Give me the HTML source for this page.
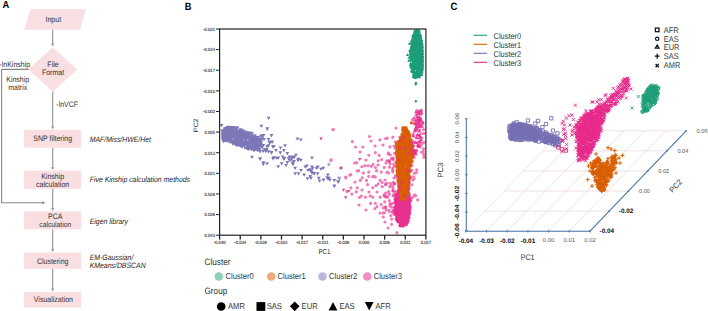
<!DOCTYPE html>
<html><head><meta charset="utf-8"><style>
html,body{margin:0;padding:0;background:#fff;width:708px;height:311px;overflow:hidden}
svg{display:block;font-family:"Liberation Sans", sans-serif;text-rendering:geometricPrecision}
</style></head><body>
<svg width="708" height="311" viewBox="0 0 708 311">
<text x="0" y="0" font-size="9.6" text-anchor="start" fill="#000" font-weight="bold" transform="translate(2.60 4.40) translate(0 3.50) scale(0.97 1.060)">A</text><polygon points="30.5,9.2 86,9.2 80,29.7 24.1,29.7" fill="#f9dfe1"/><text x="0" y="0" font-size="7" text-anchor="middle" fill="#333" transform="translate(53.30 19.30) translate(0 2.72) scale(1.0 1.130)">Input</text><line x1="52.7" y1="29.7" x2="52.7" y2="44.199999999999996" stroke="#999" stroke-width="1.2"/><polygon points="51.1,43.599999999999994 54.300000000000004,43.599999999999994 52.7,46.5" fill="#999"/><polygon points="52.7,47.2 77.4,69.4 52.7,91.5 28.3,69.4" fill="#f9dfe1"/><text x="0" y="0" font-size="7" text-anchor="middle" fill="#333" transform="translate(53.00 64.10) translate(0 2.72) scale(1.0 1.130)">File</text><text x="0" y="0" font-size="7" text-anchor="middle" fill="#333" transform="translate(53.00 72.20) translate(0 2.72) scale(1.0 1.130)">Format</text><text x="0" y="0" font-size="7" text-anchor="start" fill="#333" transform="translate(-0.60 64.00) translate(0 2.72) scale(1.0 1.130)">-lnKinship</text><polyline points="28.6,69.4 1.6,69.4 1.6,202.8 43,202.8" fill="none" stroke="#888" stroke-width="1.1"/><polygon points="42.3,201.2 42.3,204.4 45.3,202.8" fill="#888"/><text x="0" y="0" font-size="7" text-anchor="middle" fill="#333" transform="translate(17.70 79.40) translate(0 2.72) scale(1.0 1.130)">Kinship</text><text x="0" y="0" font-size="7" text-anchor="middle" fill="#333" transform="translate(17.70 87.40) translate(0 2.72) scale(1.0 1.130)">matrix</text><line x1="52.7" y1="91.5" x2="52.7" y2="127.0" stroke="#999" stroke-width="1.2"/><polygon points="51.1,126.39999999999999 54.300000000000004,126.39999999999999 52.7,129.29999999999998" fill="#999"/><text x="0" y="0" font-size="7" text-anchor="start" fill="#333" transform="translate(56.30 104.30) translate(0 2.72) scale(1.0 1.130)">-lnVCF</text><rect x="24.1" y="129.8" width="57.1" height="17.9" fill="#f9dfe1"/><text x="0" y="0" font-size="7.0" text-anchor="middle" fill="#333" transform="translate(52.65 138.70) translate(0 2.72) scale(1.0 1.130)">SNP filtering</text><rect x="24.1" y="170.6" width="57.1" height="18.2" fill="#f9dfe1"/><text x="0" y="0" font-size="7.0" text-anchor="middle" fill="#333" transform="translate(52.65 175.90) translate(0 2.72) scale(1.0 1.130)">Kinship</text><text x="0" y="0" font-size="7.0" text-anchor="middle" fill="#333" transform="translate(52.65 184.60) translate(0 2.72) scale(1.0 1.130)">calculation</text><line x1="52.7" y1="147.7" x2="52.7" y2="167.8" stroke="#999" stroke-width="1.2"/><polygon points="51.1,167.20000000000002 54.300000000000004,167.20000000000002 52.7,170.1" fill="#999"/><rect x="24.1" y="211.4" width="57.1" height="18.0" fill="#f9dfe1"/><text x="0" y="0" font-size="7.0" text-anchor="middle" fill="#333" transform="translate(55.30 216.70) translate(0 2.72) scale(1.0 1.130)">PCA</text><text x="0" y="0" font-size="6.75" text-anchor="middle" fill="#333" transform="translate(55.30 224.80) translate(0 2.62) scale(1.0 1.130)">calculation</text><line x1="52.7" y1="188.8" x2="52.7" y2="208.60000000000002" stroke="#999" stroke-width="1.2"/><polygon points="51.1,208.00000000000003 54.300000000000004,208.00000000000003 52.7,210.9" fill="#999"/><rect x="24.1" y="252.6" width="57.1" height="16.2" fill="#f9dfe1"/><text x="0" y="0" font-size="7.0" text-anchor="middle" fill="#333" transform="translate(52.65 261.60) translate(0 2.72) scale(1.0 1.130)">Clustering</text><line x1="52.7" y1="229.4" x2="52.7" y2="249.8" stroke="#999" stroke-width="1.2"/><polygon points="51.1,249.20000000000002 54.300000000000004,249.20000000000002 52.7,252.1" fill="#999"/><rect x="24.1" y="292.0" width="57.1" height="15.6" fill="#f9dfe1"/><text x="0" y="0" font-size="7.0" text-anchor="middle" fill="#333" transform="translate(53.40 299.60) translate(0 2.72) scale(1.0 1.130)">Visualization</text><line x1="52.7" y1="268.8" x2="52.7" y2="289.2" stroke="#999" stroke-width="1.2"/><polygon points="51.1,288.6 54.300000000000004,288.6 52.7,291.5" fill="#999"/><text x="0" y="0" font-size="6.9" text-anchor="start" fill="#222" font-style="italic" transform="translate(89.70 139.50) translate(0 2.68) scale(1.0 1.130)">MAF/Miss/HWE/Het</text><text x="0" y="0" font-size="6.9" text-anchor="start" fill="#222" font-style="italic" transform="translate(89.70 179.50) translate(0 2.68) scale(1.0 1.130)">Five Kinship calculation methods</text><text x="0" y="0" font-size="6.9" text-anchor="start" fill="#222" font-style="italic" transform="translate(89.70 221.00) translate(0 2.68) scale(1.0 1.130)">Eigen library</text><text x="0" y="0" font-size="6.9" text-anchor="start" fill="#222" font-style="italic" transform="translate(89.70 257.00) translate(0 2.68) scale(1.0 1.130)">EM-Gaussian/</text><text x="0" y="0" font-size="6.9" text-anchor="start" fill="#222" font-style="italic" transform="translate(89.70 265.30) translate(0 2.68) scale(1.0 1.130)">KMeans/DBSCAN</text><text x="0" y="0" font-size="10.6" text-anchor="start" fill="#000" font-weight="bold" transform="translate(184.80 5.85) translate(0 3.65) scale(0.88 1.000)">B</text><line x1="216.00" y1="29.00" x2="219.6" y2="29.00" stroke="#222" stroke-width="1"/><text x="0" y="0" font-size="4.2" text-anchor="end" fill="#3a3a3a" transform="translate(215.00 29.20) translate(0 1.63) scale(1.0 1.130)" stroke="#3a3a3a" stroke-width="0.12">-0.031</text><line x1="216.00" y1="49.62" x2="219.6" y2="49.62" stroke="#222" stroke-width="1"/><text x="0" y="0" font-size="4.2" text-anchor="end" fill="#3a3a3a" transform="translate(215.00 49.82) translate(0 1.63) scale(1.0 1.130)" stroke="#3a3a3a" stroke-width="0.12">-0.024</text><line x1="216.00" y1="70.24" x2="219.6" y2="70.24" stroke="#222" stroke-width="1"/><text x="0" y="0" font-size="4.2" text-anchor="end" fill="#3a3a3a" transform="translate(215.00 70.44) translate(0 1.63) scale(1.0 1.130)" stroke="#3a3a3a" stroke-width="0.12">-0.017</text><line x1="216.00" y1="90.86" x2="219.6" y2="90.86" stroke="#222" stroke-width="1"/><text x="0" y="0" font-size="4.2" text-anchor="end" fill="#3a3a3a" transform="translate(215.00 91.06) translate(0 1.63) scale(1.0 1.130)" stroke="#3a3a3a" stroke-width="0.12">-0.010</text><line x1="216.00" y1="111.48" x2="219.6" y2="111.48" stroke="#222" stroke-width="1"/><text x="0" y="0" font-size="4.2" text-anchor="end" fill="#3a3a3a" transform="translate(215.00 111.68) translate(0 1.63) scale(1.0 1.130)" stroke="#3a3a3a" stroke-width="0.12">-0.002</text><line x1="216.00" y1="132.10" x2="219.6" y2="132.10" stroke="#222" stroke-width="1"/><text x="0" y="0" font-size="4.2" text-anchor="end" fill="#3a3a3a" transform="translate(215.00 132.30) translate(0 1.63) scale(1.0 1.130)" stroke="#3a3a3a" stroke-width="0.12">0.005</text><line x1="216.00" y1="152.72" x2="219.6" y2="152.72" stroke="#222" stroke-width="1"/><text x="0" y="0" font-size="4.2" text-anchor="end" fill="#3a3a3a" transform="translate(215.00 152.92) translate(0 1.63) scale(1.0 1.130)" stroke="#3a3a3a" stroke-width="0.12">0.013</text><line x1="216.00" y1="173.34" x2="219.6" y2="173.34" stroke="#222" stroke-width="1"/><text x="0" y="0" font-size="4.2" text-anchor="end" fill="#3a3a3a" transform="translate(215.00 173.54) translate(0 1.63) scale(1.0 1.130)" stroke="#3a3a3a" stroke-width="0.12">0.021</text><line x1="216.00" y1="193.96" x2="219.6" y2="193.96" stroke="#222" stroke-width="1"/><text x="0" y="0" font-size="4.2" text-anchor="end" fill="#3a3a3a" transform="translate(215.00 194.16) translate(0 1.63) scale(1.0 1.130)" stroke="#3a3a3a" stroke-width="0.12">0.028</text><line x1="216.00" y1="214.58" x2="219.6" y2="214.58" stroke="#222" stroke-width="1"/><text x="0" y="0" font-size="4.2" text-anchor="end" fill="#3a3a3a" transform="translate(215.00 214.78) translate(0 1.63) scale(1.0 1.130)" stroke="#3a3a3a" stroke-width="0.12">0.036</text><line x1="216.00" y1="235.20" x2="219.6" y2="235.20" stroke="#222" stroke-width="1"/><text x="0" y="0" font-size="4.2" text-anchor="end" fill="#3a3a3a" transform="translate(215.00 235.40) translate(0 1.63) scale(1.0 1.130)" stroke="#3a3a3a" stroke-width="0.12">0.043</text><line x1="219.60" y1="235.2" x2="219.60" y2="239.6" stroke="#222" stroke-width="1.3"/><text x="0" y="0" font-size="4.2" text-anchor="middle" fill="#3a3a3a" transform="translate(219.60 242.40) translate(0 1.63) scale(1.0 1.130)" stroke="#3a3a3a" stroke-width="0.12">-0.040</text><line x1="240.23" y1="235.2" x2="240.23" y2="239.6" stroke="#222" stroke-width="1.3"/><text x="0" y="0" font-size="4.2" text-anchor="middle" fill="#3a3a3a" transform="translate(240.23 242.40) translate(0 1.63) scale(1.0 1.130)" stroke="#3a3a3a" stroke-width="0.12">-0.034</text><line x1="260.86" y1="235.2" x2="260.86" y2="239.6" stroke="#222" stroke-width="1.3"/><text x="0" y="0" font-size="4.2" text-anchor="middle" fill="#3a3a3a" transform="translate(260.86 242.40) translate(0 1.63) scale(1.0 1.130)" stroke="#3a3a3a" stroke-width="0.12">-0.028</text><line x1="281.49" y1="235.2" x2="281.49" y2="239.6" stroke="#222" stroke-width="1.3"/><text x="0" y="0" font-size="4.2" text-anchor="middle" fill="#3a3a3a" transform="translate(281.49 242.40) translate(0 1.63) scale(1.0 1.130)" stroke="#3a3a3a" stroke-width="0.12">-0.023</text><line x1="302.12" y1="235.2" x2="302.12" y2="239.6" stroke="#222" stroke-width="1.3"/><text x="0" y="0" font-size="4.2" text-anchor="middle" fill="#3a3a3a" transform="translate(302.12 242.40) translate(0 1.63) scale(1.0 1.130)" stroke="#3a3a3a" stroke-width="0.12">-0.017</text><line x1="322.75" y1="235.2" x2="322.75" y2="239.6" stroke="#222" stroke-width="1.3"/><text x="0" y="0" font-size="4.2" text-anchor="middle" fill="#3a3a3a" transform="translate(322.75 242.40) translate(0 1.63) scale(1.0 1.130)" stroke="#3a3a3a" stroke-width="0.12">-0.011</text><line x1="343.38" y1="235.2" x2="343.38" y2="239.6" stroke="#222" stroke-width="1.3"/><text x="0" y="0" font-size="4.2" text-anchor="middle" fill="#3a3a3a" transform="translate(343.38 242.40) translate(0 1.63) scale(1.0 1.130)" stroke="#3a3a3a" stroke-width="0.12">-0.006</text><line x1="364.01" y1="235.2" x2="364.01" y2="239.6" stroke="#222" stroke-width="1.3"/><text x="0" y="0" font-size="4.2" text-anchor="middle" fill="#3a3a3a" transform="translate(364.01 242.40) translate(0 1.63) scale(1.0 1.130)" stroke="#3a3a3a" stroke-width="0.12">0.000</text><line x1="384.64" y1="235.2" x2="384.64" y2="239.6" stroke="#222" stroke-width="1.3"/><text x="0" y="0" font-size="4.2" text-anchor="middle" fill="#3a3a3a" transform="translate(384.64 242.40) translate(0 1.63) scale(1.0 1.130)" stroke="#3a3a3a" stroke-width="0.12">0.006</text><line x1="405.27" y1="235.2" x2="405.27" y2="239.6" stroke="#222" stroke-width="1.3"/><text x="0" y="0" font-size="4.2" text-anchor="middle" fill="#3a3a3a" transform="translate(405.27 242.40) translate(0 1.63) scale(1.0 1.130)" stroke="#3a3a3a" stroke-width="0.12">0.011</text><line x1="425.90" y1="235.2" x2="425.90" y2="239.6" stroke="#222" stroke-width="1.3"/><text x="0" y="0" font-size="4.2" text-anchor="middle" fill="#3a3a3a" transform="translate(425.90 242.40) translate(0 1.63) scale(1.0 1.130)" stroke="#3a3a3a" stroke-width="0.12">0.017</text><text x="0" y="0" font-size="7.0" text-anchor="middle" fill="#222" transform="translate(196.00 125.40) rotate(-90) translate(0 2.22) scale(1.0 0.920)">PC2</text><text x="0" y="0" font-size="6.2" text-anchor="middle" fill="#222" transform="translate(324.50 251.50) translate(0 2.41) scale(1.0 1.130)">PC1</text><clipPath id="cb"><rect x="219.6" y="29.0" width="206.29999999999998" height="206.2"/></clipPath><g clip-path="url(#cb)"><path d="M233.27,129.30L236.87,129.30L235.07,132.42ZM241.58,134.39L245.18,134.39L243.38,137.51ZM222.85,137.75L226.45,137.75L224.65,140.87ZM222.05,136.00L225.65,136.00L223.85,139.12ZM223.32,127.87L226.92,127.87L225.12,130.99ZM225.43,131.01L229.03,131.01L227.23,134.13ZM243.20,135.12L246.80,135.12L245.00,138.24ZM226.23,128.52L229.83,128.52L228.03,131.63ZM227.66,139.50L231.26,139.50L229.46,142.62ZM245.62,134.55L249.22,134.55L247.42,137.67ZM222.92,130.60L226.52,130.60L224.72,133.72ZM247.24,135.86L250.84,135.86L249.04,138.97ZM232.89,139.60L236.49,139.60L234.69,142.72ZM238.34,132.83L241.94,132.83L240.14,135.94ZM251.71,142.29L255.31,142.29L253.51,145.40ZM230.15,139.33L233.75,139.33L231.95,142.45ZM249.17,132.55L252.77,132.55L250.97,135.66ZM236.97,143.66L240.57,143.66L238.77,146.78ZM226.54,137.31L230.14,137.31L228.34,140.43ZM250.54,139.30L254.14,139.30L252.34,142.42ZM247.83,139.81L251.43,139.81L249.63,142.92ZM243.31,136.53L246.91,136.53L245.11,139.65ZM253.50,148.11L257.10,148.11L255.30,151.23ZM239.16,141.46L242.76,141.46L240.96,144.58ZM235.70,141.57L239.30,141.57L237.50,144.69ZM221.46,136.66L225.06,136.66L223.26,139.78ZM227.17,128.50L230.77,128.50L228.97,131.62ZM225.65,131.59L229.25,131.59L227.45,134.71ZM223.74,136.37L227.34,136.37L225.54,139.49ZM252.69,146.20L256.29,146.20L254.49,149.31ZM231.49,135.56L235.09,135.56L233.29,138.68ZM227.49,131.22L231.09,131.22L229.29,134.34ZM229.72,137.22L233.32,137.22L231.52,140.33ZM243.67,131.95L247.27,131.95L245.47,135.07ZM220.74,135.65L224.34,135.65L222.54,138.77ZM235.05,139.14L238.65,139.14L236.85,142.26ZM257.93,142.08L261.53,142.08L259.73,145.20ZM240.78,140.36L244.38,140.36L242.58,143.48ZM255.83,144.20L259.43,144.20L257.63,147.32ZM254.85,144.63L258.45,144.63L256.65,147.75ZM235.96,135.18L239.56,135.18L237.76,138.30ZM223.02,127.32L226.62,127.32L224.82,130.44ZM228.76,129.57L232.36,129.57L230.56,132.69ZM233.91,126.97L237.51,126.97L235.71,130.09ZM220.59,129.31L224.19,129.31L222.39,132.43ZM224.56,134.34L228.16,134.34L226.36,137.46ZM230.47,133.96L234.07,133.96L232.27,137.07ZM234.85,128.64L238.45,128.64L236.65,131.75ZM238.84,137.19L242.44,137.19L240.64,140.31ZM223.95,128.15L227.55,128.15L225.75,131.26ZM234.01,132.00L237.61,132.00L235.81,135.12ZM241.28,129.20L244.88,129.20L243.08,132.32ZM254.41,142.22L258.01,142.22L256.21,145.34ZM230.81,134.41L234.41,134.41L232.61,137.53ZM241.45,144.18L245.05,144.18L243.25,147.30ZM233.50,131.01L237.10,131.01L235.30,134.13ZM252.38,149.06L255.98,149.06L254.18,152.18ZM253.99,144.82L257.59,144.82L255.79,147.94ZM252.65,143.25L256.25,143.25L254.45,146.37ZM229.47,137.99L233.07,137.99L231.27,141.11ZM234.51,126.41L238.11,126.41L236.31,129.53ZM221.68,132.34L225.28,132.34L223.48,135.46ZM230.74,142.13L234.34,142.13L232.54,145.25ZM229.22,131.10L232.82,131.10L231.02,134.22ZM228.29,130.57L231.89,130.57L230.09,133.68ZM245.04,147.06L248.64,147.06L246.84,150.17ZM253.52,137.09L257.12,137.09L255.32,140.20ZM246.17,144.67L249.77,144.67L247.97,147.79ZM256.23,144.26L259.83,144.26L258.03,147.38ZM249.98,137.05L253.58,137.05L251.78,140.17ZM225.56,129.31L229.16,129.31L227.36,132.42ZM256.04,144.83L259.64,144.83L257.84,147.95ZM259.00,141.30L262.60,141.30L260.80,144.42ZM234.31,138.72L237.91,138.72L236.11,141.84ZM225.71,126.06L229.31,126.06L227.51,129.18ZM258.63,141.12L262.23,141.12L260.43,144.24ZM230.45,132.67L234.05,132.67L232.25,135.78ZM230.01,139.62L233.61,139.62L231.81,142.74ZM230.74,135.65L234.34,135.65L232.54,138.77ZM234.44,136.58L238.04,136.58L236.24,139.70ZM240.24,138.33L243.84,138.33L242.04,141.44ZM237.83,130.06L241.43,130.06L239.63,133.18ZM227.33,136.94L230.93,136.94L229.13,140.06ZM249.00,138.91L252.60,138.91L250.80,142.03ZM233.35,138.01L236.95,138.01L235.15,141.12ZM242.35,144.31L245.95,144.31L244.15,147.42ZM224.74,139.00L228.34,139.00L226.54,142.12ZM230.32,132.29L233.92,132.29L232.12,135.40ZM250.84,137.75L254.44,137.75L252.64,140.87ZM242.59,143.73L246.19,143.73L244.39,146.85ZM256.34,136.23L259.94,136.23L258.14,139.34ZM244.58,137.70L248.18,137.70L246.38,140.82ZM240.65,142.14L244.25,142.14L242.45,145.26ZM238.31,138.36L241.91,138.36L240.11,141.48ZM247.98,146.49L251.58,146.49L249.78,149.61ZM225.35,136.20L228.95,136.20L227.15,139.32ZM223.42,131.43L227.02,131.43L225.22,134.54ZM251.30,146.98L254.90,146.98L253.10,150.10ZM255.18,148.65L258.78,148.65L256.98,151.77ZM236.19,137.27L239.79,137.27L237.99,140.39ZM226.91,135.95L230.51,135.95L228.71,139.07ZM240.79,133.76L244.39,133.76L242.59,136.88ZM228.25,133.27L231.85,133.27L230.05,136.39ZM242.29,136.16L245.89,136.16L244.09,139.28ZM221.29,133.58L224.89,133.58L223.09,136.70ZM245.03,137.86L248.63,137.86L246.83,140.98ZM251.47,148.75L255.07,148.75L253.27,151.87ZM224.69,132.02L228.29,132.02L226.49,135.13ZM231.18,128.79L234.78,128.79L232.98,131.91ZM242.94,142.32L246.54,142.32L244.74,145.44ZM224.09,127.09L227.69,127.09L225.89,130.21ZM247.55,135.80L251.15,135.80L249.35,138.92ZM245.44,144.72L249.04,144.72L247.24,147.84ZM238.36,133.76L241.96,133.76L240.16,136.88ZM231.08,128.79L234.68,128.79L232.88,131.90ZM241.23,131.37L244.83,131.37L243.03,134.49ZM224.87,129.55L228.47,129.55L226.67,132.67ZM222.55,130.51L226.15,130.51L224.35,133.62ZM232.81,132.95L236.41,132.95L234.61,136.07ZM250.34,132.59L253.94,132.59L252.14,135.71ZM240.18,129.94L243.78,129.94L241.98,133.06ZM234.18,126.15L237.78,126.15L235.98,129.27ZM230.39,126.09L233.99,126.09L232.19,129.21ZM249.31,138.78L252.91,138.78L251.11,141.90ZM228.00,136.97L231.60,136.97L229.80,140.09ZM252.67,135.96L256.27,135.96L254.47,139.08ZM235.98,137.73L239.58,137.73L237.78,140.85ZM248.28,140.79L251.88,140.79L250.08,143.91ZM236.44,133.96L240.04,133.96L238.24,137.08ZM222.71,128.80L226.31,128.80L224.51,131.92ZM230.60,129.59L234.20,129.59L232.40,132.71ZM254.69,141.61L258.29,141.61L256.49,144.73ZM231.63,131.46L235.23,131.46L233.43,134.58ZM232.06,136.61L235.66,136.61L233.86,139.73ZM226.75,136.29L230.35,136.29L228.55,139.41ZM258.70,138.69L262.30,138.69L260.50,141.80ZM232.71,134.17L236.31,134.17L234.51,137.29ZM239.18,137.64L242.78,137.64L240.98,140.75ZM228.46,137.68L232.06,137.68L230.26,140.80ZM220.77,131.98L224.37,131.98L222.57,135.10ZM224.10,135.19L227.70,135.19L225.90,138.31ZM232.50,131.24L236.10,131.24L234.30,134.36ZM243.53,138.26L247.13,138.26L245.33,141.38ZM249.99,141.30L253.59,141.30L251.79,144.42ZM248.64,146.55L252.24,146.55L250.44,149.67ZM235.84,133.45L239.44,133.45L237.64,136.57ZM248.96,140.96L252.56,140.96L250.76,144.08ZM255.53,140.59L259.13,140.59L257.33,143.71ZM249.34,144.97L252.94,144.97L251.14,148.09ZM226.04,138.13L229.64,138.13L227.84,141.25ZM240.35,145.51L243.95,145.51L242.15,148.62ZM252.11,145.31L255.71,145.31L253.91,148.42ZM247.34,142.15L250.94,142.15L249.14,145.27ZM229.59,126.46L233.19,126.46L231.39,129.58ZM225.80,134.27L229.40,134.27L227.60,137.39ZM242.47,140.60L246.07,140.60L244.27,143.72ZM245.12,141.85L248.72,141.85L246.92,144.97ZM251.84,143.45L255.44,143.45L253.64,146.57ZM240.29,138.41L243.89,138.41L242.09,141.52ZM249.45,131.70L253.05,131.70L251.25,134.82ZM223.50,132.02L227.10,132.02L225.30,135.13ZM239.94,134.79L243.54,134.79L241.74,137.91ZM239.35,141.92L242.95,141.92L241.15,145.04ZM250.64,140.34L254.24,140.34L252.44,143.46ZM226.36,131.74L229.96,131.74L228.16,134.86ZM249.71,132.94L253.31,132.94L251.51,136.05ZM222.96,132.09L226.56,132.09L224.76,135.21ZM246.91,142.12L250.51,142.12L248.71,145.24ZM247.06,132.62L250.66,132.62L248.86,135.73ZM240.82,136.73L244.42,136.73L242.62,139.85ZM238.86,128.53L242.46,128.53L240.66,131.65ZM221.27,136.60L224.87,136.60L223.07,139.72ZM252.71,148.66L256.31,148.66L254.51,151.78ZM238.19,132.09L241.79,132.09L239.99,135.21ZM228.84,139.50L232.44,139.50L230.64,142.62ZM226.13,138.14L229.73,138.14L227.93,141.26ZM252.72,137.78L256.32,137.78L254.52,140.90ZM255.33,142.39L258.93,142.39L257.13,145.51ZM220.72,137.37L224.32,137.37L222.52,140.49ZM238.24,132.88L241.84,132.88L240.04,136.00ZM226.09,133.87L229.69,133.87L227.89,136.99ZM256.88,142.62L260.48,142.62L258.68,145.74ZM235.17,135.03L238.77,135.03L236.97,138.15ZM234.72,135.87L238.32,135.87L236.52,138.98ZM231.36,126.87L234.96,126.87L233.16,129.99ZM230.35,132.02L233.95,132.02L232.15,135.14ZM240.60,130.22L244.20,130.22L242.40,133.34ZM255.23,144.96L258.83,144.96L257.03,148.08ZM257.44,138.74L261.04,138.74L259.24,141.86ZM249.28,136.41L252.88,136.41L251.08,139.52ZM250.08,140.99L253.68,140.99L251.88,144.11ZM231.80,126.88L235.40,126.88L233.60,130.00ZM239.08,133.87L242.68,133.87L240.88,136.98ZM246.29,132.85L249.89,132.85L248.09,135.97ZM242.42,135.07L246.02,135.07L244.22,138.19ZM227.14,129.55L230.74,129.55L228.94,132.67ZM240.06,130.94L243.66,130.94L241.86,134.06ZM238.21,129.03L241.81,129.03L240.01,132.15ZM228.12,127.87L231.72,127.87L229.92,130.99ZM233.98,127.88L237.58,127.88L235.78,131.00ZM229.95,131.85L233.55,131.85L231.75,134.96ZM249.96,135.50L253.56,135.50L251.76,138.62ZM236.80,138.14L240.40,138.14L238.60,141.26ZM235.35,133.74L238.95,133.74L237.15,136.86ZM223.01,132.30L226.61,132.30L224.81,135.42ZM240.31,140.64L243.91,140.64L242.11,143.76ZM231.20,131.61L234.80,131.61L233.00,134.73ZM236.25,136.29L239.85,136.29L238.05,139.41ZM257.96,145.83L261.56,145.83L259.76,148.95ZM255.68,136.94L259.28,136.94L257.48,140.06ZM252.93,145.99L256.53,145.99L254.73,149.11ZM224.85,129.38L228.45,129.38L226.65,132.50ZM241.05,141.89L244.65,141.89L242.85,145.00ZM257.48,142.83L261.08,142.83L259.28,145.94ZM245.95,143.85L249.55,143.85L247.75,146.96ZM238.50,138.79L242.10,138.79L240.30,141.91ZM245.88,132.92L249.48,132.92L247.68,136.04ZM225.60,131.69L229.20,131.69L227.40,134.81ZM245.52,142.28L249.12,142.28L247.32,145.39ZM224.97,127.39L228.57,127.39L226.77,130.51ZM241.13,139.54L244.73,139.54L242.93,142.65ZM235.79,131.02L239.39,131.02L237.59,134.14ZM232.40,136.64L236.00,136.64L234.20,139.76ZM258.16,141.00L261.76,141.00L259.96,144.11ZM255.21,136.99L258.81,136.99L257.01,140.10ZM229.78,131.58L233.38,131.58L231.58,134.70ZM258.22,142.42L261.82,142.42L260.02,145.54ZM232.63,126.24L236.23,126.24L234.43,129.36ZM240.11,141.71L243.71,141.71L241.91,144.82ZM237.04,131.82L240.64,131.82L238.84,134.94ZM246.73,147.65L250.33,147.65L248.53,150.76ZM229.47,126.53L233.07,126.53L231.27,129.65ZM233.83,135.69L237.43,135.69L235.63,138.81ZM251.82,143.24L255.42,143.24L253.62,146.35ZM240.37,130.59L243.97,130.59L242.17,133.70ZM240.01,130.16L243.61,130.16L241.81,133.28ZM229.33,135.61L232.93,135.61L231.13,138.72ZM226.32,135.05L229.92,135.05L228.12,138.16ZM226.14,126.95L229.74,126.95L227.94,130.07ZM222.94,135.04L226.54,135.04L224.74,138.16ZM255.78,146.66L259.38,146.66L257.58,149.78ZM246.62,134.70L250.22,134.70L248.42,137.81ZM235.23,133.58L238.83,133.58L237.03,136.70ZM227.21,125.79L230.81,125.79L229.01,128.91ZM231.55,134.05L235.15,134.05L233.35,137.17ZM252.79,135.97L256.39,135.97L254.59,139.09ZM222.51,136.94L226.11,136.94L224.31,140.06ZM228.14,134.35L231.74,134.35L229.94,137.47ZM249.86,147.01L253.46,147.01L251.66,150.13ZM233.87,132.18L237.47,132.18L235.67,135.29ZM258.11,140.34L261.71,140.34L259.91,143.46ZM232.98,132.26L236.58,132.26L234.78,135.37ZM256.49,140.75L260.09,140.75L258.29,143.86ZM229.75,136.98L233.35,136.98L231.55,140.10ZM235.73,131.67L239.33,131.67L237.53,134.79ZM237.43,137.42L241.03,137.42L239.23,140.53ZM252.03,143.22L255.63,143.22L253.83,146.34ZM252.82,144.04L256.42,144.04L254.62,147.15ZM244.38,133.49L247.98,133.49L246.18,136.61ZM233.10,134.30L236.70,134.30L234.90,137.42ZM230.27,127.26L233.87,127.26L232.07,130.38ZM221.91,138.82L225.51,138.82L223.71,141.94ZM230.96,127.72L234.56,127.72L232.76,130.83ZM224.36,137.54L227.96,137.54L226.16,140.65ZM248.39,136.31L251.99,136.31L250.19,139.43ZM229.76,135.60L233.36,135.60L231.56,138.72ZM244.89,141.70L248.49,141.70L246.69,144.81ZM249.89,145.79L253.49,145.79L251.69,148.91ZM242.80,134.56L246.40,134.56L244.60,137.68ZM230.28,131.54L233.88,131.54L232.08,134.66ZM243.24,133.46L246.84,133.46L245.04,136.57ZM240.46,131.21L244.06,131.21L242.26,134.32ZM252.26,141.20L255.86,141.20L254.06,144.32ZM239.19,145.13L242.79,145.13L240.99,148.25ZM253.52,147.39L257.12,147.39L255.32,150.51ZM222.16,132.68L225.76,132.68L223.96,135.80ZM225.25,130.22L228.85,130.22L227.05,133.33ZM258.71,139.54L262.31,139.54L260.51,142.66ZM254.52,136.37L258.12,136.37L256.32,139.48ZM243.94,140.41L247.54,140.41L245.74,143.53ZM229.11,134.46L232.71,134.46L230.91,137.58ZM226.12,130.56L229.72,130.56L227.92,133.67ZM230.57,139.93L234.17,139.93L232.37,143.04ZM221.03,133.48L224.63,133.48L222.83,136.60ZM232.81,130.54L236.41,130.54L234.61,133.66ZM251.75,138.71L255.35,138.71L253.55,141.83ZM223.06,128.13L226.66,128.13L224.86,131.24ZM236.07,138.76L239.67,138.76L237.87,141.88ZM236.64,132.44L240.24,132.44L238.44,135.55ZM232.82,139.15L236.42,139.15L234.62,142.27ZM234.58,135.59L238.18,135.59L236.38,138.71ZM234.84,130.40L238.44,130.40L236.64,133.51ZM238.64,129.58L242.24,129.58L240.44,132.69ZM221.16,138.79L224.76,138.79L222.96,141.91ZM245.69,147.28L249.29,147.28L247.49,150.40ZM235.11,137.68L238.71,137.68L236.91,140.79ZM226.30,132.44L229.90,132.44L228.10,135.55ZM224.84,137.35L228.44,137.35L226.64,140.46ZM252.12,148.63L255.72,148.63L253.92,151.75ZM228.31,128.73L231.91,128.73L230.11,131.84ZM256.01,140.42L259.61,140.42L257.81,143.54ZM229.13,135.20L232.73,135.20L230.93,138.31ZM240.88,134.81L244.48,134.81L242.68,137.93ZM225.40,131.58L229.00,131.58L227.20,134.70ZM248.99,146.98L252.59,146.98L250.79,150.10ZM222.19,139.05L225.79,139.05L223.99,142.17ZM244.07,138.76L247.67,138.76L245.87,141.87ZM245.15,132.98L248.75,132.98L246.95,136.10ZM237.04,139.53L240.64,139.53L238.84,142.65ZM237.26,141.33L240.86,141.33L239.06,144.45ZM238.09,136.11L241.69,136.11L239.89,139.23ZM239.76,131.30L243.36,131.30L241.56,134.42ZM250.50,144.21L254.10,144.21L252.30,147.32ZM238.54,129.98L242.14,129.98L240.34,133.10ZM239.12,128.26L242.72,128.26L240.92,131.38ZM225.61,135.93L229.21,135.93L227.41,139.04ZM224.17,136.20L227.77,136.20L225.97,139.31ZM249.32,144.15L252.92,144.15L251.12,147.27ZM240.33,134.68L243.93,134.68L242.13,137.80ZM249.27,145.03L252.87,145.03L251.07,148.15ZM251.48,147.77L255.08,147.77L253.28,150.89ZM223.15,134.04L226.75,134.04L224.95,137.16ZM228.74,131.95L232.34,131.95L230.54,135.07ZM240.41,133.28L244.01,133.28L242.21,136.40ZM222.02,130.04L225.62,130.04L223.82,133.16ZM247.22,146.94L250.82,146.94L249.02,150.06ZM225.09,138.30L228.69,138.30L226.89,141.42ZM245.52,134.25L249.12,134.25L247.32,137.37ZM254.79,138.88L258.39,138.88L256.59,142.00ZM243.31,146.64L246.91,146.64L245.11,149.75ZM245.26,135.07L248.86,135.07L247.06,138.18ZM234.70,143.84L238.30,143.84L236.50,146.96ZM237.91,129.91L241.51,129.91L239.71,133.03ZM243.54,141.45L247.14,141.45L245.34,144.57ZM221.90,129.26L225.50,129.26L223.70,132.38ZM244.72,135.97L248.32,135.97L246.52,139.08ZM225.75,131.11L229.35,131.11L227.55,134.23ZM220.68,134.13L224.28,134.13L222.48,137.25ZM224.75,134.19L228.35,134.19L226.55,137.30ZM229.37,139.55L232.97,139.55L231.17,142.67ZM243.67,130.56L247.27,130.56L245.47,133.68ZM245.03,136.98L248.63,136.98L246.83,140.09ZM230.13,129.26L233.73,129.26L231.93,132.38ZM254.72,144.26L258.32,144.26L256.52,147.37ZM236.33,131.99L239.93,131.99L238.13,135.10ZM242.62,134.03L246.22,134.03L244.42,137.14ZM245.88,136.24L249.48,136.24L247.68,139.36ZM257.31,143.10L260.91,143.10L259.11,146.22ZM222.30,138.32L225.90,138.32L224.10,141.44ZM236.49,131.36L240.09,131.36L238.29,134.47ZM221.06,138.78L224.66,138.78L222.86,141.90ZM228.40,140.13L232.00,140.13L230.20,143.25ZM240.45,140.93L244.05,140.93L242.25,144.04ZM232.70,132.84L236.30,132.84L234.50,135.96ZM251.26,142.67L254.86,142.67L253.06,145.79ZM249.78,136.75L253.38,136.75L251.58,139.87ZM249.65,136.45L253.25,136.45L251.45,139.56ZM229.43,128.22L233.03,128.22L231.23,131.34ZM229.68,126.64L233.28,126.64L231.48,129.76ZM233.73,143.49L237.33,143.49L235.53,146.60ZM247.82,145.75L251.42,145.75L249.62,148.87ZM248.47,132.03L252.07,132.03L250.27,135.14ZM242.28,136.06L245.88,136.06L244.08,139.17ZM251.48,138.12L255.08,138.12L253.28,141.24ZM230.98,140.94L234.58,140.94L232.78,144.05ZM230.78,131.32L234.38,131.32L232.58,134.44ZM249.73,148.11L253.33,148.11L251.53,151.23ZM249.82,133.47L253.42,133.47L251.62,136.59ZM245.30,142.14L248.90,142.14L247.10,145.26ZM247.92,146.04L251.52,146.04L249.72,149.16ZM237.71,142.89L241.31,142.89L239.51,146.01ZM242.93,133.02L246.53,133.02L244.73,136.13ZM228.89,140.48L232.49,140.48L230.69,143.59ZM226.25,126.36L229.85,126.36L228.05,129.48ZM234.09,129.09L237.69,129.09L235.89,132.20ZM247.72,140.74L251.32,140.74L249.52,143.86ZM247.89,143.18L251.49,143.18L249.69,146.30ZM223.16,139.72L226.76,139.72L224.96,142.83ZM252.70,146.84L256.30,146.84L254.50,149.96ZM256.41,148.10L260.01,148.10L258.21,151.22ZM224.78,130.60L228.38,130.60L226.58,133.72ZM224.97,126.54L228.57,126.54L226.77,129.66ZM253.80,144.96L257.40,144.96L255.60,148.08ZM245.43,145.27L249.03,145.27L247.23,148.39ZM245.33,132.53L248.93,132.53L247.13,135.65ZM224.49,128.04L228.09,128.04L226.29,131.16ZM233.09,135.77L236.69,135.77L234.89,138.88ZM221.40,131.81L225.00,131.81L223.20,134.92ZM231.65,142.68L235.25,142.68L233.45,145.80ZM235.00,133.33L238.60,133.33L236.80,136.44ZM258.36,137.66L261.96,137.66L260.16,140.78ZM253.94,140.37L257.54,140.37L255.74,143.49ZM221.79,135.51L225.39,135.51L223.59,138.63ZM237.68,144.04L241.28,144.04L239.48,147.16ZM234.17,142.42L237.77,142.42L235.97,145.54ZM241.66,130.86L245.26,130.86L243.46,133.97ZM220.63,130.51L224.23,130.51L222.43,133.63ZM220.75,137.35L224.35,137.35L222.55,140.47ZM239.84,144.60L243.44,144.60L241.64,147.72ZM227.81,137.44L231.41,137.44L229.61,140.56ZM231.70,130.81L235.30,130.81L233.50,133.93ZM247.99,137.53L251.59,137.53L249.79,140.65ZM247.90,144.37L251.50,144.37L249.70,147.49ZM245.19,134.15L248.79,134.15L246.99,137.27ZM236.31,135.07L239.91,135.07L238.11,138.19ZM228.66,131.96L232.26,131.96L230.46,135.08ZM255.90,137.60L259.50,137.60L257.70,140.72ZM229.73,136.65L233.33,136.65L231.53,139.76ZM241.41,143.60L245.01,143.60L243.21,146.72ZM250.09,141.04L253.69,141.04L251.89,144.16ZM234.24,133.46L237.84,133.46L236.04,136.58ZM246.53,143.30L250.13,143.30L248.33,146.42ZM227.22,136.12L230.82,136.12L229.02,139.24ZM250.89,139.45L254.49,139.45L252.69,142.56ZM225.52,136.67L229.12,136.67L227.32,139.79ZM228.09,132.87L231.69,132.87L229.89,135.99ZM248.14,145.71L251.74,145.71L249.94,148.83ZM226.64,129.42L230.24,129.42L228.44,132.54ZM230.28,133.46L233.88,133.46L232.08,136.58ZM241.04,129.54L244.64,129.54L242.84,132.65ZM233.44,130.21L237.04,130.21L235.24,133.33ZM258.79,142.99L262.39,142.99L260.59,146.11ZM224.56,134.83L228.16,134.83L226.36,137.95ZM249.32,136.03L252.92,136.03L251.12,139.15ZM228.27,140.84L231.87,140.84L230.07,143.96ZM224.77,130.62L228.37,130.62L226.57,133.73ZM235.80,126.53L239.40,126.53L237.60,129.65ZM247.75,137.58L251.35,137.58L249.55,140.70ZM245.36,136.70L248.96,136.70L247.16,139.82ZM226.14,140.03L229.74,140.03L227.94,143.15ZM236.44,143.28L240.04,143.28L238.24,146.40ZM256.16,135.91L259.76,135.91L257.96,139.03ZM243.07,143.47L246.67,143.47L244.87,146.59ZM237.08,131.14L240.68,131.14L238.88,134.26ZM248.88,146.58L252.48,146.58L250.68,149.69ZM250.91,142.31L254.51,142.31L252.71,145.43ZM253.99,141.83L257.59,141.83L255.79,144.94ZM245.72,136.48L249.32,136.48L247.52,139.60ZM232.85,140.61L236.45,140.61L234.65,143.73ZM224.42,135.67L228.02,135.67L226.22,138.78ZM251.24,142.62L254.84,142.62L253.04,145.74ZM245.25,131.65L248.85,131.65L247.05,134.77ZM237.18,136.51L240.78,136.51L238.98,139.63ZM244.94,135.42L248.54,135.42L246.74,138.54ZM247.04,147.76L250.64,147.76L248.84,150.88ZM251.08,134.93L254.68,134.93L252.88,138.05ZM222.08,138.60L225.68,138.60L223.88,141.72ZM257.44,138.03L261.04,138.03L259.24,141.14ZM224.54,139.34L228.14,139.34L226.34,142.46ZM241.78,142.72L245.38,142.72L243.58,145.84ZM240.65,140.87L244.25,140.87L242.45,143.99ZM253.07,138.09L256.67,138.09L254.87,141.20ZM235.96,143.80L239.56,143.80L237.76,146.91ZM234.51,127.07L238.11,127.07L236.31,130.18ZM231.33,135.19L234.93,135.19L233.13,138.31ZM221.10,135.64L224.70,135.64L222.90,138.76ZM237.06,142.27L240.66,142.27L238.86,145.39ZM234.38,132.01L237.98,132.01L236.18,135.12ZM257.41,138.21L261.01,138.21L259.21,141.33ZM235.94,130.75L239.54,130.75L237.74,133.87ZM252.31,140.75L255.91,140.75L254.11,143.87ZM238.97,139.04L242.57,139.04L240.77,142.16ZM234.42,140.86L238.02,140.86L236.22,143.98ZM252.66,145.06L256.26,145.06L254.46,148.18ZM238.92,132.70L242.52,132.70L240.72,135.82ZM253.25,134.13L256.85,134.13L255.05,137.25ZM235.32,131.73L238.92,131.73L237.12,134.85ZM237.28,130.13L240.88,130.13L239.08,133.25ZM231.60,131.53L235.20,131.53L233.40,134.65ZM232.41,137.09L236.01,137.09L234.21,140.20ZM237.37,140.82L240.97,140.82L239.17,143.94ZM246.42,134.31L250.02,134.31L248.22,137.43ZM256.97,145.97L260.57,145.97L258.77,149.09ZM256.08,144.30L259.68,144.30L257.88,147.42ZM246.29,131.65L249.89,131.65L248.09,134.77ZM224.56,129.11L228.16,129.11L226.36,132.22ZM234.16,129.34L237.76,129.34L235.96,132.46ZM256.01,144.48L259.61,144.48L257.81,147.60ZM244.42,144.24L248.02,144.24L246.22,147.35ZM246.78,146.90L250.38,146.90L248.58,150.02ZM251.46,145.60L255.06,145.60L253.26,148.72ZM241.38,143.30L244.98,143.30L243.18,146.42ZM242.33,131.99L245.93,131.99L244.13,135.11ZM229.76,129.03L233.36,129.03L231.56,132.14ZM238.88,129.15L242.48,129.15L240.68,132.26ZM239.84,137.53L243.44,137.53L241.64,140.65ZM238.92,139.05L242.52,139.05L240.72,142.17ZM246.65,145.64L250.25,145.64L248.45,148.76ZM235.27,135.65L238.87,135.65L237.07,138.77ZM245.54,140.80L249.14,140.80L247.34,143.91ZM221.70,140.17L225.30,140.17L223.50,143.29ZM247.33,147.80L250.93,147.80L249.13,150.91ZM240.59,137.21L244.19,137.21L242.39,140.33ZM248.72,140.54L252.32,140.54L250.52,143.66ZM234.93,136.97L238.53,136.97L236.73,140.09ZM241.17,143.98L244.77,143.98L242.97,147.10ZM228.84,136.04L232.44,136.04L230.64,139.15ZM237.13,138.85L240.73,138.85L238.93,141.97ZM253.02,135.29L256.62,135.29L254.82,138.41ZM240.32,132.16L243.92,132.16L242.12,135.28ZM246.23,144.49L249.83,144.49L248.03,147.61ZM233.55,133.24L237.15,133.24L235.35,136.36ZM232.31,139.62L235.91,139.62L234.11,142.74ZM245.46,144.31L249.06,144.31L247.26,147.42ZM255.29,138.65L258.89,138.65L257.09,141.76ZM222.53,132.84L226.13,132.84L224.33,135.96ZM220.82,130.22L224.42,130.22L222.62,133.34ZM256.69,140.15L260.29,140.15L258.49,143.26ZM246.37,144.42L249.97,144.42L248.17,147.54ZM256.23,140.22L259.83,140.22L258.03,143.34ZM244.75,140.58L248.35,140.58L246.55,143.69ZM247.87,139.85L251.47,139.85L249.67,142.97ZM246.72,136.57L250.32,136.57L248.52,139.69ZM227.68,126.60L231.28,126.60L229.48,129.72ZM250.93,147.38L254.53,147.38L252.73,150.50ZM246.28,134.46L249.88,134.46L248.08,137.58ZM252.82,144.36L256.42,144.36L254.62,147.48ZM242.61,131.84L246.21,131.84L244.41,134.96ZM232.42,135.72L236.02,135.72L234.22,138.84ZM233.06,135.93L236.66,135.93L234.86,139.05ZM257.64,141.84L261.24,141.84L259.44,144.96ZM256.88,142.49L260.48,142.49L258.68,145.61ZM256.55,139.04L260.15,139.04L258.35,142.16ZM255.93,141.48L259.53,141.48L257.73,144.60ZM260.39,137.28L263.99,137.28L262.19,140.40ZM254.26,142.38L257.86,142.38L256.06,145.50ZM257.43,144.98L261.03,144.98L259.23,148.10ZM250.69,138.27L254.29,138.27L252.49,141.39ZM250.53,138.41L254.13,138.41L252.33,141.52ZM260.57,144.67L264.17,144.67L262.37,147.78ZM258.39,150.31L261.99,150.31L260.19,153.42ZM253.28,141.68L256.88,141.68L255.08,144.80ZM259.68,137.22L263.28,137.22L261.48,140.34ZM247.75,133.44L251.35,133.44L249.55,136.55ZM255.69,139.76L259.29,139.76L257.49,142.88ZM261.65,144.04L265.25,144.04L263.45,147.16ZM246.79,131.33L250.39,131.33L248.59,134.45ZM248.41,145.27L252.01,145.27L250.21,148.38ZM251.64,135.14L255.24,135.14L253.44,138.26ZM247.72,142.73L251.32,142.73L249.52,145.85ZM253.97,138.78L257.57,138.78L255.77,141.89ZM257.95,148.45L261.55,148.45L259.75,151.56ZM292.39,155.84L296.19,155.84L294.29,159.13ZM305.61,177.32L309.41,177.32L307.51,180.61ZM286.70,157.35L290.50,157.35L288.60,160.64ZM325.17,176.25L328.97,176.25L327.07,179.54ZM266.60,137.93L270.40,137.93L268.50,141.22ZM310.71,166.91L314.51,166.91L312.61,170.21ZM274.51,156.82L278.31,156.82L276.41,160.11ZM293.98,153.72L297.78,153.72L295.88,157.01ZM309.21,169.34L313.01,169.34L311.11,172.63ZM267.85,141.70L271.65,141.70L269.75,144.99ZM309.65,171.10L313.45,171.10L311.55,174.39ZM308.23,175.01L312.03,175.01L310.13,178.30ZM290.29,156.47L294.09,156.47L292.19,159.76ZM304.99,164.52L308.79,164.52L306.89,167.81ZM272.10,156.27L275.90,156.27L274.00,159.56ZM311.17,171.66L314.97,171.66L313.07,174.95ZM326.21,177.35L330.01,177.35L328.11,180.64ZM296.13,159.12L299.93,159.12L298.03,162.41ZM262.70,148.04L266.50,148.04L264.60,151.33ZM279.77,162.28L283.57,162.28L281.67,165.58ZM307.93,168.28L311.73,168.28L309.83,171.58ZM317.69,179.52L321.49,179.52L319.59,182.81ZM278.38,151.37L282.18,151.37L280.28,154.66ZM266.62,150.36L270.42,150.36L268.52,153.65ZM270.91,145.58L274.71,145.58L272.81,148.87ZM282.56,156.88L286.36,156.88L284.46,160.17ZM332.40,178.89L336.20,178.89L334.30,182.18ZM290.56,161.44L294.36,161.44L292.46,164.73ZM290.57,155.40L294.37,155.40L292.47,158.69ZM261.44,161.33L265.24,161.33L263.34,164.62ZM315.90,165.60L319.70,165.60L317.80,168.89ZM264.47,149.18L268.27,149.18L266.37,152.47ZM321.64,178.61L325.44,178.61L323.54,181.90ZM327.99,178.53L331.79,178.53L329.89,181.82ZM264.87,147.88L268.67,147.88L266.77,151.17ZM259.01,134.66L262.81,134.66L260.91,137.95ZM276.35,165.15L280.15,165.15L278.25,168.44ZM259.45,140.64L263.25,140.64L261.35,143.93ZM261.29,149.80L265.09,149.80L263.19,153.09ZM281.95,149.03L285.75,149.03L283.85,152.32ZM296.45,157.70L300.25,157.70L298.35,160.99ZM261.43,162.87L265.23,162.87L263.33,166.16ZM266.70,116.80L270.50,116.80L268.60,120.09ZM259.50,124.70L263.30,124.70L261.40,127.99ZM265.30,127.60L269.10,127.60L267.20,130.89ZM219.70,124.00L223.50,124.00L221.60,127.29ZM269.60,134.10L273.40,134.10L271.50,137.39ZM261.60,134.10L265.40,134.10L263.50,137.39ZM270.30,140.60L274.10,140.60L272.20,143.89ZM266.70,144.30L270.50,144.30L268.60,147.59ZM263.80,150.00L267.60,150.00L265.70,153.29ZM250.10,155.80L253.90,155.80L252.00,159.09ZM258.00,157.30L261.80,157.30L259.90,160.59ZM269.60,151.50L273.40,151.50L271.50,154.79ZM271.10,157.30L274.90,157.30L273.00,160.59ZM265.60,127.30L269.40,127.30L267.50,130.59ZM260.60,134.00L264.40,134.00L262.50,137.29ZM269.60,134.00L273.40,134.00L271.50,137.29ZM267.40,140.80L271.20,140.80L269.30,144.09ZM265.10,145.30L268.90,145.30L267.00,148.59ZM269.60,150.90L273.40,150.90L271.50,154.19ZM278.60,146.40L282.40,146.40L280.50,149.69ZM283.10,144.20L286.90,144.20L285.00,147.49ZM258.30,157.70L262.10,157.70L260.20,160.99ZM265.10,162.20L268.90,162.20L267.00,165.49ZM271.90,156.50L275.70,156.50L273.80,159.79ZM276.40,156.50L280.20,156.50L278.30,159.79ZM280.90,155.40L284.70,155.40L282.80,158.69ZM282.00,157.70L285.80,157.70L283.90,160.99ZM285.40,152.00L289.20,152.00L287.30,155.29ZM287.60,155.40L291.40,155.40L289.50,158.69ZM289.90,157.70L293.70,157.70L291.80,160.99ZM295.50,137.40L299.30,137.40L297.40,140.69ZM298.90,138.50L302.70,138.50L300.80,141.79ZM279.70,162.20L283.50,162.20L281.60,165.49ZM285.40,161.00L289.20,161.00L287.30,164.29ZM292.10,159.90L295.90,159.90L294.00,163.19ZM296.60,157.70L300.40,157.70L298.50,160.99ZM298.90,158.80L302.70,158.80L300.80,162.09ZM293.20,166.70L297.00,166.70L295.10,169.99ZM296.60,172.30L300.40,172.30L298.50,175.59ZM293.20,172.30L297.00,172.30L295.10,175.59ZM302.20,173.40L306.00,173.40L304.10,176.69ZM303.40,165.50L307.20,165.50L305.30,168.79ZM310.10,156.50L313.90,156.50L312.00,159.79ZM310.10,165.50L313.90,165.50L312.00,168.79ZM314.60,166.70L318.40,166.70L316.50,169.99ZM312.40,172.30L316.20,172.30L314.30,175.59ZM315.70,172.30L319.50,172.30L317.60,175.59ZM319.10,167.80L322.90,167.80L321.00,171.09ZM321.40,166.70L325.20,166.70L323.30,169.99ZM309.00,176.80L312.80,176.80L310.90,180.09ZM316.90,176.80L320.70,176.80L318.80,180.09ZM325.90,173.40L329.70,173.40L327.80,176.69ZM327.00,176.80L330.80,176.80L328.90,180.09ZM332.60,184.70L336.40,184.70L334.50,187.99ZM336.00,180.20L339.80,180.20L337.90,183.49ZM332.30,184.60L336.10,184.60L334.20,187.89ZM337.50,177.30L341.30,177.30L339.40,180.59ZM336.50,180.40L340.30,180.40L338.40,183.69ZM258.10,140.90L261.90,140.90L260.00,144.19ZM260.10,145.90L263.90,145.90L262.00,149.19ZM256.10,148.90L259.90,148.90L258.00,152.19ZM262.10,137.90L265.90,137.90L264.00,141.19ZM259.10,142.90L262.90,142.90L261.00,146.19ZM264.10,147.90L267.90,147.90L266.00,151.19ZM254.10,144.90L257.90,144.90L256.00,148.19ZM274.10,148.90L277.90,148.90L276.00,152.19ZM272.10,144.90L275.90,144.90L274.00,148.19ZM288.10,158.90L291.90,158.90L290.00,162.19ZM291.10,162.90L294.90,162.90L293.00,166.19ZM284.10,163.90L287.90,163.90L286.00,167.19ZM299.10,168.90L302.90,168.90L301.00,172.19ZM306.10,168.90L309.90,168.90L308.00,172.19Z" fill="#7570b3" fill-opacity="0.95"/><path d="M337.40,177.90a1.60,1.60 0 1,0 3.20,0a1.60,1.60 0 1,0 -3.20,0ZM327.30,164.40a1.60,1.60 0 1,0 3.20,0a1.60,1.60 0 1,0 -3.20,0ZM339.00,168.10a1.60,1.60 0 1,0 3.20,0a1.60,1.60 0 1,0 -3.20,0Z" fill="#a59fd0" fill-opacity="0.9"/><path d="M331.30,129.60a1.60,1.60 0 1,0 3.20,0a1.60,1.60 0 1,0 -3.20,0ZM368.00,136.50a1.60,1.60 0 1,0 3.20,0a1.60,1.60 0 1,0 -3.20,0ZM378.30,139.80a1.60,1.60 0 1,0 3.20,0a1.60,1.60 0 1,0 -3.20,0ZM384.00,138.60a1.60,1.60 0 1,0 3.20,0a1.60,1.60 0 1,0 -3.20,0ZM391.10,137.30a1.60,1.60 0 1,0 3.20,0a1.60,1.60 0 1,0 -3.20,0ZM398.10,137.30a1.60,1.60 0 1,0 3.20,0a1.60,1.60 0 1,0 -3.20,0ZM353.90,147.00a1.60,1.60 0 1,0 3.20,0a1.60,1.60 0 1,0 -3.20,0ZM361.30,147.00a1.60,1.60 0 1,0 3.20,0a1.60,1.60 0 1,0 -3.20,0ZM367.20,155.30a1.60,1.60 0 1,0 3.20,0a1.60,1.60 0 1,0 -3.20,0ZM373.70,152.70a1.60,1.60 0 1,0 3.20,0a1.60,1.60 0 1,0 -3.20,0ZM377.50,155.30a1.60,1.60 0 1,0 3.20,0a1.60,1.60 0 1,0 -3.20,0ZM386.50,154.00a1.60,1.60 0 1,0 3.20,0a1.60,1.60 0 1,0 -3.20,0ZM329.20,160.40a1.60,1.60 0 1,0 3.20,0a1.60,1.60 0 1,0 -3.20,0ZM353.10,163.00a1.60,1.60 0 1,0 3.20,0a1.60,1.60 0 1,0 -3.20,0ZM363.40,165.60a1.60,1.60 0 1,0 3.20,0a1.60,1.60 0 1,0 -3.20,0ZM369.80,166.30a1.60,1.60 0 1,0 3.20,0a1.60,1.60 0 1,0 -3.20,0ZM380.10,159.60a1.60,1.60 0 1,0 3.20,0a1.60,1.60 0 1,0 -3.20,0ZM382.70,167.40a1.60,1.60 0 1,0 3.20,0a1.60,1.60 0 1,0 -3.20,0ZM387.80,161.70a1.60,1.60 0 1,0 3.20,0a1.60,1.60 0 1,0 -3.20,0ZM391.70,157.80a1.60,1.60 0 1,0 3.20,0a1.60,1.60 0 1,0 -3.20,0ZM357.00,170.70a1.60,1.60 0 1,0 3.20,0a1.60,1.60 0 1,0 -3.20,0ZM367.20,172.00a1.60,1.60 0 1,0 3.20,0a1.60,1.60 0 1,0 -3.20,0ZM375.00,170.70a1.60,1.60 0 1,0 3.20,0a1.60,1.60 0 1,0 -3.20,0ZM349.20,174.60a1.60,1.60 0 1,0 3.20,0a1.60,1.60 0 1,0 -3.20,0ZM344.10,177.10a1.60,1.60 0 1,0 3.20,0a1.60,1.60 0 1,0 -3.20,0ZM371.10,176.60a1.60,1.60 0 1,0 3.20,0a1.60,1.60 0 1,0 -3.20,0ZM373.70,177.10a1.60,1.60 0 1,0 3.20,0a1.60,1.60 0 1,0 -3.20,0ZM331.80,129.50a1.60,1.60 0 1,0 3.20,0a1.60,1.60 0 1,0 -3.20,0ZM329.50,159.90a1.60,1.60 0 1,0 3.20,0a1.60,1.60 0 1,0 -3.20,0ZM339.70,167.80a1.60,1.60 0 1,0 3.20,0a1.60,1.60 0 1,0 -3.20,0ZM344.20,177.90a1.60,1.60 0 1,0 3.20,0a1.60,1.60 0 1,0 -3.20,0ZM345.30,191.40a1.60,1.60 0 1,0 3.20,0a1.60,1.60 0 1,0 -3.20,0ZM348.20,175.20a1.60,1.60 0 1,0 3.20,0a1.60,1.60 0 1,0 -3.20,0ZM355.60,171.00a1.60,1.60 0 1,0 3.20,0a1.60,1.60 0 1,0 -3.20,0ZM361.80,173.10a1.60,1.60 0 1,0 3.20,0a1.60,1.60 0 1,0 -3.20,0ZM367.10,172.10a1.60,1.60 0 1,0 3.20,0a1.60,1.60 0 1,0 -3.20,0ZM367.10,176.30a1.60,1.60 0 1,0 3.20,0a1.60,1.60 0 1,0 -3.20,0ZM372.30,176.30a1.60,1.60 0 1,0 3.20,0a1.60,1.60 0 1,0 -3.20,0ZM379.60,172.10a1.60,1.60 0 1,0 3.20,0a1.60,1.60 0 1,0 -3.20,0ZM386.90,173.10a1.60,1.60 0 1,0 3.20,0a1.60,1.60 0 1,0 -3.20,0ZM358.70,180.40a1.60,1.60 0 1,0 3.20,0a1.60,1.60 0 1,0 -3.20,0ZM365.00,180.40a1.60,1.60 0 1,0 3.20,0a1.60,1.60 0 1,0 -3.20,0ZM378.50,180.40a1.60,1.60 0 1,0 3.20,0a1.60,1.60 0 1,0 -3.20,0ZM380.60,182.50a1.60,1.60 0 1,0 3.20,0a1.60,1.60 0 1,0 -3.20,0ZM366.00,184.60a1.60,1.60 0 1,0 3.20,0a1.60,1.60 0 1,0 -3.20,0ZM371.20,187.80a1.60,1.60 0 1,0 3.20,0a1.60,1.60 0 1,0 -3.20,0ZM374.40,185.70a1.60,1.60 0 1,0 3.20,0a1.60,1.60 0 1,0 -3.20,0ZM380.60,186.70a1.60,1.60 0 1,0 3.20,0a1.60,1.60 0 1,0 -3.20,0ZM355.60,187.80a1.60,1.60 0 1,0 3.20,0a1.60,1.60 0 1,0 -3.20,0ZM349.30,187.80a1.60,1.60 0 1,0 3.20,0a1.60,1.60 0 1,0 -3.20,0ZM350.30,194.00a1.60,1.60 0 1,0 3.20,0a1.60,1.60 0 1,0 -3.20,0ZM359.70,196.10a1.60,1.60 0 1,0 3.20,0a1.60,1.60 0 1,0 -3.20,0ZM363.90,197.20a1.60,1.60 0 1,0 3.20,0a1.60,1.60 0 1,0 -3.20,0ZM371.20,197.20a1.60,1.60 0 1,0 3.20,0a1.60,1.60 0 1,0 -3.20,0ZM378.50,197.20a1.60,1.60 0 1,0 3.20,0a1.60,1.60 0 1,0 -3.20,0ZM382.70,196.10a1.60,1.60 0 1,0 3.20,0a1.60,1.60 0 1,0 -3.20,0ZM386.90,191.90a1.60,1.60 0 1,0 3.20,0a1.60,1.60 0 1,0 -3.20,0ZM391.10,190.90a1.60,1.60 0 1,0 3.20,0a1.60,1.60 0 1,0 -3.20,0ZM385.90,197.20a1.60,1.60 0 1,0 3.20,0a1.60,1.60 0 1,0 -3.20,0ZM369.10,203.40a1.60,1.60 0 1,0 3.20,0a1.60,1.60 0 1,0 -3.20,0ZM375.40,206.60a1.60,1.60 0 1,0 3.20,0a1.60,1.60 0 1,0 -3.20,0ZM373.30,208.70a1.60,1.60 0 1,0 3.20,0a1.60,1.60 0 1,0 -3.20,0ZM379.60,204.50a1.60,1.60 0 1,0 3.20,0a1.60,1.60 0 1,0 -3.20,0ZM384.80,209.70a1.60,1.60 0 1,0 3.20,0a1.60,1.60 0 1,0 -3.20,0ZM391.10,203.40a1.60,1.60 0 1,0 3.20,0a1.60,1.60 0 1,0 -3.20,0ZM381.70,217.00a1.60,1.60 0 1,0 3.20,0a1.60,1.60 0 1,0 -3.20,0ZM390.00,219.10a1.60,1.60 0 1,0 3.20,0a1.60,1.60 0 1,0 -3.20,0ZM390.00,224.30a1.60,1.60 0 1,0 3.20,0a1.60,1.60 0 1,0 -3.20,0ZM395.30,232.70a1.60,1.60 0 1,0 3.20,0a1.60,1.60 0 1,0 -3.20,0ZM385.60,138.20a1.60,1.60 0 1,0 3.20,0a1.60,1.60 0 1,0 -3.20,0ZM391.30,137.00a1.60,1.60 0 1,0 3.20,0a1.60,1.60 0 1,0 -3.20,0ZM393.50,148.30a1.60,1.60 0 1,0 3.20,0a1.60,1.60 0 1,0 -3.20,0ZM386.80,152.80a1.60,1.60 0 1,0 3.20,0a1.60,1.60 0 1,0 -3.20,0ZM390.10,158.40a1.60,1.60 0 1,0 3.20,0a1.60,1.60 0 1,0 -3.20,0ZM387.90,160.60a1.60,1.60 0 1,0 3.20,0a1.60,1.60 0 1,0 -3.20,0ZM385.80,172.20a1.60,1.60 0 1,0 3.20,0a1.60,1.60 0 1,0 -3.20,0ZM387.10,191.70a1.60,1.60 0 1,0 3.20,0a1.60,1.60 0 1,0 -3.20,0ZM384.60,196.60a1.60,1.60 0 1,0 3.20,0a1.60,1.60 0 1,0 -3.20,0ZM389.50,204.00a1.60,1.60 0 1,0 3.20,0a1.60,1.60 0 1,0 -3.20,0ZM358.40,152.00a1.60,1.60 0 1,0 3.20,0a1.60,1.60 0 1,0 -3.20,0ZM364.40,160.00a1.60,1.60 0 1,0 3.20,0a1.60,1.60 0 1,0 -3.20,0ZM381.40,145.00a1.60,1.60 0 1,0 3.20,0a1.60,1.60 0 1,0 -3.20,0ZM384.40,163.00a1.60,1.60 0 1,0 3.20,0a1.60,1.60 0 1,0 -3.20,0ZM376.40,165.00a1.60,1.60 0 1,0 3.20,0a1.60,1.60 0 1,0 -3.20,0ZM353.40,182.00a1.60,1.60 0 1,0 3.20,0a1.60,1.60 0 1,0 -3.20,0ZM360.40,190.00a1.60,1.60 0 1,0 3.20,0a1.60,1.60 0 1,0 -3.20,0ZM383.40,180.00a1.60,1.60 0 1,0 3.20,0a1.60,1.60 0 1,0 -3.20,0ZM389.40,185.00a1.60,1.60 0 1,0 3.20,0a1.60,1.60 0 1,0 -3.20,0ZM375.40,192.00a1.60,1.60 0 1,0 3.20,0a1.60,1.60 0 1,0 -3.20,0ZM367.40,192.00a1.60,1.60 0 1,0 3.20,0a1.60,1.60 0 1,0 -3.20,0ZM357.40,205.00a1.60,1.60 0 1,0 3.20,0a1.60,1.60 0 1,0 -3.20,0ZM364.40,210.00a1.60,1.60 0 1,0 3.20,0a1.60,1.60 0 1,0 -3.20,0ZM378.40,213.00a1.60,1.60 0 1,0 3.20,0a1.60,1.60 0 1,0 -3.20,0ZM383.40,222.00a1.60,1.60 0 1,0 3.20,0a1.60,1.60 0 1,0 -3.20,0ZM386.40,228.00a1.60,1.60 0 1,0 3.20,0a1.60,1.60 0 1,0 -3.20,0ZM390.40,212.00a1.60,1.60 0 1,0 3.20,0a1.60,1.60 0 1,0 -3.20,0ZM393.40,195.00a1.60,1.60 0 1,0 3.20,0a1.60,1.60 0 1,0 -3.20,0ZM392.40,178.00a1.60,1.60 0 1,0 3.20,0a1.60,1.60 0 1,0 -3.20,0ZM391.40,168.00a1.60,1.60 0 1,0 3.20,0a1.60,1.60 0 1,0 -3.20,0ZM392.40,146.00a1.60,1.60 0 1,0 3.20,0a1.60,1.60 0 1,0 -3.20,0ZM394.40,128.00a1.60,1.60 0 1,0 3.20,0a1.60,1.60 0 1,0 -3.20,0ZM373.40,146.00a1.60,1.60 0 1,0 3.20,0a1.60,1.60 0 1,0 -3.20,0ZM369.40,141.00a1.60,1.60 0 1,0 3.20,0a1.60,1.60 0 1,0 -3.20,0ZM392.19,194.66a1.60,1.60 0 1,0 3.20,0a1.60,1.60 0 1,0 -3.20,0ZM388.82,183.37a1.60,1.60 0 1,0 3.20,0a1.60,1.60 0 1,0 -3.20,0ZM357.73,197.48a1.60,1.60 0 1,0 3.20,0a1.60,1.60 0 1,0 -3.20,0ZM394.30,162.61a1.60,1.60 0 1,0 3.20,0a1.60,1.60 0 1,0 -3.20,0ZM366.57,165.74a1.60,1.60 0 1,0 3.20,0a1.60,1.60 0 1,0 -3.20,0ZM350.70,141.57a1.60,1.60 0 1,0 3.20,0a1.60,1.60 0 1,0 -3.20,0ZM394.26,200.48a1.60,1.60 0 1,0 3.20,0a1.60,1.60 0 1,0 -3.20,0ZM354.69,191.93a1.60,1.60 0 1,0 3.20,0a1.60,1.60 0 1,0 -3.20,0ZM373.78,167.52a1.60,1.60 0 1,0 3.20,0a1.60,1.60 0 1,0 -3.20,0ZM368.55,195.91a1.60,1.60 0 1,0 3.20,0a1.60,1.60 0 1,0 -3.20,0ZM393.90,175.61a1.60,1.60 0 1,0 3.20,0a1.60,1.60 0 1,0 -3.20,0ZM393.71,194.16a1.60,1.60 0 1,0 3.20,0a1.60,1.60 0 1,0 -3.20,0ZM383.98,184.86a1.60,1.60 0 1,0 3.20,0a1.60,1.60 0 1,0 -3.20,0ZM393.48,193.26a1.60,1.60 0 1,0 3.20,0a1.60,1.60 0 1,0 -3.20,0ZM373.74,203.29a1.60,1.60 0 1,0 3.20,0a1.60,1.60 0 1,0 -3.20,0ZM392.69,183.67a1.60,1.60 0 1,0 3.20,0a1.60,1.60 0 1,0 -3.20,0ZM394.34,193.40a1.60,1.60 0 1,0 3.20,0a1.60,1.60 0 1,0 -3.20,0ZM355.15,162.68a1.60,1.60 0 1,0 3.20,0a1.60,1.60 0 1,0 -3.20,0ZM360.59,177.73a1.60,1.60 0 1,0 3.20,0a1.60,1.60 0 1,0 -3.20,0ZM385.40,172.49a1.60,1.60 0 1,0 3.20,0a1.60,1.60 0 1,0 -3.20,0ZM393.98,213.04a1.60,1.60 0 1,0 3.20,0a1.60,1.60 0 1,0 -3.20,0ZM376.63,160.81a1.60,1.60 0 1,0 3.20,0a1.60,1.60 0 1,0 -3.20,0ZM385.19,160.87a1.60,1.60 0 1,0 3.20,0a1.60,1.60 0 1,0 -3.20,0ZM384.14,206.72a1.60,1.60 0 1,0 3.20,0a1.60,1.60 0 1,0 -3.20,0ZM376.64,183.74a1.60,1.60 0 1,0 3.20,0a1.60,1.60 0 1,0 -3.20,0ZM394.26,191.91a1.60,1.60 0 1,0 3.20,0a1.60,1.60 0 1,0 -3.20,0ZM371.48,164.47a1.60,1.60 0 1,0 3.20,0a1.60,1.60 0 1,0 -3.20,0ZM360.28,166.75a1.60,1.60 0 1,0 3.20,0a1.60,1.60 0 1,0 -3.20,0ZM391.21,171.98a1.60,1.60 0 1,0 3.20,0a1.60,1.60 0 1,0 -3.20,0ZM391.09,186.35a1.60,1.60 0 1,0 3.20,0a1.60,1.60 0 1,0 -3.20,0Z" fill="#e7298a" fill-opacity="0.62"/><path d="M408.14,198.74L409.84,200.44L408.14,202.14L406.44,200.44ZM397.15,204.80L398.85,206.50L397.15,208.20L395.45,206.50ZM399.60,220.77L401.30,222.47L399.60,224.17L397.90,222.47ZM405.33,193.96L407.03,195.66L405.33,197.36L403.63,195.66ZM402.21,196.87L403.91,198.57L402.21,200.27L400.51,198.57ZM398.62,193.59L400.32,195.29L398.62,196.99L396.92,195.29ZM400.36,224.17L402.06,225.87L400.36,227.57L398.66,225.87ZM396.00,196.99L397.70,198.69L396.00,200.39L394.30,198.69ZM406.29,197.15L407.99,198.85L406.29,200.55L404.59,198.85ZM407.60,198.99L409.30,200.69L407.60,202.39L405.90,200.69ZM408.02,206.18L409.72,207.88L408.02,209.58L406.32,207.88ZM397.44,202.64L399.14,204.34L397.44,206.04L395.74,204.34ZM409.32,194.24L411.02,195.94L409.32,197.64L407.62,195.94ZM403.75,191.13L405.45,192.83L403.75,194.53L402.05,192.83ZM397.35,215.63L399.05,217.33L397.35,219.03L395.65,217.33ZM406.04,193.40L407.74,195.10L406.04,196.80L404.34,195.10ZM404.36,204.98L406.06,206.68L404.36,208.38L402.66,206.68ZM398.88,193.76L400.58,195.46L398.88,197.16L397.18,195.46ZM404.42,213.20L406.12,214.90L404.42,216.60L402.72,214.90ZM407.68,208.36L409.38,210.06L407.68,211.76L405.98,210.06ZM406.39,201.59L408.09,203.29L406.39,204.99L404.69,203.29ZM406.21,187.93L407.91,189.63L406.21,191.33L404.51,189.63ZM407.66,198.77L409.36,200.47L407.66,202.17L405.96,200.47ZM408.17,219.27L409.87,220.97L408.17,222.67L406.47,220.97ZM402.47,186.38L404.17,188.08L402.47,189.78L400.77,188.08ZM409.29,204.25L410.99,205.95L409.29,207.65L407.59,205.95ZM408.67,196.10L410.37,197.80L408.67,199.50L406.97,197.80ZM397.45,218.00L399.15,219.70L397.45,221.40L395.75,219.70ZM400.41,192.11L402.11,193.81L400.41,195.51L398.71,193.81ZM400.47,208.83L402.17,210.53L400.47,212.23L398.77,210.53ZM394.48,205.92L396.18,207.62L394.48,209.32L392.78,207.62ZM401.69,205.76L403.39,207.46L401.69,209.16L399.99,207.46ZM396.38,213.47L398.08,215.17L396.38,216.87L394.68,215.17ZM407.76,219.31L409.46,221.01L407.76,222.71L406.06,221.01ZM399.65,213.33L401.35,215.03L399.65,216.73L397.95,215.03ZM400.64,214.89L402.34,216.59L400.64,218.29L398.94,216.59ZM410.01,204.95L411.71,206.65L410.01,208.35L408.31,206.65ZM402.80,206.33L404.50,208.03L402.80,209.73L401.10,208.03ZM403.19,186.58L404.89,188.28L403.19,189.98L401.49,188.28ZM398.50,217.44L400.20,219.14L398.50,220.84L396.80,219.14ZM405.84,193.34L407.54,195.04L405.84,196.74L404.14,195.04ZM394.69,209.00L396.39,210.70L394.69,212.40L392.99,210.70ZM403.83,206.04L405.53,207.74L403.83,209.44L402.13,207.74ZM405.90,189.77L407.60,191.47L405.90,193.17L404.20,191.47ZM408.63,213.56L410.33,215.26L408.63,216.96L406.93,215.26ZM402.48,205.18L404.18,206.88L402.48,208.58L400.78,206.88ZM398.98,190.51L400.68,192.21L398.98,193.91L397.28,192.21ZM401.04,191.09L402.74,192.79L401.04,194.49L399.34,192.79ZM404.08,219.14L405.78,220.84L404.08,222.54L402.38,220.84ZM396.81,207.97L398.51,209.67L396.81,211.37L395.11,209.67ZM406.61,192.15L408.31,193.85L406.61,195.55L404.91,193.85ZM400.76,202.07L402.46,203.77L400.76,205.47L399.06,203.77ZM408.14,206.14L409.84,207.84L408.14,209.54L406.44,207.84ZM400.87,222.25L402.57,223.95L400.87,225.65L399.17,223.95ZM407.11,198.90L408.81,200.60L407.11,202.30L405.41,200.60ZM398.33,198.76L400.03,200.46L398.33,202.16L396.63,200.46ZM401.53,223.79L403.23,225.49L401.53,227.19L399.83,225.49ZM407.56,221.14L409.26,222.84L407.56,224.54L405.86,222.84ZM407.73,218.62L409.43,220.32L407.73,222.02L406.03,220.32ZM395.28,205.82L396.98,207.52L395.28,209.22L393.58,207.52ZM398.48,202.14L400.18,203.84L398.48,205.54L396.78,203.84ZM404.75,199.90L406.45,201.60L404.75,203.30L403.05,201.60ZM403.08,188.46L404.78,190.16L403.08,191.86L401.38,190.16ZM401.49,205.34L403.19,207.04L401.49,208.74L399.79,207.04ZM409.73,210.31L411.43,212.01L409.73,213.71L408.03,212.01ZM407.64,220.04L409.34,221.74L407.64,223.44L405.94,221.74ZM404.90,196.08L406.60,197.78L404.90,199.48L403.20,197.78ZM405.50,196.37L407.20,198.07L405.50,199.77L403.80,198.07ZM403.27,221.59L404.97,223.29L403.27,224.99L401.57,223.29ZM404.56,195.49L406.26,197.19L404.56,198.89L402.86,197.19ZM402.91,202.58L404.61,204.28L402.91,205.98L401.21,204.28ZM409.96,196.92L411.66,198.62L409.96,200.32L408.26,198.62ZM399.40,210.87L401.10,212.57L399.40,214.27L397.70,212.57ZM396.37,208.80L398.07,210.50L396.37,212.20L394.67,210.50ZM410.04,205.69L411.74,207.39L410.04,209.09L408.34,207.39ZM398.79,203.85L400.49,205.55L398.79,207.25L397.09,205.55ZM403.13,191.53L404.83,193.23L403.13,194.93L401.43,193.23ZM399.20,201.53L400.90,203.23L399.20,204.93L397.50,203.23ZM399.12,195.21L400.82,196.91L399.12,198.61L397.42,196.91ZM395.84,206.95L397.54,208.65L395.84,210.35L394.14,208.65ZM408.14,209.41L409.84,211.11L408.14,212.81L406.44,211.11ZM403.73,210.98L405.43,212.68L403.73,214.38L402.03,212.68ZM397.69,213.30L399.39,215.00L397.69,216.70L395.99,215.00ZM401.94,207.01L403.64,208.71L401.94,210.41L400.24,208.71ZM404.43,203.95L406.13,205.65L404.43,207.35L402.73,205.65ZM399.48,195.17L401.18,196.87L399.48,198.57L397.78,196.87ZM398.03,205.63L399.73,207.33L398.03,209.03L396.33,207.33ZM400.67,208.47L402.37,210.17L400.67,211.87L398.97,210.17ZM408.50,195.02L410.20,196.72L408.50,198.42L406.80,196.72ZM403.51,204.82L405.21,206.52L403.51,208.22L401.81,206.52ZM399.24,215.69L400.94,217.39L399.24,219.09L397.54,217.39ZM408.65,202.83L410.35,204.53L408.65,206.23L406.95,204.53ZM395.42,200.81L397.12,202.51L395.42,204.21L393.72,202.51ZM401.60,214.27L403.30,215.97L401.60,217.67L399.90,215.97ZM396.19,194.50L397.89,196.20L396.19,197.90L394.49,196.20ZM396.93,198.84L398.63,200.54L396.93,202.24L395.23,200.54ZM400.17,211.94L401.87,213.64L400.17,215.34L398.47,213.64ZM404.48,218.71L406.18,220.41L404.48,222.11L402.78,220.41ZM407.83,205.84L409.53,207.54L407.83,209.24L406.13,207.54ZM406.49,214.58L408.19,216.28L406.49,217.98L404.79,216.28ZM406.83,204.19L408.53,205.89L406.83,207.59L405.13,205.89ZM407.24,213.23L408.94,214.93L407.24,216.63L405.54,214.93ZM406.93,208.48L408.63,210.18L406.93,211.88L405.23,210.18ZM402.55,223.08L404.25,224.78L402.55,226.48L400.85,224.78ZM403.76,201.97L405.46,203.67L403.76,205.37L402.06,203.67ZM407.22,219.59L408.92,221.29L407.22,222.99L405.52,221.29ZM404.34,200.49L406.04,202.19L404.34,203.89L402.64,202.19ZM401.80,203.52L403.50,205.22L401.80,206.92L400.10,205.22ZM406.23,197.13L407.93,198.83L406.23,200.53L404.53,198.83ZM400.79,207.30L402.49,209.00L400.79,210.70L399.09,209.00ZM400.69,198.26L402.39,199.96L400.69,201.66L398.99,199.96ZM407.28,218.69L408.98,220.39L407.28,222.09L405.58,220.39ZM402.57,202.98L404.27,204.68L402.57,206.38L400.87,204.68ZM397.42,197.56L399.12,199.26L397.42,200.96L395.72,199.26ZM396.77,208.07L398.47,209.77L396.77,211.47L395.07,209.77ZM403.92,189.19L405.62,190.89L403.92,192.59L402.22,190.89ZM409.45,198.33L411.15,200.03L409.45,201.73L407.75,200.03ZM408.20,218.25L409.90,219.95L408.20,221.65L406.50,219.95ZM401.38,221.06L403.08,222.76L401.38,224.46L399.68,222.76ZM403.64,205.05L405.34,206.75L403.64,208.45L401.94,206.75ZM403.21,224.46L404.91,226.16L403.21,227.86L401.51,226.16ZM402.87,205.82L404.57,207.52L402.87,209.22L401.17,207.52ZM405.61,200.87L407.31,202.57L405.61,204.27L403.91,202.57ZM400.25,208.82L401.95,210.52L400.25,212.22L398.55,210.52ZM400.15,222.50L401.85,224.20L400.15,225.90L398.45,224.20ZM405.47,206.13L407.17,207.83L405.47,209.53L403.77,207.83ZM396.02,200.29L397.72,201.99L396.02,203.69L394.32,201.99ZM400.96,207.53L402.66,209.23L400.96,210.93L399.26,209.23ZM403.79,219.87L405.49,221.57L403.79,223.27L402.09,221.57ZM410.18,204.64L411.88,206.34L410.18,208.04L408.48,206.34ZM401.60,209.98L403.30,211.68L401.60,213.38L399.90,211.68ZM410.70,199.08L412.40,200.78L410.70,202.48L409.00,200.78ZM403.07,217.39L404.77,219.09L403.07,220.79L401.37,219.09ZM397.19,198.10L398.89,199.80L397.19,201.50L395.49,199.80ZM402.79,190.06L404.49,191.76L402.79,193.46L401.09,191.76ZM409.03,212.51L410.73,214.21L409.03,215.91L407.33,214.21ZM408.93,202.09L410.63,203.79L408.93,205.49L407.23,203.79ZM396.96,197.01L398.66,198.71L396.96,200.41L395.26,198.71ZM402.77,205.34L404.47,207.04L402.77,208.74L401.07,207.04ZM397.48,192.85L399.18,194.55L397.48,196.25L395.78,194.55ZM404.71,209.15L406.41,210.85L404.71,212.55L403.01,210.85ZM400.18,224.28L401.88,225.98L400.18,227.68L398.48,225.98ZM404.81,187.42L406.51,189.12L404.81,190.82L403.11,189.12ZM401.13,216.30L402.83,218.00L401.13,219.70L399.43,218.00ZM399.42,212.54L401.12,214.24L399.42,215.94L397.72,214.24ZM408.18,208.49L409.88,210.19L408.18,211.89L406.48,210.19ZM405.33,193.40L407.03,195.10L405.33,196.80L403.63,195.10ZM402.55,207.21L404.25,208.91L402.55,210.61L400.85,208.91ZM398.75,210.84L400.45,212.54L398.75,214.24L397.05,212.54ZM403.10,224.41L404.80,226.11L403.10,227.81L401.40,226.11ZM403.80,201.71L405.50,203.41L403.80,205.11L402.10,203.41ZM406.83,189.91L408.53,191.61L406.83,193.31L405.13,191.61ZM402.95,217.67L404.65,219.37L402.95,221.07L401.25,219.37ZM404.43,217.03L406.13,218.73L404.43,220.43L402.73,218.73ZM407.01,198.29L408.71,199.99L407.01,201.69L405.31,199.99ZM406.11,199.49L407.81,201.19L406.11,202.89L404.41,201.19ZM397.17,196.11L398.87,197.81L397.17,199.51L395.47,197.81ZM403.93,199.30L405.63,201.00L403.93,202.70L402.23,201.00ZM401.76,200.72L403.46,202.42L401.76,204.12L400.06,202.42ZM403.93,222.96L405.63,224.66L403.93,226.36L402.23,224.66ZM401.59,209.81L403.29,211.51L401.59,213.21L399.89,211.51ZM399.55,220.60L401.25,222.30L399.55,224.00L397.85,222.30ZM407.75,197.55L409.45,199.25L407.75,200.95L406.05,199.25ZM404.26,222.97L405.96,224.67L404.26,226.37L402.56,224.67ZM402.51,222.57L404.21,224.27L402.51,225.97L400.81,224.27ZM398.38,200.88L400.08,202.58L398.38,204.28L396.68,202.58ZM406.15,194.36L407.85,196.06L406.15,197.76L404.45,196.06ZM399.46,219.69L401.16,221.39L399.46,223.09L397.76,221.39ZM402.33,216.49L404.03,218.19L402.33,219.89L400.63,218.19ZM398.38,192.50L400.08,194.20L398.38,195.90L396.68,194.20ZM400.26,193.01L401.96,194.71L400.26,196.41L398.56,194.71ZM410.29,197.04L411.99,198.74L410.29,200.44L408.59,198.74ZM403.59,190.23L405.29,191.93L403.59,193.63L401.89,191.93ZM403.13,200.72L404.83,202.42L403.13,204.12L401.43,202.42ZM401.00,188.32L402.70,190.02L401.00,191.72L399.30,190.02ZM396.42,217.77L398.12,219.47L396.42,221.17L394.72,219.47ZM400.15,195.27L401.85,196.97L400.15,198.67L398.45,196.97ZM397.53,196.77L399.23,198.47L397.53,200.17L395.83,198.47ZM405.27,199.01L406.97,200.71L405.27,202.41L403.57,200.71ZM396.95,213.13L398.65,214.83L396.95,216.53L395.25,214.83ZM395.92,196.23L397.62,197.93L395.92,199.63L394.22,197.93ZM408.06,190.73L409.76,192.43L408.06,194.13L406.36,192.43ZM401.65,218.18L403.35,219.88L401.65,221.58L399.95,219.88ZM407.57,191.95L409.27,193.65L407.57,195.35L405.87,193.65ZM400.17,213.77L401.87,215.47L400.17,217.17L398.47,215.47ZM400.57,222.91L402.27,224.61L400.57,226.31L398.87,224.61ZM402.66,194.59L404.36,196.29L402.66,197.99L400.96,196.29ZM401.81,190.85L403.51,192.55L401.81,194.25L400.11,192.55ZM405.96,195.88L407.66,197.58L405.96,199.28L404.26,197.58ZM409.12,208.54L410.82,210.24L409.12,211.94L407.42,210.24ZM400.42,195.32L402.12,197.02L400.42,198.72L398.72,197.02ZM404.35,194.02L406.05,195.72L404.35,197.42L402.65,195.72ZM408.67,190.54L410.37,192.24L408.67,193.94L406.97,192.24ZM402.79,206.80L404.49,208.50L402.79,210.20L401.09,208.50ZM398.83,215.68L400.53,217.38L398.83,219.08L397.13,217.38ZM400.70,211.25L402.40,212.95L400.70,214.65L399.00,212.95ZM403.69,197.82L405.39,199.52L403.69,201.22L401.99,199.52ZM400.78,189.11L402.48,190.81L400.78,192.51L399.08,190.81ZM397.30,218.75L399.00,220.45L397.30,222.15L395.60,220.45ZM399.65,211.46L401.35,213.16L399.65,214.86L397.95,213.16ZM396.18,207.55L397.88,209.25L396.18,210.95L394.48,209.25ZM400.31,205.17L402.01,206.87L400.31,208.57L398.61,206.87ZM399.26,188.33L400.96,190.03L399.26,191.73L397.56,190.03ZM399.49,194.55L401.19,196.25L399.49,197.95L397.79,196.25ZM396.47,213.55L398.17,215.25L396.47,216.95L394.77,215.25ZM399.02,201.41L400.72,203.11L399.02,204.81L397.32,203.11ZM409.27,215.81L410.97,217.51L409.27,219.21L407.57,217.51ZM396.56,196.49L398.26,198.19L396.56,199.89L394.86,198.19ZM405.26,199.40L406.96,201.10L405.26,202.80L403.56,201.10ZM401.15,211.31L402.85,213.01L401.15,214.71L399.45,213.01ZM405.84,195.41L407.54,197.11L405.84,198.81L404.14,197.11ZM408.25,199.42L409.95,201.12L408.25,202.82L406.55,201.12ZM404.69,192.82L406.39,194.52L404.69,196.22L402.99,194.52ZM406.41,213.39L408.11,215.09L406.41,216.79L404.71,215.09ZM397.05,193.46L398.75,195.16L397.05,196.86L395.35,195.16ZM399.36,200.53L401.06,202.23L399.36,203.93L397.66,202.23ZM395.04,197.83L396.74,199.53L395.04,201.23L393.34,199.53ZM404.84,192.74L406.54,194.44L404.84,196.14L403.14,194.44ZM408.13,207.87L409.83,209.57L408.13,211.27L406.43,209.57ZM406.12,195.65L407.82,197.35L406.12,199.05L404.42,197.35ZM401.52,212.29L403.22,213.99L401.52,215.69L399.82,213.99ZM408.05,215.86L409.75,217.56L408.05,219.26L406.35,217.56ZM399.09,187.45L400.79,189.15L399.09,190.85L397.39,189.15ZM408.37,209.31L410.07,211.01L408.37,212.71L406.67,211.01ZM396.22,216.44L397.92,218.14L396.22,219.84L394.52,218.14ZM406.66,189.12L408.36,190.82L406.66,192.52L404.96,190.82ZM405.77,201.03L407.47,202.73L405.77,204.43L404.07,202.73ZM406.63,217.89L408.33,219.59L406.63,221.29L404.93,219.59ZM399.00,189.27L400.70,190.97L399.00,192.67L397.30,190.97ZM409.88,202.21L411.58,203.91L409.88,205.61L408.18,203.91ZM409.62,212.58L411.32,214.28L409.62,215.98L407.92,214.28ZM406.48,217.94L408.18,219.64L406.48,221.34L404.78,219.64ZM404.68,203.32L406.38,205.02L404.68,206.72L402.98,205.02ZM395.29,212.83L396.99,214.53L395.29,216.23L393.59,214.53ZM401.41,205.61L403.11,207.31L401.41,209.01L399.71,207.31ZM406.87,187.47L408.57,189.17L406.87,190.87L405.17,189.17ZM405.90,217.00L407.60,218.70L405.90,220.40L404.20,218.70ZM398.67,206.95L400.37,208.65L398.67,210.35L396.97,208.65ZM403.30,195.45L405.00,197.15L403.30,198.85L401.60,197.15ZM395.37,199.64L397.07,201.34L395.37,203.04L393.67,201.34ZM401.14,193.58L402.84,195.28L401.14,196.98L399.44,195.28ZM399.48,191.07L401.18,192.77L399.48,194.47L397.78,192.77ZM405.97,211.75L407.67,213.45L405.97,215.15L404.27,213.45ZM398.29,195.15L399.99,196.85L398.29,198.55L396.59,196.85ZM402.83,203.02L404.53,204.72L402.83,206.42L401.13,204.72ZM409.71,199.40L411.41,201.10L409.71,202.80L408.01,201.10ZM399.30,220.05L401.00,221.75L399.30,223.45L397.60,221.75ZM396.72,207.60L398.42,209.30L396.72,211.00L395.02,209.30ZM399.86,217.37L401.56,219.07L399.86,220.77L398.16,219.07ZM403.37,215.24L405.07,216.94L403.37,218.64L401.67,216.94ZM397.17,211.60L398.87,213.30L397.17,215.00L395.47,213.30ZM404.19,203.65L405.89,205.35L404.19,207.05L402.49,205.35ZM406.93,217.98L408.63,219.68L406.93,221.38L405.23,219.68ZM396.27,196.99L397.97,198.69L396.27,200.39L394.57,198.69ZM400.30,193.78L402.00,195.48L400.30,197.18L398.60,195.48ZM395.39,196.66L397.09,198.36L395.39,200.06L393.69,198.36ZM397.63,212.96L399.33,214.66L397.63,216.36L395.93,214.66ZM401.73,190.16L403.43,191.86L401.73,193.56L400.03,191.86ZM399.71,203.94L401.41,205.64L399.71,207.34L398.01,205.64ZM400.34,192.29L402.04,193.99L400.34,195.69L398.64,193.99ZM395.78,213.56L397.48,215.26L395.78,216.96L394.08,215.26ZM396.18,204.72L397.88,206.42L396.18,208.12L394.48,206.42ZM401.50,193.13L403.20,194.83L401.50,196.53L399.80,194.83ZM409.44,210.75L411.14,212.45L409.44,214.15L407.74,212.45ZM404.67,222.01L406.37,223.71L404.67,225.41L402.97,223.71ZM405.08,195.52L406.78,197.22L405.08,198.92L403.38,197.22ZM398.43,191.15L400.13,192.85L398.43,194.55L396.73,192.85ZM408.14,197.26L409.84,198.96L408.14,200.66L406.44,198.96ZM397.44,210.50L399.14,212.20L397.44,213.90L395.74,212.20ZM397.16,216.18L398.86,217.88L397.16,219.58L395.46,217.88ZM407.99,214.54L409.69,216.24L407.99,217.94L406.29,216.24ZM399.75,192.93L401.45,194.63L399.75,196.33L398.05,194.63ZM407.90,198.18L409.60,199.88L407.90,201.58L406.20,199.88ZM400.43,207.13L402.13,208.83L400.43,210.53L398.73,208.83ZM400.44,217.99L402.14,219.69L400.44,221.39L398.74,219.69ZM403.67,210.12L405.37,211.82L403.67,213.52L401.97,211.82ZM407.81,213.12L409.51,214.82L407.81,216.52L406.11,214.82ZM402.49,205.13L404.19,206.83L402.49,208.53L400.79,206.83ZM396.98,197.39L398.68,199.09L396.98,200.79L395.28,199.09ZM403.91,188.89L405.61,190.59L403.91,192.29L402.21,190.59ZM405.66,192.12L407.36,193.82L405.66,195.52L403.96,193.82ZM401.65,223.35L403.35,225.05L401.65,226.75L399.95,225.05ZM401.59,193.17L403.29,194.87L401.59,196.57L399.89,194.87ZM408.16,218.92L409.86,220.62L408.16,222.32L406.46,220.62ZM407.27,202.26L408.97,203.96L407.27,205.66L405.57,203.96ZM399.04,211.41L400.74,213.11L399.04,214.81L397.34,213.11ZM402.82,202.10L404.52,203.80L402.82,205.50L401.12,203.80ZM399.94,202.78L401.64,204.48L399.94,206.18L398.24,204.48ZM405.30,217.78L407.00,219.48L405.30,221.18L403.60,219.48ZM409.19,192.15L410.89,193.85L409.19,195.55L407.49,193.85ZM399.24,202.95L400.94,204.65L399.24,206.35L397.54,204.65ZM403.62,199.27L405.32,200.97L403.62,202.67L401.92,200.97ZM399.70,203.62L401.40,205.32L399.70,207.02L398.00,205.32ZM407.67,188.11L409.37,189.81L407.67,191.51L405.97,189.81ZM405.47,209.38L407.17,211.08L405.47,212.78L403.77,211.08ZM399.26,207.91L400.96,209.61L399.26,211.31L397.56,209.61ZM409.99,204.41L411.69,206.11L409.99,207.81L408.29,206.11ZM404.99,197.38L406.69,199.08L404.99,200.78L403.29,199.08ZM400.02,220.07L401.72,221.77L400.02,223.47L398.32,221.77ZM405.50,203.11L407.20,204.81L405.50,206.51L403.80,204.81ZM395.80,211.37L397.50,213.07L395.80,214.77L394.10,213.07ZM400.49,208.28L402.19,209.98L400.49,211.68L398.79,209.98ZM401.21,206.31L402.91,208.01L401.21,209.71L399.51,208.01ZM403.64,201.14L405.34,202.84L403.64,204.54L401.94,202.84ZM396.27,192.77L397.97,194.47L396.27,196.17L394.57,194.47ZM408.96,207.02L410.66,208.72L408.96,210.42L407.26,208.72ZM398.55,189.46L400.25,191.16L398.55,192.86L396.85,191.16ZM403.08,195.53L404.78,197.23L403.08,198.93L401.38,197.23ZM402.41,207.24L404.11,208.94L402.41,210.64L400.71,208.94ZM398.11,207.97L399.81,209.67L398.11,211.37L396.41,209.67ZM396.25,205.66L397.95,207.36L396.25,209.06L394.55,207.36ZM404.03,188.89L405.73,190.59L404.03,192.29L402.33,190.59ZM401.08,188.63L402.78,190.33L401.08,192.03L399.38,190.33ZM401.59,219.23L403.29,220.93L401.59,222.63L399.89,220.93ZM403.41,213.47L405.11,215.17L403.41,216.87L401.71,215.17ZM406.78,190.22L408.48,191.92L406.78,193.62L405.08,191.92ZM400.81,192.42L402.51,194.12L400.81,195.82L399.11,194.12ZM410.11,207.59L411.81,209.29L410.11,210.99L408.41,209.29ZM407.08,191.08L408.78,192.78L407.08,194.48L405.38,192.78ZM407.10,188.01L408.80,189.71L407.10,191.41L405.40,189.71ZM398.28,200.21L399.98,201.91L398.28,203.61L396.58,201.91ZM394.65,208.81L396.35,210.51L394.65,212.21L392.95,210.51ZM397.89,197.40L399.59,199.10L397.89,200.80L396.19,199.10ZM405.97,202.28L407.67,203.98L405.97,205.68L404.27,203.98ZM408.94,209.85L410.64,211.55L408.94,213.25L407.24,211.55ZM408.67,207.59L410.37,209.29L408.67,210.99L406.97,209.29ZM397.15,214.66L398.85,216.36L397.15,218.06L395.45,216.36ZM399.99,215.36L401.69,217.06L399.99,218.76L398.29,217.06ZM405.53,217.77L407.23,219.47L405.53,221.17L403.83,219.47ZM396.41,200.23L398.11,201.93L396.41,203.63L394.71,201.93ZM406.46,222.51L408.16,224.21L406.46,225.91L404.76,224.21ZM406.21,187.47L407.91,189.17L406.21,190.87L404.51,189.17ZM404.28,189.64L405.98,191.34L404.28,193.04L402.58,191.34ZM403.38,216.89L405.08,218.59L403.38,220.29L401.68,218.59ZM405.45,195.64L407.15,197.34L405.45,199.04L403.75,197.34ZM397.56,203.09L399.26,204.79L397.56,206.49L395.86,204.79ZM408.11,208.30L409.81,210.00L408.11,211.70L406.41,210.00ZM396.21,216.80L397.91,218.50L396.21,220.20L394.51,218.50ZM397.43,207.25L399.13,208.95L397.43,210.65L395.73,208.95ZM399.15,212.40L400.85,214.10L399.15,215.80L397.45,214.10ZM400.63,191.37L402.33,193.07L400.63,194.77L398.93,193.07ZM408.72,206.64L410.42,208.34L408.72,210.04L407.02,208.34ZM405.68,217.09L407.38,218.79L405.68,220.49L403.98,218.79ZM400.00,191.63L401.70,193.33L400.00,195.03L398.30,193.33ZM402.61,219.60L404.31,221.30L402.61,223.00L400.91,221.30ZM397.38,217.48L399.08,219.18L397.38,220.88L395.68,219.18ZM405.52,200.99L407.22,202.69L405.52,204.39L403.82,202.69ZM402.18,191.91L403.88,193.61L402.18,195.31L400.48,193.61ZM408.23,201.02L409.93,202.72L408.23,204.42L406.53,202.72ZM408.68,209.45L410.38,211.15L408.68,212.85L406.98,211.15ZM395.64,198.54L397.34,200.24L395.64,201.94L393.94,200.24ZM397.94,220.42L399.64,222.12L397.94,223.82L396.24,222.12ZM404.04,187.47L405.74,189.17L404.04,190.87L402.34,189.17ZM397.18,199.77L398.88,201.47L397.18,203.17L395.48,201.47ZM402.05,208.14L403.75,209.84L402.05,211.54L400.35,209.84ZM400.75,199.48L402.45,201.18L400.75,202.88L399.05,201.18ZM394.50,208.22L396.20,209.92L394.50,211.62L392.80,209.92ZM399.86,186.58L401.56,188.28L399.86,189.98L398.16,188.28ZM401.92,224.00L403.62,225.70L401.92,227.40L400.22,225.70ZM405.38,196.34L407.08,198.04L405.38,199.74L403.68,198.04ZM398.87,205.15L400.57,206.85L398.87,208.55L397.17,206.85ZM398.69,207.82L400.39,209.52L398.69,211.22L396.99,209.52ZM403.04,222.85L404.74,224.55L403.04,226.25L401.34,224.55ZM403.57,215.65L405.27,217.35L403.57,219.05L401.87,217.35ZM408.67,215.78L410.37,217.48L408.67,219.18L406.97,217.48ZM404.76,210.37L406.46,212.07L404.76,213.77L403.06,212.07ZM400.34,196.69L402.04,198.39L400.34,200.09L398.64,198.39ZM407.41,219.60L409.11,221.30L407.41,223.00L405.71,221.30ZM409.76,212.18L411.46,213.88L409.76,215.58L408.06,213.88ZM399.37,215.35L401.07,217.05L399.37,218.75L397.67,217.05ZM406.50,205.50L408.20,207.20L406.50,208.90L404.80,207.20ZM404.79,199.36L406.49,201.06L404.79,202.76L403.09,201.06ZM403.41,201.51L405.11,203.21L403.41,204.91L401.71,203.21ZM395.39,198.85L397.09,200.55L395.39,202.25L393.69,200.55ZM399.69,224.07L401.39,225.77L399.69,227.47L397.99,225.77ZM402.28,200.01L403.98,201.71L402.28,203.41L400.58,201.71ZM398.38,194.88L400.08,196.58L398.38,198.28L396.68,196.58ZM400.11,191.04L401.81,192.74L400.11,194.44L398.41,192.74ZM401.81,203.04L403.51,204.74L401.81,206.44L400.11,204.74ZM403.70,197.50L405.40,199.20L403.70,200.90L402.00,199.20ZM399.33,197.73L401.03,199.43L399.33,201.13L397.63,199.43ZM406.29,207.14L407.99,208.84L406.29,210.54L404.59,208.84ZM409.74,198.97L411.44,200.67L409.74,202.37L408.04,200.67ZM409.47,208.38L411.17,210.08L409.47,211.78L407.77,210.08ZM403.90,224.04L405.60,225.74L403.90,227.44L402.20,225.74ZM400.24,215.78L401.94,217.48L400.24,219.18L398.54,217.48ZM401.41,219.42L403.11,221.12L401.41,222.82L399.71,221.12ZM395.51,204.55L397.21,206.25L395.51,207.95L393.81,206.25ZM409.11,196.47L410.81,198.17L409.11,199.87L407.41,198.17ZM397.09,196.17L398.79,197.87L397.09,199.57L395.39,197.87ZM405.92,194.24L407.62,195.94L405.92,197.64L404.22,195.94ZM400.94,193.54L402.64,195.24L400.94,196.94L399.24,195.24ZM404.26,219.26L405.96,220.96L404.26,222.66L402.56,220.96ZM405.00,193.40L406.70,195.10L405.00,196.80L403.30,195.10ZM406.41,223.09L408.11,224.79L406.41,226.49L404.71,224.79ZM404.23,188.85L405.93,190.55L404.23,192.25L402.53,190.55ZM407.64,219.70L409.34,221.40L407.64,223.10L405.94,221.40ZM399.98,191.08L401.68,192.78L399.98,194.48L398.28,192.78ZM397.48,206.58L399.18,208.28L397.48,209.98L395.78,208.28ZM408.72,210.57L410.42,212.27L408.72,213.97L407.02,212.27ZM409.50,194.00L411.20,195.70L409.50,197.40L407.80,195.70ZM399.75,214.81L401.45,216.51L399.75,218.21L398.05,216.51ZM405.02,201.48L406.72,203.18L405.02,204.88L403.32,203.18ZM405.51,198.87L407.21,200.57L405.51,202.27L403.81,200.57ZM395.34,201.83L397.04,203.53L395.34,205.23L393.64,203.53ZM395.15,210.05L396.85,211.75L395.15,213.45L393.45,211.75ZM399.87,204.93L401.57,206.63L399.87,208.33L398.17,206.63ZM404.18,195.74L405.88,197.44L404.18,199.14L402.48,197.44ZM401.98,186.31L403.68,188.01L401.98,189.71L400.28,188.01ZM409.54,207.64L411.24,209.34L409.54,211.04L407.84,209.34ZM404.44,213.83L406.14,215.53L404.44,217.23L402.74,215.53ZM399.79,189.40L401.49,191.10L399.79,192.80L398.09,191.10ZM406.95,189.26L408.65,190.96L406.95,192.66L405.25,190.96ZM407.72,202.18L409.42,203.88L407.72,205.58L406.02,203.88ZM403.21,208.58L404.91,210.28L403.21,211.98L401.51,210.28ZM403.48,211.25L405.18,212.95L403.48,214.65L401.78,212.95ZM404.24,198.60L405.94,200.30L404.24,202.00L402.54,200.30ZM406.52,195.77L408.22,197.47L406.52,199.17L404.82,197.47ZM406.04,215.35L407.74,217.05L406.04,218.75L404.34,217.05ZM407.10,197.76L408.80,199.46L407.10,201.16L405.40,199.46ZM401.81,196.56L403.51,198.26L401.81,199.96L400.11,198.26ZM402.96,222.23L404.66,223.93L402.96,225.63L401.26,223.93ZM402.18,211.17L403.88,212.87L402.18,214.57L400.48,212.87ZM407.07,199.82L408.77,201.52L407.07,203.22L405.37,201.52ZM406.78,189.26L408.48,190.96L406.78,192.66L405.08,190.96ZM395.39,205.22L397.09,206.92L395.39,208.62L393.69,206.92ZM403.48,192.82L405.18,194.52L403.48,196.22L401.78,194.52ZM409.77,199.95L411.47,201.65L409.77,203.35L408.07,201.65ZM396.84,192.65L398.54,194.35L396.84,196.05L395.14,194.35ZM406.47,221.48L408.17,223.18L406.47,224.88L404.77,223.18ZM407.13,195.18L408.83,196.88L407.13,198.58L405.43,196.88ZM404.81,199.12L406.51,200.82L404.81,202.52L403.11,200.82ZM407.50,203.61L409.20,205.31L407.50,207.01L405.80,205.31ZM399.70,220.78L401.40,222.48L399.70,224.18L398.00,222.48ZM396.17,214.19L397.87,215.89L396.17,217.59L394.47,215.89ZM395.47,210.79L397.17,212.49L395.47,214.19L393.77,212.49ZM400.98,219.26L402.68,220.96L400.98,222.66L399.28,220.96ZM395.38,207.64L397.08,209.34L395.38,211.04L393.68,209.34ZM401.11,221.39L402.81,223.09L401.11,224.79L399.41,223.09ZM409.86,210.08L411.56,211.78L409.86,213.48L408.16,211.78ZM398.07,195.54L399.77,197.24L398.07,198.94L396.37,197.24ZM398.69,202.59L400.39,204.29L398.69,205.99L396.99,204.29ZM398.19,193.65L399.89,195.35L398.19,197.05L396.49,195.35ZM406.82,210.68L408.52,212.38L406.82,214.08L405.12,212.38ZM397.95,207.85L399.65,209.55L397.95,211.25L396.25,209.55ZM396.97,219.22L398.67,220.92L396.97,222.62L395.27,220.92ZM408.62,196.14L410.32,197.84L408.62,199.54L406.92,197.84ZM406.70,217.66L408.40,219.36L406.70,221.06L405.00,219.36ZM399.02,198.62L400.72,200.32L399.02,202.02L397.32,200.32ZM402.34,220.30L404.04,222.00L402.34,223.70L400.64,222.00ZM399.82,212.24L401.52,213.94L399.82,215.64L398.12,213.94ZM404.93,206.03L406.63,207.73L404.93,209.43L403.23,207.73ZM404.71,217.64L406.41,219.34L404.71,221.04L403.01,219.34ZM402.15,214.86L403.85,216.56L402.15,218.26L400.45,216.56ZM408.04,198.72L409.74,200.42L408.04,202.12L406.34,200.42ZM401.41,194.45L403.11,196.15L401.41,197.85L399.71,196.15ZM399.69,213.68L401.39,215.38L399.69,217.08L397.99,215.38ZM405.93,196.23L407.63,197.93L405.93,199.63L404.23,197.93ZM401.90,218.61L403.60,220.31L401.90,222.01L400.20,220.31ZM406.32,217.62L408.02,219.32L406.32,221.02L404.62,219.32ZM400.67,215.19L402.37,216.89L400.67,218.59L398.97,216.89ZM406.01,194.82L407.71,196.52L406.01,198.22L404.31,196.52ZM403.84,200.05L405.54,201.75L403.84,203.45L402.14,201.75ZM402.97,196.62L404.67,198.32L402.97,200.02L401.27,198.32ZM401.63,217.53L403.33,219.23L401.63,220.93L399.93,219.23ZM399.34,206.96L401.04,208.66L399.34,210.36L397.64,208.66ZM399.52,205.37L401.22,207.07L399.52,208.77L397.82,207.07ZM400.02,212.31L401.72,214.01L400.02,215.71L398.32,214.01ZM399.66,213.74L401.36,215.44L399.66,217.14L397.96,215.44ZM403.79,196.83L405.49,198.53L403.79,200.23L402.09,198.53ZM402.07,207.20L403.77,208.90L402.07,210.60L400.37,208.90ZM408.69,203.23L410.39,204.93L408.69,206.63L406.99,204.93ZM408.28,213.55L409.98,215.25L408.28,216.95L406.58,215.25ZM401.12,198.58L402.82,200.28L401.12,201.98L399.42,200.28ZM401.03,195.65L402.73,197.35L401.03,199.05L399.33,197.35ZM398.43,207.54L400.13,209.24L398.43,210.94L396.73,209.24ZM402.71,208.83L404.41,210.53L402.71,212.23L401.01,210.53ZM402.17,194.08L403.87,195.78L402.17,197.48L400.47,195.78ZM405.99,211.44L407.69,213.14L405.99,214.84L404.29,213.14ZM404.30,208.62L406.00,210.32L404.30,212.02L402.60,210.32ZM406.01,220.33L407.71,222.03L406.01,223.73L404.31,222.03ZM408.17,213.18L409.87,214.88L408.17,216.58L406.47,214.88ZM402.60,202.39L404.30,204.09L402.60,205.79L400.90,204.09ZM402.84,220.08L404.54,221.78L402.84,223.48L401.14,221.78ZM402.46,204.20L404.16,205.90L402.46,207.60L400.76,205.90ZM402.73,197.66L404.43,199.36L402.73,201.06L401.03,199.36ZM405.05,218.82L406.75,220.52L405.05,222.22L403.35,220.52ZM400.91,210.30L402.61,212.00L400.91,213.70L399.21,212.00ZM402.34,200.30L404.04,202.00L402.34,203.70L400.64,202.00ZM407.81,214.97L409.51,216.67L407.81,218.37L406.11,216.67ZM406.06,202.56L407.76,204.26L406.06,205.96L404.36,204.26ZM405.50,208.62L407.20,210.32L405.50,212.02L403.80,210.32ZM401.62,220.04L403.32,221.74L401.62,223.44L399.92,221.74ZM407.93,207.57L409.63,209.27L407.93,210.97L406.23,209.27ZM404.87,220.67L406.57,222.37L404.87,224.07L403.17,222.37ZM400.67,210.80L402.37,212.50L400.67,214.20L398.97,212.50ZM406.64,204.03L408.34,205.73L406.64,207.43L404.94,205.73ZM406.27,204.42L407.97,206.12L406.27,207.82L404.57,206.12ZM404.09,210.35L405.79,212.05L404.09,213.75L402.39,212.05ZM405.86,202.49L407.56,204.19L405.86,205.89L404.16,204.19ZM405.30,208.46L407.00,210.16L405.30,211.86L403.60,210.16ZM400.54,210.34L402.24,212.04L400.54,213.74L398.84,212.04ZM401.03,218.34L402.73,220.04L401.03,221.74L399.33,220.04ZM403.47,213.29L405.17,214.99L403.47,216.69L401.77,214.99ZM404.04,206.67L405.74,208.37L404.04,210.07L402.34,208.37ZM400.52,197.63L402.22,199.33L400.52,201.03L398.82,199.33ZM408.79,208.08L410.49,209.78L408.79,211.48L407.09,209.78ZM404.07,208.04L405.77,209.74L404.07,211.44L402.37,209.74ZM407.46,200.24L409.16,201.94L407.46,203.64L405.76,201.94ZM399.94,216.00L401.64,217.70L399.94,219.40L398.24,217.70ZM403.32,211.10L405.02,212.80L403.32,214.50L401.62,212.80ZM402.39,216.27L404.09,217.97L402.39,219.67L400.69,217.97ZM407.51,197.12L409.21,198.82L407.51,200.52L405.81,198.82ZM399.73,200.59L401.43,202.29L399.73,203.99L398.03,202.29ZM399.13,203.43L400.83,205.13L399.13,206.83L397.43,205.13ZM407.34,207.88L409.04,209.58L407.34,211.28L405.64,209.58ZM403.23,196.17L404.93,197.87L403.23,199.57L401.53,197.87ZM402.56,220.73L404.26,222.43L402.56,224.13L400.86,222.43ZM406.07,205.93L407.77,207.63L406.07,209.33L404.37,207.63ZM403.53,215.36L405.23,217.06L403.53,218.76L401.83,217.06ZM406.82,197.84L408.52,199.54L406.82,201.24L405.12,199.54ZM405.90,203.70L407.60,205.40L405.90,207.10L404.20,205.40ZM404.03,200.21L405.73,201.91L404.03,203.61L402.33,201.91ZM402.27,202.98L403.97,204.68L402.27,206.38L400.57,204.68ZM402.39,194.27L404.09,195.97L402.39,197.67L400.69,195.97ZM400.28,209.21L401.98,210.91L400.28,212.61L398.58,210.91ZM406.34,201.21L408.04,202.91L406.34,204.61L404.64,202.91ZM401.72,200.33L403.42,202.03L401.72,203.73L400.02,202.03ZM405.38,217.00L407.08,218.70L405.38,220.40L403.68,218.70ZM400.29,205.22L401.99,206.92L400.29,208.62L398.59,206.92ZM407.21,210.48L408.91,212.18L407.21,213.88L405.51,212.18ZM402.28,194.98L403.98,196.68L402.28,198.38L400.58,196.68ZM403.11,203.71L404.81,205.41L403.11,207.11L401.41,205.41ZM406.28,201.77L407.98,203.47L406.28,205.17L404.58,203.47ZM402.71,211.30L404.41,213.00L402.71,214.70L401.01,213.00ZM407.43,203.31L409.13,205.01L407.43,206.71L405.73,205.01ZM402.44,209.43L404.14,211.13L402.44,212.83L400.74,211.13ZM402.29,211.77L403.99,213.47L402.29,215.17L400.59,213.47ZM401.79,195.70L403.49,197.40L401.79,199.10L400.09,197.40ZM406.79,204.04L408.49,205.74L406.79,207.44L405.09,205.74ZM404.09,207.21L405.79,208.91L404.09,210.61L402.39,208.91ZM403.35,206.28L405.05,207.98L403.35,209.68L401.65,207.98ZM407.76,205.00L409.46,206.70L407.76,208.40L406.06,206.70ZM403.48,217.85L405.18,219.55L403.48,221.25L401.78,219.55ZM403.08,207.06L404.78,208.76L403.08,210.46L401.38,208.76ZM403.92,216.07L405.62,217.77L403.92,219.47L402.22,217.77ZM405.78,213.80L407.48,215.50L405.78,217.20L404.08,215.50ZM402.63,194.89L404.33,196.59L402.63,198.29L400.93,196.59ZM405.89,208.75L407.59,210.45L405.89,212.15L404.19,210.45ZM406.94,214.59L408.64,216.29L406.94,217.99L405.24,216.29ZM406.75,209.04L408.45,210.74L406.75,212.44L405.05,210.74ZM406.26,206.84L407.96,208.54L406.26,210.24L404.56,208.54ZM402.82,209.57L404.52,211.27L402.82,212.97L401.12,211.27ZM401.84,207.79L403.54,209.49L401.84,211.19L400.14,209.49ZM401.14,200.88L402.84,202.58L401.14,204.28L399.44,202.58ZM401.59,200.68L403.29,202.38L401.59,204.08L399.89,202.38ZM407.99,208.80L409.69,210.50L407.99,212.20L406.29,210.50ZM403.91,205.14L405.61,206.84L403.91,208.54L402.21,206.84ZM398.52,202.02L400.22,203.72L398.52,205.42L396.82,203.72ZM407.96,200.74L409.66,202.44L407.96,204.14L406.26,202.44ZM404.22,203.89L405.92,205.59L404.22,207.29L402.52,205.59ZM403.37,207.00L405.07,208.70L403.37,210.40L401.67,208.70ZM404.77,203.67L406.47,205.37L404.77,207.07L403.07,205.37ZM407.32,199.20L409.02,200.90L407.32,202.60L405.62,200.90ZM408.70,208.82L410.40,210.52L408.70,212.22L407.00,210.52ZM398.52,202.28L400.22,203.98L398.52,205.68L396.82,203.98ZM404.17,204.84L405.87,206.54L404.17,208.24L402.47,206.54ZM404.55,202.53L406.25,204.23L404.55,205.93L402.85,204.23ZM401.13,215.30L402.83,217.00L401.13,218.70L399.43,217.00ZM401.34,212.99L403.04,214.69L401.34,216.39L399.64,214.69ZM407.33,209.79L409.03,211.49L407.33,213.19L405.63,211.49ZM403.25,219.05L404.95,220.75L403.25,222.45L401.55,220.75ZM403.14,217.51L404.84,219.21L403.14,220.91L401.44,219.21ZM398.60,205.51L400.30,207.21L398.60,208.91L396.90,207.21ZM405.42,195.11L407.12,196.81L405.42,198.51L403.72,196.81ZM404.91,198.66L406.61,200.36L404.91,202.06L403.21,200.36ZM408.74,208.95L410.44,210.65L408.74,212.35L407.04,210.65ZM407.31,207.25L409.01,208.95L407.31,210.65L405.61,208.95ZM405.82,212.03L407.52,213.73L405.82,215.43L404.12,213.73ZM401.38,199.49L403.08,201.19L401.38,202.89L399.68,201.19ZM407.75,197.73L409.45,199.43L407.75,201.13L406.05,199.43ZM408.68,199.38L410.38,201.08L408.68,202.78L406.98,201.08ZM402.78,211.59L404.48,213.29L402.78,214.99L401.08,213.29ZM400.94,218.27L402.64,219.97L400.94,221.67L399.24,219.97ZM405.96,197.97L407.66,199.67L405.96,201.37L404.26,199.67ZM401.37,200.08L403.07,201.78L401.37,203.48L399.67,201.78ZM404.75,202.40L406.45,204.10L404.75,205.80L403.05,204.10ZM404.49,197.95L406.19,199.65L404.49,201.35L402.79,199.65ZM408.61,202.56L410.31,204.26L408.61,205.96L406.91,204.26ZM407.78,197.90L409.48,199.60L407.78,201.30L406.08,199.60ZM402.51,194.68L404.21,196.38L402.51,198.08L400.81,196.38ZM402.38,211.10L404.08,212.80L402.38,214.50L400.68,212.80ZM400.54,208.54L402.24,210.24L400.54,211.94L398.84,210.24ZM399.02,206.34L400.72,208.04L399.02,209.74L397.32,208.04ZM406.46,205.41L408.16,207.11L406.46,208.81L404.76,207.11ZM405.88,196.88L407.58,198.58L405.88,200.28L404.18,198.58ZM407.63,197.09L409.33,198.79L407.63,200.49L405.93,198.79ZM408.93,208.01L410.63,209.71L408.93,211.41L407.23,209.71ZM401.33,203.19L403.03,204.89L401.33,206.59L399.63,204.89ZM406.72,207.21L408.42,208.91L406.72,210.61L405.02,208.91ZM403.61,217.13L405.31,218.83L403.61,220.53L401.91,218.83ZM404.93,208.40L406.63,210.10L404.93,211.80L403.23,210.10ZM401.10,217.92L402.80,219.62L401.10,221.32L399.40,219.62ZM407.83,199.93L409.53,201.63L407.83,203.33L406.13,201.63ZM404.94,219.93L406.64,221.63L404.94,223.33L403.24,221.63ZM401.96,219.31L403.66,221.01L401.96,222.71L400.26,221.01ZM405.62,195.14L407.32,196.84L405.62,198.54L403.92,196.84ZM401.83,205.94L403.53,207.64L401.83,209.34L400.13,207.64ZM400.82,213.85L402.52,215.55L400.82,217.25L399.12,215.55ZM400.02,215.07L401.72,216.77L400.02,218.47L398.32,216.77ZM401.42,195.67L403.12,197.37L401.42,199.07L399.72,197.37ZM404.48,196.38L406.18,198.08L404.48,199.78L402.78,198.08ZM404.39,215.08L406.09,216.78L404.39,218.48L402.69,216.78ZM404.91,206.26L406.61,207.96L404.91,209.66L403.21,207.96ZM399.06,211.27L400.76,212.97L399.06,214.67L397.36,212.97ZM399.47,209.41L401.17,211.11L399.47,212.81L397.77,211.11ZM402.06,203.92L403.76,205.62L402.06,207.32L400.36,205.62ZM405.70,198.22L407.40,199.92L405.70,201.62L404.00,199.92ZM401.81,216.55L403.51,218.25L401.81,219.95L400.11,218.25ZM408.16,206.77L409.86,208.47L408.16,210.17L406.46,208.47ZM403.74,208.27L405.44,209.97L403.74,211.67L402.04,209.97ZM399.30,206.43L401.00,208.13L399.30,209.83L397.60,208.13ZM399.85,208.26L401.55,209.96L399.85,211.66L398.15,209.96ZM403.86,203.70L405.56,205.40L403.86,207.10L402.16,205.40ZM400.24,204.70L401.94,206.40L400.24,208.10L398.54,206.40ZM400.31,197.23L402.01,198.93L400.31,200.63L398.61,198.93ZM400.74,217.34L402.44,219.04L400.74,220.74L399.04,219.04ZM403.81,217.85L405.51,219.55L403.81,221.25L402.11,219.55ZM403.65,215.16L405.35,216.86L403.65,218.56L401.95,216.86ZM404.61,212.40L406.31,214.10L404.61,215.80L402.91,214.10ZM400.61,214.06L402.31,215.76L400.61,217.46L398.91,215.76ZM399.73,200.93L401.43,202.63L399.73,204.33L398.03,202.63ZM398.29,204.42L399.99,206.12L398.29,207.82L396.59,206.12ZM404.00,201.68L405.70,203.38L404.00,205.08L402.30,203.38ZM404.70,200.11L406.40,201.81L404.70,203.51L403.00,201.81ZM404.90,214.97L406.60,216.67L404.90,218.37L403.20,216.67ZM406.26,195.47L407.96,197.17L406.26,198.87L404.56,197.17ZM400.80,209.98L402.50,211.68L400.80,213.38L399.10,211.68ZM405.17,212.48L406.87,214.18L405.17,215.88L403.47,214.18ZM407.47,203.03L409.17,204.73L407.47,206.43L405.77,204.73ZM407.42,206.27L409.12,207.97L407.42,209.67L405.72,207.97ZM408.95,204.92L410.65,206.62L408.95,208.32L407.25,206.62ZM402.70,196.17L404.40,197.87L402.70,199.57L401.00,197.87ZM400.79,213.62L402.49,215.32L400.79,217.02L399.09,215.32ZM405.88,197.88L407.58,199.58L405.88,201.28L404.18,199.58ZM401.96,197.58L403.66,199.28L401.96,200.98L400.26,199.28ZM400.25,199.73L401.95,201.43L400.25,203.13L398.55,201.43ZM401.80,220.16L403.50,221.86L401.80,223.56L400.10,221.86ZM403.55,207.23L405.25,208.93L403.55,210.63L401.85,208.93ZM407.06,218.33L408.76,220.03L407.06,221.73L405.36,220.03ZM406.73,210.98L408.43,212.68L406.73,214.38L405.03,212.68ZM400.26,210.68L401.96,212.38L400.26,214.08L398.56,212.38ZM407.84,215.04L409.54,216.74L407.84,218.44L406.14,216.74ZM399.01,213.17L400.71,214.87L399.01,216.57L397.31,214.87ZM402.02,198.17L403.72,199.87L402.02,201.57L400.32,199.87ZM406.66,197.44L408.36,199.14L406.66,200.84L404.96,199.14ZM407.68,215.46L409.38,217.16L407.68,218.86L405.98,217.16ZM404.84,205.55L406.54,207.25L404.84,208.95L403.14,207.25ZM407.60,214.98L409.30,216.68L407.60,218.38L405.90,216.68ZM408.13,201.87L409.83,203.57L408.13,205.27L406.43,203.57ZM409.19,208.16L410.89,209.86L409.19,211.56L407.49,209.86ZM400.88,216.44L402.58,218.14L400.88,219.84L399.18,218.14ZM400.64,199.14L402.34,200.84L400.64,202.54L398.94,200.84ZM403.29,200.19L404.99,201.89L403.29,203.59L401.59,201.89ZM403.70,218.33L405.40,220.03L403.70,221.73L402.00,220.03ZM405.96,212.98L407.66,214.68L405.96,216.38L404.26,214.68ZM402.52,214.97L404.22,216.67L402.52,218.37L400.82,216.67ZM407.23,212.24L408.93,213.94L407.23,215.64L405.53,213.94ZM402.69,196.14L404.39,197.84L402.69,199.54L400.99,197.84ZM405.57,216.38L407.27,218.08L405.57,219.78L403.87,218.08ZM401.90,209.86L403.60,211.56L401.90,213.26L400.20,211.56ZM407.73,215.21L409.43,216.91L407.73,218.61L406.03,216.91ZM407.45,205.10L409.15,206.80L407.45,208.50L405.75,206.80ZM405.01,206.15L406.71,207.85L405.01,209.55L403.31,207.85ZM401.86,199.56L403.56,201.26L401.86,202.96L400.16,201.26ZM402.07,216.61L403.77,218.31L402.07,220.01L400.37,218.31ZM405.18,201.68L406.88,203.38L405.18,205.08L403.48,203.38ZM398.96,201.11L400.66,202.81L398.96,204.51L397.26,202.81ZM406.14,205.73L407.84,207.43L406.14,209.13L404.44,207.43ZM405.67,215.60L407.37,217.30L405.67,219.00L403.97,217.30ZM399.34,212.24L401.04,213.94L399.34,215.64L397.64,213.94ZM400.08,201.13L401.78,202.83L400.08,204.53L398.38,202.83ZM409.15,203.58L410.85,205.28L409.15,206.98L407.45,205.28ZM400.55,217.83L402.25,219.53L400.55,221.23L398.85,219.53ZM405.08,217.94L406.78,219.64L405.08,221.34L403.38,219.64ZM402.55,207.29L404.25,208.99L402.55,210.69L400.85,208.99ZM409.13,207.48L410.83,209.18L409.13,210.88L407.43,209.18ZM407.66,198.17L409.36,199.87L407.66,201.57L405.96,199.87ZM404.10,193.80L405.80,195.50L404.10,197.20L402.40,195.50ZM403.25,215.66L404.95,217.36L403.25,219.06L401.55,217.36ZM400.86,203.31L402.56,205.01L400.86,206.71L399.16,205.01ZM399.11,208.72L400.81,210.42L399.11,212.12L397.41,210.42ZM408.03,207.67L409.73,209.37L408.03,211.07L406.33,209.37ZM402.34,218.88L404.04,220.58L402.34,222.28L400.64,220.58ZM408.40,211.79L410.10,213.49L408.40,215.19L406.70,213.49ZM398.81,210.65L400.51,212.35L398.81,214.05L397.11,212.35ZM403.13,219.67L404.83,221.37L403.13,223.07L401.43,221.37ZM402.17,211.65L403.87,213.35L402.17,215.05L400.47,213.35ZM405.33,203.95L407.03,205.65L405.33,207.35L403.63,205.65ZM404.04,212.07L405.74,213.77L404.04,215.47L402.34,213.77ZM408.56,207.25L410.26,208.95L408.56,210.65L406.86,208.95ZM402.19,220.17L403.89,221.87L402.19,223.57L400.49,221.87ZM405.94,208.85L407.64,210.55L405.94,212.25L404.24,210.55ZM403.17,214.08L404.87,215.78L403.17,217.48L401.47,215.78ZM408.37,213.48L410.07,215.18L408.37,216.88L406.67,215.18ZM406.71,194.74L408.41,196.44L406.71,198.14L405.01,196.44ZM401.74,197.49L403.44,199.19L401.74,200.89L400.04,199.19ZM399.62,209.67L401.32,211.37L399.62,213.07L397.92,211.37ZM404.68,195.05L406.38,196.75L404.68,198.45L402.98,196.75ZM402.52,213.98L404.22,215.68L402.52,217.38L400.82,215.68ZM405.44,201.38L407.14,203.08L405.44,204.78L403.74,203.08ZM406.86,201.66L408.56,203.36L406.86,205.06L405.16,203.36ZM404.30,205.16L406.00,206.86L404.30,208.56L402.60,206.86ZM407.36,212.07L409.06,213.77L407.36,215.47L405.66,213.77ZM402.38,219.81L404.08,221.51L402.38,223.21L400.68,221.51ZM406.24,212.46L407.94,214.16L406.24,215.86L404.54,214.16ZM401.18,198.17L402.88,199.87L401.18,201.57L399.48,199.87ZM404.67,216.10L406.37,217.80L404.67,219.50L402.97,217.80ZM407.23,203.17L408.93,204.87L407.23,206.57L405.53,204.87ZM399.56,207.73L401.26,209.43L399.56,211.13L397.86,209.43ZM408.21,198.17L409.91,199.87L408.21,201.57L406.51,199.87ZM406.58,198.40L408.28,200.10L406.58,201.80L404.88,200.10ZM401.58,195.24L403.28,196.94L401.58,198.64L399.88,196.94ZM401.41,204.14L403.11,205.84L401.41,207.54L399.71,205.84ZM400.12,202.15L401.82,203.85L400.12,205.55L398.42,203.85ZM401.69,205.63L403.39,207.33L401.69,209.03L399.99,207.33ZM399.20,200.82L400.90,202.52L399.20,204.22L397.50,202.52ZM402.54,204.21L404.24,205.91L402.54,207.61L400.84,205.91ZM409.22,201.00L410.92,202.70L409.22,204.40L407.52,202.70ZM403.20,216.41L404.90,218.11L403.20,219.81L401.50,218.11ZM405.39,214.83L407.09,216.53L405.39,218.23L403.69,216.53ZM401.61,197.90L403.31,199.60L401.61,201.30L399.91,199.60ZM406.80,206.50L408.50,208.20L406.80,209.90L405.10,208.20ZM404.47,211.91L406.17,213.61L404.47,215.31L402.77,213.61ZM406.75,201.23L408.45,202.93L406.75,204.63L405.05,202.93ZM402.18,218.58L403.88,220.28L402.18,221.98L400.48,220.28ZM404.13,201.58L405.83,203.28L404.13,204.98L402.43,203.28ZM405.31,200.81L407.01,202.51L405.31,204.21L403.61,202.51ZM407.61,209.10L409.31,210.80L407.61,212.50L405.91,210.80ZM402.07,219.19L403.77,220.89L402.07,222.59L400.37,220.89ZM401.04,200.37L402.74,202.07L401.04,203.77L399.34,202.07ZM398.74,208.61L400.44,210.31L398.74,212.01L397.04,210.31ZM406.76,212.11L408.46,213.81L406.76,215.51L405.06,213.81ZM402.76,215.61L404.46,217.31L402.76,219.01L401.06,217.31ZM399.23,202.08L400.93,203.78L399.23,205.48L397.53,203.78ZM405.48,219.92L407.18,221.62L405.48,223.32L403.78,221.62ZM405.35,212.49L407.05,214.19L405.35,215.89L403.65,214.19ZM407.00,204.45L408.70,206.15L407.00,207.85L405.30,206.15ZM401.93,204.40L403.63,206.10L401.93,207.80L400.23,206.10ZM407.37,203.24L409.07,204.94L407.37,206.64L405.67,204.94ZM404.16,207.87L405.86,209.57L404.16,211.27L402.46,209.57ZM405.77,218.15L407.47,219.85L405.77,221.55L404.07,219.85ZM399.49,202.94L401.19,204.64L399.49,206.34L397.79,204.64ZM398.70,204.96L400.40,206.66L398.70,208.36L397.00,206.66ZM403.81,216.81L405.51,218.51L403.81,220.21L402.11,218.51ZM405.75,209.40L407.45,211.10L405.75,212.80L404.05,211.10ZM402.66,209.29L404.36,210.99L402.66,212.69L400.96,210.99ZM401.13,216.62L402.83,218.32L401.13,220.02L399.43,218.32ZM407.17,216.44L408.87,218.14L407.17,219.84L405.47,218.14ZM399.70,211.93L401.40,213.63L399.70,215.33L398.00,213.63ZM406.76,207.32L408.46,209.02L406.76,210.72L405.06,209.02ZM406.63,215.97L408.33,217.67L406.63,219.37L404.93,217.67ZM405.53,217.53L407.23,219.23L405.53,220.93L403.83,219.23ZM399.46,212.81L401.16,214.51L399.46,216.21L397.76,214.51ZM406.17,210.34L407.87,212.04L406.17,213.74L404.47,212.04ZM401.15,195.61L402.85,197.31L401.15,199.01L399.45,197.31ZM405.00,216.06L406.70,217.76L405.00,219.46L403.30,217.76ZM401.12,199.55L402.82,201.25L401.12,202.95L399.42,201.25ZM405.85,220.13L407.55,221.83L405.85,223.53L404.15,221.83ZM407.33,203.51L409.03,205.21L407.33,206.91L405.63,205.21ZM406.12,195.74L407.82,197.44L406.12,199.14L404.42,197.44ZM407.75,202.58L409.45,204.28L407.75,205.98L406.05,204.28ZM399.55,201.22L401.25,202.92L399.55,204.62L397.85,202.92ZM398.62,205.83L400.32,207.53L398.62,209.23L396.92,207.53ZM404.43,215.60L406.13,217.30L404.43,219.00L402.73,217.30ZM405.30,202.98L407.00,204.68L405.30,206.38L403.60,204.68ZM401.80,209.15L403.50,210.85L401.80,212.55L400.10,210.85ZM400.48,215.23L402.18,216.93L400.48,218.63L398.78,216.93ZM400.37,216.47L402.07,218.17L400.37,219.87L398.67,218.17ZM407.40,208.30L409.10,210.00L407.40,211.70L405.70,210.00ZM402.89,195.50L404.59,197.20L402.89,198.90L401.19,197.20ZM405.31,213.37L407.01,215.07L405.31,216.77L403.61,215.07ZM404.78,204.60L406.48,206.30L404.78,208.00L403.08,206.30ZM403.93,209.70L405.63,211.40L403.93,213.10L402.23,211.40ZM400.58,217.23L402.28,218.93L400.58,220.63L398.88,218.93ZM409.19,202.69L410.89,204.39L409.19,206.09L407.49,204.39ZM403.53,197.41L405.23,199.11L403.53,200.81L401.83,199.11ZM403.25,212.24L404.95,213.94L403.25,215.64L401.55,213.94ZM406.23,206.07L407.93,207.77L406.23,209.47L404.53,207.77ZM401.93,198.92L403.63,200.62L401.93,202.32L400.23,200.62ZM402.65,201.43L404.35,203.13L402.65,204.83L400.95,203.13ZM400.20,213.68L401.90,215.38L400.20,217.08L398.50,215.38ZM403.97,205.64L405.67,207.34L403.97,209.04L402.27,207.34ZM400.24,212.80L401.94,214.50L400.24,216.20L398.54,214.50ZM400.23,200.97L401.93,202.67L400.23,204.37L398.53,202.67ZM404.49,212.74L406.19,214.44L404.49,216.14L402.79,214.44ZM406.39,213.23L408.09,214.93L406.39,216.63L404.69,214.93ZM406.39,210.82L408.09,212.52L406.39,214.22L404.69,212.52ZM401.02,203.39L402.72,205.09L401.02,206.79L399.32,205.09ZM399.84,210.87L401.54,212.57L399.84,214.27L398.14,212.57Z" fill="#e7298a" fill-opacity="0.97"/><path d="M400.91,191.27h3.00v3.00h-3.00ZM408.40,159.04h3.00v3.00h-3.00ZM397.56,182.45h3.00v3.00h-3.00ZM402.84,197.92h3.00v3.00h-3.00ZM402.93,185.67h3.00v3.00h-3.00ZM404.38,162.88h3.00v3.00h-3.00ZM398.48,144.29h3.00v3.00h-3.00ZM407.20,153.89h3.00v3.00h-3.00ZM398.56,168.50h3.00v3.00h-3.00ZM402.72,129.14h3.00v3.00h-3.00ZM396.18,149.48h3.00v3.00h-3.00ZM405.40,190.28h3.00v3.00h-3.00ZM403.07,172.43h3.00v3.00h-3.00ZM398.42,143.67h3.00v3.00h-3.00ZM410.08,153.78h3.00v3.00h-3.00ZM396.73,168.92h3.00v3.00h-3.00ZM397.10,140.51h3.00v3.00h-3.00ZM402.60,168.51h3.00v3.00h-3.00ZM405.60,177.33h3.00v3.00h-3.00ZM402.32,130.90h3.00v3.00h-3.00ZM402.83,155.05h3.00v3.00h-3.00ZM406.20,177.82h3.00v3.00h-3.00ZM398.99,173.16h3.00v3.00h-3.00ZM406.52,160.25h3.00v3.00h-3.00ZM404.97,130.55h3.00v3.00h-3.00ZM398.80,154.48h3.00v3.00h-3.00ZM405.55,179.84h3.00v3.00h-3.00ZM399.00,193.57h3.00v3.00h-3.00ZM398.65,174.78h3.00v3.00h-3.00ZM410.31,145.09h3.00v3.00h-3.00ZM407.61,133.53h3.00v3.00h-3.00ZM398.11,184.59h3.00v3.00h-3.00ZM397.71,163.18h3.00v3.00h-3.00ZM404.25,185.63h3.00v3.00h-3.00ZM403.36,171.00h3.00v3.00h-3.00ZM404.90,184.05h3.00v3.00h-3.00ZM404.08,147.12h3.00v3.00h-3.00ZM401.61,126.55h3.00v3.00h-3.00ZM402.62,134.87h3.00v3.00h-3.00ZM405.82,141.04h3.00v3.00h-3.00ZM402.14,134.01h3.00v3.00h-3.00ZM400.87,132.82h3.00v3.00h-3.00ZM401.12,147.98h3.00v3.00h-3.00ZM407.70,136.73h3.00v3.00h-3.00ZM406.53,169.47h3.00v3.00h-3.00ZM403.66,159.08h3.00v3.00h-3.00ZM401.78,170.36h3.00v3.00h-3.00ZM405.80,192.53h3.00v3.00h-3.00ZM407.20,183.83h3.00v3.00h-3.00ZM406.34,187.71h3.00v3.00h-3.00ZM402.17,189.75h3.00v3.00h-3.00ZM402.35,177.29h3.00v3.00h-3.00ZM399.20,147.82h3.00v3.00h-3.00ZM400.80,149.55h3.00v3.00h-3.00ZM396.57,158.15h3.00v3.00h-3.00ZM407.53,145.91h3.00v3.00h-3.00ZM399.15,155.94h3.00v3.00h-3.00ZM395.34,142.75h3.00v3.00h-3.00ZM400.47,181.93h3.00v3.00h-3.00ZM408.23,164.62h3.00v3.00h-3.00ZM400.22,171.52h3.00v3.00h-3.00ZM401.11,165.01h3.00v3.00h-3.00ZM403.84,173.19h3.00v3.00h-3.00ZM403.96,194.10h3.00v3.00h-3.00ZM401.78,192.34h3.00v3.00h-3.00ZM396.49,141.42h3.00v3.00h-3.00ZM399.78,191.82h3.00v3.00h-3.00ZM395.22,144.89h3.00v3.00h-3.00ZM397.93,157.80h3.00v3.00h-3.00ZM406.44,176.14h3.00v3.00h-3.00ZM407.42,180.68h3.00v3.00h-3.00ZM399.13,144.67h3.00v3.00h-3.00ZM398.48,144.84h3.00v3.00h-3.00ZM404.84,173.63h3.00v3.00h-3.00ZM404.95,176.45h3.00v3.00h-3.00ZM401.02,136.32h3.00v3.00h-3.00ZM396.87,161.84h3.00v3.00h-3.00ZM399.55,181.86h3.00v3.00h-3.00ZM400.04,155.69h3.00v3.00h-3.00ZM406.48,158.30h3.00v3.00h-3.00ZM407.13,132.88h3.00v3.00h-3.00ZM410.53,150.85h3.00v3.00h-3.00ZM408.80,142.42h3.00v3.00h-3.00ZM406.17,146.16h3.00v3.00h-3.00ZM405.98,168.62h3.00v3.00h-3.00ZM406.01,139.11h3.00v3.00h-3.00ZM405.86,167.35h3.00v3.00h-3.00ZM401.05,178.46h3.00v3.00h-3.00ZM397.30,183.21h3.00v3.00h-3.00ZM399.19,152.59h3.00v3.00h-3.00ZM403.71,134.09h3.00v3.00h-3.00ZM399.13,183.79h3.00v3.00h-3.00ZM399.75,153.64h3.00v3.00h-3.00ZM407.73,142.26h3.00v3.00h-3.00ZM398.22,141.90h3.00v3.00h-3.00ZM401.39,152.52h3.00v3.00h-3.00ZM405.68,160.25h3.00v3.00h-3.00ZM406.05,186.73h3.00v3.00h-3.00ZM402.30,134.41h3.00v3.00h-3.00ZM402.66,177.66h3.00v3.00h-3.00ZM402.98,138.62h3.00v3.00h-3.00ZM398.84,157.96h3.00v3.00h-3.00ZM401.01,160.06h3.00v3.00h-3.00ZM396.19,142.14h3.00v3.00h-3.00ZM407.39,166.86h3.00v3.00h-3.00ZM398.99,138.39h3.00v3.00h-3.00ZM409.40,141.42h3.00v3.00h-3.00ZM396.38,145.26h3.00v3.00h-3.00ZM410.39,159.46h3.00v3.00h-3.00ZM407.18,131.40h3.00v3.00h-3.00ZM402.54,149.07h3.00v3.00h-3.00ZM398.41,174.13h3.00v3.00h-3.00ZM401.01,134.69h3.00v3.00h-3.00ZM405.87,163.36h3.00v3.00h-3.00ZM395.40,160.14h3.00v3.00h-3.00ZM407.33,165.00h3.00v3.00h-3.00ZM398.89,162.23h3.00v3.00h-3.00ZM405.07,173.27h3.00v3.00h-3.00ZM397.41,184.35h3.00v3.00h-3.00ZM409.28,152.70h3.00v3.00h-3.00ZM398.77,169.41h3.00v3.00h-3.00ZM402.31,136.20h3.00v3.00h-3.00ZM398.18,180.37h3.00v3.00h-3.00ZM404.71,194.21h3.00v3.00h-3.00ZM401.69,175.31h3.00v3.00h-3.00ZM398.88,160.63h3.00v3.00h-3.00ZM403.52,194.85h3.00v3.00h-3.00ZM403.19,198.01h3.00v3.00h-3.00ZM405.34,141.71h3.00v3.00h-3.00ZM408.89,140.66h3.00v3.00h-3.00ZM400.35,155.55h3.00v3.00h-3.00ZM400.71,174.55h3.00v3.00h-3.00ZM395.38,153.15h3.00v3.00h-3.00ZM397.69,186.12h3.00v3.00h-3.00ZM399.29,158.97h3.00v3.00h-3.00ZM404.35,177.67h3.00v3.00h-3.00ZM397.29,143.45h3.00v3.00h-3.00ZM403.69,168.21h3.00v3.00h-3.00ZM398.90,138.16h3.00v3.00h-3.00ZM404.75,158.85h3.00v3.00h-3.00ZM401.81,190.50h3.00v3.00h-3.00ZM406.02,188.45h3.00v3.00h-3.00ZM410.94,145.52h3.00v3.00h-3.00ZM410.69,155.60h3.00v3.00h-3.00ZM399.82,146.98h3.00v3.00h-3.00ZM401.99,164.43h3.00v3.00h-3.00ZM405.88,163.23h3.00v3.00h-3.00ZM396.94,143.69h3.00v3.00h-3.00ZM405.96,168.57h3.00v3.00h-3.00ZM404.49,139.18h3.00v3.00h-3.00ZM406.52,144.56h3.00v3.00h-3.00ZM398.93,152.59h3.00v3.00h-3.00ZM403.72,175.18h3.00v3.00h-3.00ZM405.39,160.24h3.00v3.00h-3.00ZM406.19,184.05h3.00v3.00h-3.00ZM406.29,177.48h3.00v3.00h-3.00ZM405.78,139.08h3.00v3.00h-3.00ZM398.87,157.26h3.00v3.00h-3.00ZM401.81,195.81h3.00v3.00h-3.00ZM409.99,142.88h3.00v3.00h-3.00ZM407.24,152.11h3.00v3.00h-3.00ZM406.04,181.68h3.00v3.00h-3.00ZM397.12,142.16h3.00v3.00h-3.00ZM398.57,145.31h3.00v3.00h-3.00ZM401.76,156.55h3.00v3.00h-3.00ZM396.29,168.28h3.00v3.00h-3.00ZM400.92,177.14h3.00v3.00h-3.00ZM402.28,138.73h3.00v3.00h-3.00ZM403.02,127.28h3.00v3.00h-3.00ZM406.25,137.68h3.00v3.00h-3.00ZM401.15,195.88h3.00v3.00h-3.00ZM405.69,172.07h3.00v3.00h-3.00ZM398.26,181.63h3.00v3.00h-3.00ZM400.01,144.57h3.00v3.00h-3.00ZM408.68,169.64h3.00v3.00h-3.00ZM404.80,140.40h3.00v3.00h-3.00ZM395.24,164.83h3.00v3.00h-3.00ZM407.08,145.78h3.00v3.00h-3.00ZM397.88,176.52h3.00v3.00h-3.00ZM395.06,142.69h3.00v3.00h-3.00ZM399.41,177.63h3.00v3.00h-3.00ZM400.58,163.92h3.00v3.00h-3.00ZM400.33,156.30h3.00v3.00h-3.00ZM402.97,144.77h3.00v3.00h-3.00ZM405.39,176.58h3.00v3.00h-3.00ZM399.37,183.48h3.00v3.00h-3.00ZM407.13,150.81h3.00v3.00h-3.00ZM403.19,139.68h3.00v3.00h-3.00ZM406.53,153.97h3.00v3.00h-3.00ZM406.94,142.65h3.00v3.00h-3.00ZM396.56,168.56h3.00v3.00h-3.00ZM398.18,177.38h3.00v3.00h-3.00ZM406.05,167.02h3.00v3.00h-3.00ZM397.30,139.99h3.00v3.00h-3.00ZM404.70,133.83h3.00v3.00h-3.00ZM405.56,143.49h3.00v3.00h-3.00ZM399.30,156.74h3.00v3.00h-3.00ZM403.88,178.59h3.00v3.00h-3.00ZM398.68,147.11h3.00v3.00h-3.00ZM405.65,176.18h3.00v3.00h-3.00ZM405.23,191.47h3.00v3.00h-3.00ZM398.40,148.59h3.00v3.00h-3.00ZM406.03,144.93h3.00v3.00h-3.00ZM397.62,142.43h3.00v3.00h-3.00ZM408.23,148.48h3.00v3.00h-3.00ZM400.25,178.36h3.00v3.00h-3.00ZM395.92,170.23h3.00v3.00h-3.00ZM403.55,136.98h3.00v3.00h-3.00ZM402.69,140.35h3.00v3.00h-3.00ZM396.99,162.79h3.00v3.00h-3.00ZM403.68,152.34h3.00v3.00h-3.00ZM406.93,164.42h3.00v3.00h-3.00ZM407.91,133.71h3.00v3.00h-3.00ZM396.16,154.10h3.00v3.00h-3.00ZM403.05,144.34h3.00v3.00h-3.00ZM406.13,142.11h3.00v3.00h-3.00ZM400.30,160.62h3.00v3.00h-3.00ZM406.86,181.93h3.00v3.00h-3.00ZM401.19,158.44h3.00v3.00h-3.00ZM405.30,133.62h3.00v3.00h-3.00ZM402.59,172.23h3.00v3.00h-3.00ZM397.14,159.82h3.00v3.00h-3.00ZM405.31,147.78h3.00v3.00h-3.00ZM407.83,157.75h3.00v3.00h-3.00ZM396.42,154.59h3.00v3.00h-3.00ZM395.85,146.91h3.00v3.00h-3.00ZM407.79,135.80h3.00v3.00h-3.00ZM397.73,164.61h3.00v3.00h-3.00ZM408.87,138.28h3.00v3.00h-3.00ZM397.89,181.54h3.00v3.00h-3.00ZM402.09,150.54h3.00v3.00h-3.00ZM397.05,143.63h3.00v3.00h-3.00ZM399.32,179.77h3.00v3.00h-3.00ZM402.87,195.44h3.00v3.00h-3.00ZM405.06,146.96h3.00v3.00h-3.00ZM402.74,177.99h3.00v3.00h-3.00ZM407.22,135.41h3.00v3.00h-3.00ZM400.64,144.00h3.00v3.00h-3.00ZM399.24,160.06h3.00v3.00h-3.00ZM409.23,149.32h3.00v3.00h-3.00ZM397.87,180.07h3.00v3.00h-3.00ZM400.68,139.61h3.00v3.00h-3.00ZM401.96,185.66h3.00v3.00h-3.00ZM405.10,191.30h3.00v3.00h-3.00ZM410.85,149.74h3.00v3.00h-3.00ZM399.42,152.56h3.00v3.00h-3.00ZM401.24,151.62h3.00v3.00h-3.00ZM401.30,134.00h3.00v3.00h-3.00ZM398.78,192.03h3.00v3.00h-3.00ZM401.83,172.16h3.00v3.00h-3.00ZM399.06,192.76h3.00v3.00h-3.00ZM407.12,180.80h3.00v3.00h-3.00ZM408.54,144.38h3.00v3.00h-3.00ZM405.92,153.64h3.00v3.00h-3.00ZM403.98,150.42h3.00v3.00h-3.00ZM408.66,151.07h3.00v3.00h-3.00ZM406.27,173.37h3.00v3.00h-3.00ZM404.12,159.08h3.00v3.00h-3.00ZM400.65,182.84h3.00v3.00h-3.00ZM398.56,150.71h3.00v3.00h-3.00ZM408.26,142.49h3.00v3.00h-3.00ZM407.34,140.40h3.00v3.00h-3.00ZM402.69,155.17h3.00v3.00h-3.00ZM400.16,171.91h3.00v3.00h-3.00ZM409.90,160.16h3.00v3.00h-3.00ZM400.18,189.45h3.00v3.00h-3.00ZM404.54,133.68h3.00v3.00h-3.00ZM404.78,186.20h3.00v3.00h-3.00ZM403.63,161.14h3.00v3.00h-3.00ZM401.93,189.92h3.00v3.00h-3.00ZM406.08,141.09h3.00v3.00h-3.00ZM401.03,152.37h3.00v3.00h-3.00ZM395.58,168.90h3.00v3.00h-3.00ZM402.20,178.09h3.00v3.00h-3.00ZM402.15,132.70h3.00v3.00h-3.00ZM403.72,185.56h3.00v3.00h-3.00ZM408.14,151.89h3.00v3.00h-3.00ZM398.70,180.07h3.00v3.00h-3.00ZM408.35,141.90h3.00v3.00h-3.00ZM402.22,153.63h3.00v3.00h-3.00ZM398.35,147.91h3.00v3.00h-3.00ZM400.48,179.16h3.00v3.00h-3.00ZM398.11,165.70h3.00v3.00h-3.00ZM403.33,174.53h3.00v3.00h-3.00ZM408.24,139.31h3.00v3.00h-3.00ZM401.02,193.08h3.00v3.00h-3.00ZM403.36,191.25h3.00v3.00h-3.00ZM403.50,193.71h3.00v3.00h-3.00ZM404.32,136.43h3.00v3.00h-3.00ZM405.51,184.33h3.00v3.00h-3.00ZM402.05,169.71h3.00v3.00h-3.00ZM399.31,146.04h3.00v3.00h-3.00ZM402.00,163.26h3.00v3.00h-3.00ZM402.80,132.70h3.00v3.00h-3.00ZM395.09,150.70h3.00v3.00h-3.00ZM406.94,180.33h3.00v3.00h-3.00ZM398.94,144.56h3.00v3.00h-3.00ZM403.60,138.74h3.00v3.00h-3.00ZM405.04,191.64h3.00v3.00h-3.00ZM398.36,168.51h3.00v3.00h-3.00ZM407.00,180.39h3.00v3.00h-3.00ZM406.86,177.59h3.00v3.00h-3.00ZM399.53,186.87h3.00v3.00h-3.00ZM408.27,175.20h3.00v3.00h-3.00ZM397.36,159.39h3.00v3.00h-3.00ZM400.59,181.66h3.00v3.00h-3.00ZM399.08,140.44h3.00v3.00h-3.00ZM397.68,155.77h3.00v3.00h-3.00ZM405.29,148.01h3.00v3.00h-3.00ZM397.69,141.86h3.00v3.00h-3.00ZM400.25,162.63h3.00v3.00h-3.00ZM398.05,160.83h3.00v3.00h-3.00ZM402.32,196.64h3.00v3.00h-3.00ZM403.09,194.60h3.00v3.00h-3.00ZM402.85,140.37h3.00v3.00h-3.00ZM404.86,136.50h3.00v3.00h-3.00ZM401.71,151.71h3.00v3.00h-3.00ZM402.08,151.55h3.00v3.00h-3.00ZM406.50,154.45h3.00v3.00h-3.00ZM404.53,126.46h3.00v3.00h-3.00ZM400.90,171.74h3.00v3.00h-3.00ZM410.32,155.16h3.00v3.00h-3.00ZM402.20,147.65h3.00v3.00h-3.00ZM404.23,174.12h3.00v3.00h-3.00ZM397.41,152.56h3.00v3.00h-3.00ZM404.82,175.17h3.00v3.00h-3.00ZM400.66,194.60h3.00v3.00h-3.00ZM404.15,155.22h3.00v3.00h-3.00ZM395.44,149.46h3.00v3.00h-3.00ZM402.98,161.99h3.00v3.00h-3.00ZM401.05,190.99h3.00v3.00h-3.00ZM400.82,164.62h3.00v3.00h-3.00ZM402.94,150.15h3.00v3.00h-3.00ZM401.44,170.22h3.00v3.00h-3.00ZM408.09,144.92h3.00v3.00h-3.00ZM401.17,154.15h3.00v3.00h-3.00ZM401.04,192.28h3.00v3.00h-3.00ZM403.97,146.02h3.00v3.00h-3.00ZM400.53,185.64h3.00v3.00h-3.00ZM397.66,176.09h3.00v3.00h-3.00ZM397.44,142.55h3.00v3.00h-3.00ZM395.95,145.15h3.00v3.00h-3.00ZM407.21,178.28h3.00v3.00h-3.00ZM404.17,192.94h3.00v3.00h-3.00ZM402.22,140.01h3.00v3.00h-3.00ZM401.42,132.76h3.00v3.00h-3.00ZM406.79,171.75h3.00v3.00h-3.00ZM398.01,170.23h3.00v3.00h-3.00ZM401.00,197.08h3.00v3.00h-3.00ZM402.23,154.38h3.00v3.00h-3.00ZM399.21,142.89h3.00v3.00h-3.00ZM406.75,138.71h3.00v3.00h-3.00ZM400.84,179.52h3.00v3.00h-3.00ZM395.98,164.49h3.00v3.00h-3.00ZM402.32,183.42h3.00v3.00h-3.00ZM404.58,158.78h3.00v3.00h-3.00ZM400.61,154.74h3.00v3.00h-3.00ZM401.38,176.14h3.00v3.00h-3.00ZM408.09,163.38h3.00v3.00h-3.00ZM401.89,174.59h3.00v3.00h-3.00ZM404.49,178.88h3.00v3.00h-3.00ZM401.80,195.69h3.00v3.00h-3.00ZM405.24,148.97h3.00v3.00h-3.00ZM401.27,145.52h3.00v3.00h-3.00ZM400.30,181.00h3.00v3.00h-3.00ZM399.36,170.35h3.00v3.00h-3.00ZM397.63,188.27h3.00v3.00h-3.00ZM403.14,145.97h3.00v3.00h-3.00ZM397.48,181.25h3.00v3.00h-3.00ZM404.55,191.87h3.00v3.00h-3.00ZM404.76,157.02h3.00v3.00h-3.00ZM407.94,133.47h3.00v3.00h-3.00ZM409.51,158.07h3.00v3.00h-3.00ZM407.09,144.63h3.00v3.00h-3.00ZM407.16,173.10h3.00v3.00h-3.00ZM396.62,161.85h3.00v3.00h-3.00ZM407.02,141.57h3.00v3.00h-3.00ZM405.89,146.17h3.00v3.00h-3.00ZM401.17,192.79h3.00v3.00h-3.00ZM402.10,167.51h3.00v3.00h-3.00ZM402.59,188.70h3.00v3.00h-3.00ZM401.68,194.97h3.00v3.00h-3.00ZM402.87,134.61h3.00v3.00h-3.00ZM407.47,136.52h3.00v3.00h-3.00ZM406.31,129.88h3.00v3.00h-3.00ZM407.33,135.52h3.00v3.00h-3.00ZM405.60,153.33h3.00v3.00h-3.00ZM399.14,185.17h3.00v3.00h-3.00ZM395.55,160.70h3.00v3.00h-3.00ZM402.73,160.05h3.00v3.00h-3.00ZM406.97,178.94h3.00v3.00h-3.00ZM400.71,193.72h3.00v3.00h-3.00ZM398.09,162.31h3.00v3.00h-3.00ZM400.60,137.89h3.00v3.00h-3.00ZM408.09,144.16h3.00v3.00h-3.00ZM410.20,142.05h3.00v3.00h-3.00ZM405.50,164.69h3.00v3.00h-3.00ZM409.23,158.20h3.00v3.00h-3.00ZM407.40,142.84h3.00v3.00h-3.00ZM402.71,185.75h3.00v3.00h-3.00ZM397.67,175.65h3.00v3.00h-3.00ZM404.22,155.41h3.00v3.00h-3.00ZM402.83,161.80h3.00v3.00h-3.00ZM399.46,152.69h3.00v3.00h-3.00ZM404.22,181.31h3.00v3.00h-3.00ZM404.81,137.77h3.00v3.00h-3.00ZM409.76,152.69h3.00v3.00h-3.00ZM397.33,168.27h3.00v3.00h-3.00ZM411.10,153.95h3.00v3.00h-3.00ZM404.11,148.78h3.00v3.00h-3.00ZM397.06,146.63h3.00v3.00h-3.00ZM405.48,166.88h3.00v3.00h-3.00ZM401.03,194.93h3.00v3.00h-3.00ZM405.56,165.44h3.00v3.00h-3.00ZM401.00,169.91h3.00v3.00h-3.00ZM400.00,196.37h3.00v3.00h-3.00ZM404.21,140.94h3.00v3.00h-3.00ZM403.45,134.58h3.00v3.00h-3.00ZM395.81,156.97h3.00v3.00h-3.00ZM411.14,148.72h3.00v3.00h-3.00ZM404.46,126.64h3.00v3.00h-3.00ZM401.92,191.53h3.00v3.00h-3.00ZM404.81,185.85h3.00v3.00h-3.00ZM397.98,186.43h3.00v3.00h-3.00ZM399.45,189.93h3.00v3.00h-3.00ZM403.58,149.48h3.00v3.00h-3.00ZM406.61,130.88h3.00v3.00h-3.00ZM396.83,180.18h3.00v3.00h-3.00ZM399.50,136.74h3.00v3.00h-3.00ZM401.06,174.05h3.00v3.00h-3.00ZM405.88,137.70h3.00v3.00h-3.00ZM407.09,166.02h3.00v3.00h-3.00ZM400.97,191.35h3.00v3.00h-3.00ZM404.80,184.14h3.00v3.00h-3.00ZM397.66,162.50h3.00v3.00h-3.00ZM404.56,166.69h3.00v3.00h-3.00ZM401.87,165.46h3.00v3.00h-3.00ZM402.04,143.19h3.00v3.00h-3.00ZM407.60,143.56h3.00v3.00h-3.00ZM408.72,143.53h3.00v3.00h-3.00ZM396.54,160.66h3.00v3.00h-3.00ZM401.45,150.36h3.00v3.00h-3.00ZM407.74,142.14h3.00v3.00h-3.00ZM406.16,186.60h3.00v3.00h-3.00ZM402.53,162.52h3.00v3.00h-3.00ZM396.36,150.08h3.00v3.00h-3.00ZM396.47,173.11h3.00v3.00h-3.00ZM402.05,148.40h3.00v3.00h-3.00ZM403.53,194.00h3.00v3.00h-3.00ZM400.08,149.54h3.00v3.00h-3.00ZM402.14,138.05h3.00v3.00h-3.00ZM397.60,171.39h3.00v3.00h-3.00ZM395.97,162.80h3.00v3.00h-3.00ZM400.58,133.44h3.00v3.00h-3.00ZM407.36,178.04h3.00v3.00h-3.00ZM403.50,138.20h3.00v3.00h-3.00ZM406.15,157.46h3.00v3.00h-3.00ZM406.01,132.64h3.00v3.00h-3.00ZM398.70,154.92h3.00v3.00h-3.00ZM400.57,145.33h3.00v3.00h-3.00ZM406.17,142.16h3.00v3.00h-3.00ZM401.67,175.98h3.00v3.00h-3.00ZM402.17,137.30h3.00v3.00h-3.00ZM396.17,165.42h3.00v3.00h-3.00ZM396.66,162.47h3.00v3.00h-3.00ZM403.13,140.08h3.00v3.00h-3.00ZM406.15,161.98h3.00v3.00h-3.00ZM408.47,147.19h3.00v3.00h-3.00ZM402.88,136.26h3.00v3.00h-3.00ZM403.05,135.22h3.00v3.00h-3.00ZM406.42,176.64h3.00v3.00h-3.00ZM408.34,134.19h3.00v3.00h-3.00ZM404.71,178.49h3.00v3.00h-3.00ZM400.79,176.49h3.00v3.00h-3.00ZM401.10,177.71h3.00v3.00h-3.00ZM402.29,126.26h3.00v3.00h-3.00ZM396.52,178.72h3.00v3.00h-3.00ZM406.94,134.36h3.00v3.00h-3.00ZM401.33,174.75h3.00v3.00h-3.00ZM400.89,189.50h3.00v3.00h-3.00ZM398.27,163.66h3.00v3.00h-3.00ZM403.04,150.49h3.00v3.00h-3.00ZM401.22,163.06h3.00v3.00h-3.00ZM404.79,142.15h3.00v3.00h-3.00ZM399.62,162.51h3.00v3.00h-3.00ZM403.39,156.40h3.00v3.00h-3.00ZM406.06,139.46h3.00v3.00h-3.00ZM403.85,146.02h3.00v3.00h-3.00ZM407.82,177.09h3.00v3.00h-3.00ZM408.01,163.56h3.00v3.00h-3.00ZM399.14,193.20h3.00v3.00h-3.00ZM403.50,153.24h3.00v3.00h-3.00ZM399.83,155.19h3.00v3.00h-3.00ZM406.80,185.43h3.00v3.00h-3.00ZM403.03,179.08h3.00v3.00h-3.00ZM398.54,158.82h3.00v3.00h-3.00ZM400.96,148.24h3.00v3.00h-3.00ZM400.98,180.79h3.00v3.00h-3.00ZM407.21,141.05h3.00v3.00h-3.00ZM398.89,182.95h3.00v3.00h-3.00ZM405.90,175.09h3.00v3.00h-3.00ZM405.58,176.35h3.00v3.00h-3.00ZM408.39,142.65h3.00v3.00h-3.00ZM400.61,133.88h3.00v3.00h-3.00ZM403.12,152.81h3.00v3.00h-3.00ZM399.49,161.37h3.00v3.00h-3.00ZM402.31,156.58h3.00v3.00h-3.00ZM400.23,196.73h3.00v3.00h-3.00ZM399.67,192.94h3.00v3.00h-3.00ZM409.20,150.07h3.00v3.00h-3.00ZM402.11,139.96h3.00v3.00h-3.00ZM407.87,153.20h3.00v3.00h-3.00ZM402.32,154.86h3.00v3.00h-3.00ZM404.91,144.53h3.00v3.00h-3.00ZM395.33,154.32h3.00v3.00h-3.00ZM401.19,181.27h3.00v3.00h-3.00ZM400.54,175.34h3.00v3.00h-3.00ZM405.40,139.68h3.00v3.00h-3.00ZM405.17,147.33h3.00v3.00h-3.00ZM398.33,188.10h3.00v3.00h-3.00ZM410.14,142.94h3.00v3.00h-3.00ZM404.76,167.72h3.00v3.00h-3.00ZM400.41,172.78h3.00v3.00h-3.00ZM405.02,163.03h3.00v3.00h-3.00ZM397.03,141.45h3.00v3.00h-3.00ZM400.18,156.23h3.00v3.00h-3.00ZM401.04,191.51h3.00v3.00h-3.00ZM399.00,188.19h3.00v3.00h-3.00ZM399.05,168.63h3.00v3.00h-3.00ZM401.28,128.75h3.00v3.00h-3.00ZM399.48,182.35h3.00v3.00h-3.00ZM402.98,197.66h3.00v3.00h-3.00ZM395.90,153.61h3.00v3.00h-3.00ZM398.79,171.37h3.00v3.00h-3.00ZM404.13,154.11h3.00v3.00h-3.00ZM399.33,180.65h3.00v3.00h-3.00ZM402.33,198.09h3.00v3.00h-3.00ZM396.51,159.53h3.00v3.00h-3.00ZM401.14,157.41h3.00v3.00h-3.00ZM403.45,147.00h3.00v3.00h-3.00ZM406.69,163.47h3.00v3.00h-3.00ZM403.50,161.84h3.00v3.00h-3.00ZM401.19,188.52h3.00v3.00h-3.00ZM398.48,189.72h3.00v3.00h-3.00ZM400.95,150.35h3.00v3.00h-3.00ZM405.24,166.90h3.00v3.00h-3.00ZM410.91,152.82h3.00v3.00h-3.00ZM396.90,173.66h3.00v3.00h-3.00ZM403.86,149.78h3.00v3.00h-3.00ZM400.47,187.35h3.00v3.00h-3.00ZM400.64,156.30h3.00v3.00h-3.00ZM410.93,152.20h3.00v3.00h-3.00ZM401.69,137.76h3.00v3.00h-3.00ZM406.03,174.26h3.00v3.00h-3.00ZM402.43,155.47h3.00v3.00h-3.00ZM398.87,183.35h3.00v3.00h-3.00ZM402.61,186.40h3.00v3.00h-3.00ZM401.24,179.25h3.00v3.00h-3.00ZM395.47,141.95h3.00v3.00h-3.00ZM406.25,162.08h3.00v3.00h-3.00ZM402.86,140.34h3.00v3.00h-3.00ZM397.88,172.85h3.00v3.00h-3.00ZM406.55,144.78h3.00v3.00h-3.00ZM405.73,135.88h3.00v3.00h-3.00ZM405.21,138.46h3.00v3.00h-3.00ZM403.48,148.79h3.00v3.00h-3.00ZM404.17,135.73h3.00v3.00h-3.00ZM403.05,170.76h3.00v3.00h-3.00ZM397.24,148.41h3.00v3.00h-3.00ZM406.30,165.65h3.00v3.00h-3.00ZM405.27,182.62h3.00v3.00h-3.00ZM404.51,142.13h3.00v3.00h-3.00ZM402.37,186.27h3.00v3.00h-3.00ZM404.43,180.68h3.00v3.00h-3.00ZM401.06,158.56h3.00v3.00h-3.00ZM405.87,133.73h3.00v3.00h-3.00ZM405.19,128.41h3.00v3.00h-3.00ZM407.12,145.42h3.00v3.00h-3.00ZM409.08,138.86h3.00v3.00h-3.00ZM408.79,163.80h3.00v3.00h-3.00ZM402.32,186.27h3.00v3.00h-3.00ZM406.46,164.68h3.00v3.00h-3.00ZM409.36,140.74h3.00v3.00h-3.00ZM409.96,150.60h3.00v3.00h-3.00ZM395.43,150.43h3.00v3.00h-3.00ZM405.39,134.77h3.00v3.00h-3.00ZM397.65,147.24h3.00v3.00h-3.00ZM399.64,192.80h3.00v3.00h-3.00ZM408.25,146.39h3.00v3.00h-3.00ZM407.19,142.53h3.00v3.00h-3.00ZM404.19,170.46h3.00v3.00h-3.00ZM406.64,159.69h3.00v3.00h-3.00ZM408.09,159.10h3.00v3.00h-3.00ZM399.68,180.08h3.00v3.00h-3.00ZM408.84,143.99h3.00v3.00h-3.00ZM406.57,154.76h3.00v3.00h-3.00ZM398.73,141.77h3.00v3.00h-3.00ZM410.89,152.73h3.00v3.00h-3.00ZM403.49,162.39h3.00v3.00h-3.00ZM400.94,141.22h3.00v3.00h-3.00ZM400.78,179.16h3.00v3.00h-3.00ZM405.96,155.48h3.00v3.00h-3.00ZM403.73,137.18h3.00v3.00h-3.00ZM410.30,160.26h3.00v3.00h-3.00ZM403.44,183.14h3.00v3.00h-3.00ZM398.29,178.45h3.00v3.00h-3.00ZM400.88,184.99h3.00v3.00h-3.00ZM396.57,146.03h3.00v3.00h-3.00ZM405.58,161.02h3.00v3.00h-3.00ZM401.27,168.01h3.00v3.00h-3.00ZM398.62,157.75h3.00v3.00h-3.00ZM399.22,186.31h3.00v3.00h-3.00ZM404.19,169.67h3.00v3.00h-3.00ZM405.42,135.11h3.00v3.00h-3.00ZM407.94,147.20h3.00v3.00h-3.00ZM406.29,185.18h3.00v3.00h-3.00ZM402.27,174.89h3.00v3.00h-3.00ZM396.67,155.91h3.00v3.00h-3.00ZM403.48,136.82h3.00v3.00h-3.00ZM398.68,188.91h3.00v3.00h-3.00ZM401.46,136.81h3.00v3.00h-3.00ZM398.04,167.93h3.00v3.00h-3.00ZM398.16,160.49h3.00v3.00h-3.00ZM403.95,157.92h3.00v3.00h-3.00ZM403.39,186.75h3.00v3.00h-3.00ZM407.78,167.38h3.00v3.00h-3.00ZM403.95,141.80h3.00v3.00h-3.00ZM408.01,148.24h3.00v3.00h-3.00ZM407.10,142.57h3.00v3.00h-3.00ZM404.54,173.06h3.00v3.00h-3.00ZM401.19,160.84h3.00v3.00h-3.00ZM396.08,172.71h3.00v3.00h-3.00ZM406.51,137.13h3.00v3.00h-3.00ZM404.17,179.22h3.00v3.00h-3.00ZM403.15,144.18h3.00v3.00h-3.00ZM399.99,159.50h3.00v3.00h-3.00ZM401.18,183.25h3.00v3.00h-3.00ZM407.03,134.28h3.00v3.00h-3.00ZM400.48,133.85h3.00v3.00h-3.00ZM406.61,182.65h3.00v3.00h-3.00ZM401.85,193.60h3.00v3.00h-3.00ZM401.53,148.68h3.00v3.00h-3.00ZM403.53,157.99h3.00v3.00h-3.00ZM402.28,181.80h3.00v3.00h-3.00ZM408.83,160.56h3.00v3.00h-3.00ZM397.96,155.50h3.00v3.00h-3.00ZM409.84,155.60h3.00v3.00h-3.00ZM406.00,166.64h3.00v3.00h-3.00ZM402.68,167.73h3.00v3.00h-3.00ZM399.08,166.47h3.00v3.00h-3.00ZM402.45,138.54h3.00v3.00h-3.00ZM402.52,138.77h3.00v3.00h-3.00ZM405.30,135.09h3.00v3.00h-3.00ZM402.56,132.81h3.00v3.00h-3.00ZM403.18,136.33h3.00v3.00h-3.00ZM404.73,135.32h3.00v3.00h-3.00ZM403.57,126.32h3.00v3.00h-3.00ZM402.30,134.66h3.00v3.00h-3.00ZM404.51,135.72h3.00v3.00h-3.00ZM404.39,130.43h3.00v3.00h-3.00ZM403.92,127.68h3.00v3.00h-3.00ZM404.14,139.58h3.00v3.00h-3.00ZM402.94,131.35h3.00v3.00h-3.00ZM402.61,133.27h3.00v3.00h-3.00ZM404.77,133.58h3.00v3.00h-3.00ZM403.09,131.55h3.00v3.00h-3.00ZM404.37,140.05h3.00v3.00h-3.00ZM404.86,138.07h3.00v3.00h-3.00ZM402.29,130.04h3.00v3.00h-3.00ZM403.83,132.51h3.00v3.00h-3.00ZM403.79,132.39h3.00v3.00h-3.00ZM403.71,128.21h3.00v3.00h-3.00ZM403.38,139.61h3.00v3.00h-3.00ZM402.23,134.13h3.00v3.00h-3.00ZM404.16,132.44h3.00v3.00h-3.00ZM402.86,134.50h3.00v3.00h-3.00ZM402.14,139.40h3.00v3.00h-3.00ZM402.43,136.38h3.00v3.00h-3.00ZM403.34,127.84h3.00v3.00h-3.00ZM402.83,128.19h3.00v3.00h-3.00ZM403.12,127.31h3.00v3.00h-3.00ZM404.31,127.99h3.00v3.00h-3.00ZM403.72,129.65h3.00v3.00h-3.00ZM404.09,126.68h3.00v3.00h-3.00ZM404.26,139.70h3.00v3.00h-3.00ZM401.05,138.52h3.00v3.00h-3.00ZM404.89,136.06h3.00v3.00h-3.00ZM403.28,130.03h3.00v3.00h-3.00ZM403.58,132.34h3.00v3.00h-3.00ZM403.56,130.34h3.00v3.00h-3.00ZM410.10,121.40h2.80v2.80h-2.80Z" fill="#d95f02" fill-opacity="1"/><path d="M411.43,150.06a1.60,1.60 0 1,0 3.20,0a1.60,1.60 0 1,0 -3.20,0ZM416.35,121.44a1.60,1.60 0 1,0 3.20,0a1.60,1.60 0 1,0 -3.20,0ZM411.78,135.44a1.60,1.60 0 1,0 3.20,0a1.60,1.60 0 1,0 -3.20,0ZM416.45,145.98a1.60,1.60 0 1,0 3.20,0a1.60,1.60 0 1,0 -3.20,0ZM414.89,130.61a1.60,1.60 0 1,0 3.20,0a1.60,1.60 0 1,0 -3.20,0ZM421.11,123.69a1.60,1.60 0 1,0 3.20,0a1.60,1.60 0 1,0 -3.20,0ZM422.17,154.63a1.60,1.60 0 1,0 3.20,0a1.60,1.60 0 1,0 -3.20,0ZM422.28,157.16a1.60,1.60 0 1,0 3.20,0a1.60,1.60 0 1,0 -3.20,0ZM413.49,150.72a1.60,1.60 0 1,0 3.20,0a1.60,1.60 0 1,0 -3.20,0ZM417.74,120.20a1.60,1.60 0 1,0 3.20,0a1.60,1.60 0 1,0 -3.20,0ZM422.37,142.38a1.60,1.60 0 1,0 3.20,0a1.60,1.60 0 1,0 -3.20,0ZM420.12,137.90a1.60,1.60 0 1,0 3.20,0a1.60,1.60 0 1,0 -3.20,0ZM411.35,153.17a1.60,1.60 0 1,0 3.20,0a1.60,1.60 0 1,0 -3.20,0ZM412.51,122.96a1.60,1.60 0 1,0 3.20,0a1.60,1.60 0 1,0 -3.20,0ZM417.79,119.70a1.60,1.60 0 1,0 3.20,0a1.60,1.60 0 1,0 -3.20,0ZM415.95,145.68a1.60,1.60 0 1,0 3.20,0a1.60,1.60 0 1,0 -3.20,0ZM411.55,143.03a1.60,1.60 0 1,0 3.20,0a1.60,1.60 0 1,0 -3.20,0ZM411.65,133.78a1.60,1.60 0 1,0 3.20,0a1.60,1.60 0 1,0 -3.20,0ZM418.19,144.37a1.60,1.60 0 1,0 3.20,0a1.60,1.60 0 1,0 -3.20,0ZM410.92,119.56a1.60,1.60 0 1,0 3.20,0a1.60,1.60 0 1,0 -3.20,0ZM421.92,129.55a1.60,1.60 0 1,0 3.20,0a1.60,1.60 0 1,0 -3.20,0ZM415.50,128.73a1.60,1.60 0 1,0 3.20,0a1.60,1.60 0 1,0 -3.20,0ZM418.75,147.02a1.60,1.60 0 1,0 3.20,0a1.60,1.60 0 1,0 -3.20,0ZM418.20,130.12a1.60,1.60 0 1,0 3.20,0a1.60,1.60 0 1,0 -3.20,0ZM417.23,135.77a1.60,1.60 0 1,0 3.20,0a1.60,1.60 0 1,0 -3.20,0ZM412.66,157.47a1.60,1.60 0 1,0 3.20,0a1.60,1.60 0 1,0 -3.20,0ZM421.98,148.87a1.60,1.60 0 1,0 3.20,0a1.60,1.60 0 1,0 -3.20,0ZM422.31,133.28a1.60,1.60 0 1,0 3.20,0a1.60,1.60 0 1,0 -3.20,0ZM420.47,122.03a1.60,1.60 0 1,0 3.20,0a1.60,1.60 0 1,0 -3.20,0ZM419.31,145.75a1.60,1.60 0 1,0 3.20,0a1.60,1.60 0 1,0 -3.20,0ZM421.66,151.67a1.60,1.60 0 1,0 3.20,0a1.60,1.60 0 1,0 -3.20,0ZM420.95,123.38a1.60,1.60 0 1,0 3.20,0a1.60,1.60 0 1,0 -3.20,0ZM419.85,133.77a1.60,1.60 0 1,0 3.20,0a1.60,1.60 0 1,0 -3.20,0ZM414.15,128.42a1.60,1.60 0 1,0 3.20,0a1.60,1.60 0 1,0 -3.20,0ZM419.99,152.14a1.60,1.60 0 1,0 3.20,0a1.60,1.60 0 1,0 -3.20,0ZM420.54,143.47a1.60,1.60 0 1,0 3.20,0a1.60,1.60 0 1,0 -3.20,0ZM412.44,117.78a1.60,1.60 0 1,0 3.20,0a1.60,1.60 0 1,0 -3.20,0ZM417.22,120.60a1.60,1.60 0 1,0 3.20,0a1.60,1.60 0 1,0 -3.20,0ZM414.44,115.12a1.60,1.60 0 1,0 3.20,0a1.60,1.60 0 1,0 -3.20,0ZM412.26,145.85a1.60,1.60 0 1,0 3.20,0a1.60,1.60 0 1,0 -3.20,0ZM413.08,152.40a1.60,1.60 0 1,0 3.20,0a1.60,1.60 0 1,0 -3.20,0ZM414.35,152.44a1.60,1.60 0 1,0 3.20,0a1.60,1.60 0 1,0 -3.20,0ZM414.03,123.37a1.60,1.60 0 1,0 3.20,0a1.60,1.60 0 1,0 -3.20,0ZM415.14,110.60a1.60,1.60 0 1,0 3.20,0a1.60,1.60 0 1,0 -3.20,0ZM415.63,129.00a1.60,1.60 0 1,0 3.20,0a1.60,1.60 0 1,0 -3.20,0ZM381.54,213.15a1.60,1.60 0 1,0 3.20,0a1.60,1.60 0 1,0 -3.20,0ZM385.53,183.01a1.60,1.60 0 1,0 3.20,0a1.60,1.60 0 1,0 -3.20,0ZM391.96,190.99a1.60,1.60 0 1,0 3.20,0a1.60,1.60 0 1,0 -3.20,0ZM384.18,183.85a1.60,1.60 0 1,0 3.20,0a1.60,1.60 0 1,0 -3.20,0ZM382.49,207.84a1.60,1.60 0 1,0 3.20,0a1.60,1.60 0 1,0 -3.20,0ZM387.80,200.64a1.60,1.60 0 1,0 3.20,0a1.60,1.60 0 1,0 -3.20,0ZM384.11,193.04a1.60,1.60 0 1,0 3.20,0a1.60,1.60 0 1,0 -3.20,0ZM392.07,196.03a1.60,1.60 0 1,0 3.20,0a1.60,1.60 0 1,0 -3.20,0ZM392.28,214.03a1.60,1.60 0 1,0 3.20,0a1.60,1.60 0 1,0 -3.20,0ZM382.77,212.69a1.60,1.60 0 1,0 3.20,0a1.60,1.60 0 1,0 -3.20,0ZM381.63,207.89a1.60,1.60 0 1,0 3.20,0a1.60,1.60 0 1,0 -3.20,0ZM390.31,207.34a1.60,1.60 0 1,0 3.20,0a1.60,1.60 0 1,0 -3.20,0ZM387.45,211.45a1.60,1.60 0 1,0 3.20,0a1.60,1.60 0 1,0 -3.20,0ZM383.10,201.89a1.60,1.60 0 1,0 3.20,0a1.60,1.60 0 1,0 -3.20,0ZM384.32,196.97a1.60,1.60 0 1,0 3.20,0a1.60,1.60 0 1,0 -3.20,0ZM383.50,207.79a1.60,1.60 0 1,0 3.20,0a1.60,1.60 0 1,0 -3.20,0ZM387.70,210.27a1.60,1.60 0 1,0 3.20,0a1.60,1.60 0 1,0 -3.20,0ZM388.31,203.97a1.60,1.60 0 1,0 3.20,0a1.60,1.60 0 1,0 -3.20,0ZM391.54,211.44a1.60,1.60 0 1,0 3.20,0a1.60,1.60 0 1,0 -3.20,0ZM387.63,194.41a1.60,1.60 0 1,0 3.20,0a1.60,1.60 0 1,0 -3.20,0ZM391.61,195.99a1.60,1.60 0 1,0 3.20,0a1.60,1.60 0 1,0 -3.20,0ZM382.52,194.66a1.60,1.60 0 1,0 3.20,0a1.60,1.60 0 1,0 -3.20,0ZM389.17,215.60a1.60,1.60 0 1,0 3.20,0a1.60,1.60 0 1,0 -3.20,0ZM388.50,206.19a1.60,1.60 0 1,0 3.20,0a1.60,1.60 0 1,0 -3.20,0ZM391.71,210.23a1.60,1.60 0 1,0 3.20,0a1.60,1.60 0 1,0 -3.20,0ZM412.52,178.47a1.60,1.60 0 1,0 3.20,0a1.60,1.60 0 1,0 -3.20,0ZM414.72,172.71a1.60,1.60 0 1,0 3.20,0a1.60,1.60 0 1,0 -3.20,0ZM410.17,184.79a1.60,1.60 0 1,0 3.20,0a1.60,1.60 0 1,0 -3.20,0ZM415.06,169.93a1.60,1.60 0 1,0 3.20,0a1.60,1.60 0 1,0 -3.20,0ZM414.19,195.70a1.60,1.60 0 1,0 3.20,0a1.60,1.60 0 1,0 -3.20,0ZM410.29,165.43a1.60,1.60 0 1,0 3.20,0a1.60,1.60 0 1,0 -3.20,0ZM412.85,173.37a1.60,1.60 0 1,0 3.20,0a1.60,1.60 0 1,0 -3.20,0ZM416.05,199.87a1.60,1.60 0 1,0 3.20,0a1.60,1.60 0 1,0 -3.20,0ZM391.41,188.81a1.60,1.60 0 1,0 3.20,0a1.60,1.60 0 1,0 -3.20,0ZM387.92,167.15a1.60,1.60 0 1,0 3.20,0a1.60,1.60 0 1,0 -3.20,0ZM410.28,170.25a1.60,1.60 0 1,0 3.20,0a1.60,1.60 0 1,0 -3.20,0ZM388.18,186.79a1.60,1.60 0 1,0 3.20,0a1.60,1.60 0 1,0 -3.20,0ZM408.83,177.82a1.60,1.60 0 1,0 3.20,0a1.60,1.60 0 1,0 -3.20,0ZM391.14,159.38a1.60,1.60 0 1,0 3.20,0a1.60,1.60 0 1,0 -3.20,0ZM392.86,153.29a1.60,1.60 0 1,0 3.20,0a1.60,1.60 0 1,0 -3.20,0ZM396.28,191.19a1.60,1.60 0 1,0 3.20,0a1.60,1.60 0 1,0 -3.20,0ZM410.34,197.97a1.60,1.60 0 1,0 3.20,0a1.60,1.60 0 1,0 -3.20,0ZM410.92,140.75a1.60,1.60 0 1,0 3.20,0a1.60,1.60 0 1,0 -3.20,0ZM390.85,169.98a1.60,1.60 0 1,0 3.20,0a1.60,1.60 0 1,0 -3.20,0ZM392.14,164.26a1.60,1.60 0 1,0 3.20,0a1.60,1.60 0 1,0 -3.20,0ZM388.32,146.95a1.60,1.60 0 1,0 3.20,0a1.60,1.60 0 1,0 -3.20,0ZM412.63,142.75a1.60,1.60 0 1,0 3.20,0a1.60,1.60 0 1,0 -3.20,0ZM411.39,180.10a1.60,1.60 0 1,0 3.20,0a1.60,1.60 0 1,0 -3.20,0ZM387.43,161.08a1.60,1.60 0 1,0 3.20,0a1.60,1.60 0 1,0 -3.20,0ZM391.62,159.91a1.60,1.60 0 1,0 3.20,0a1.60,1.60 0 1,0 -3.20,0ZM412.97,194.81a1.60,1.60 0 1,0 3.20,0a1.60,1.60 0 1,0 -3.20,0ZM392.49,165.83a1.60,1.60 0 1,0 3.20,0a1.60,1.60 0 1,0 -3.20,0ZM395.34,177.40a1.60,1.60 0 1,0 3.20,0a1.60,1.60 0 1,0 -3.20,0ZM391.70,182.30a1.60,1.60 0 1,0 3.20,0a1.60,1.60 0 1,0 -3.20,0ZM407.48,182.58a1.60,1.60 0 1,0 3.20,0a1.60,1.60 0 1,0 -3.20,0ZM393.71,141.85a1.60,1.60 0 1,0 3.20,0a1.60,1.60 0 1,0 -3.20,0ZM393.23,183.96a1.60,1.60 0 1,0 3.20,0a1.60,1.60 0 1,0 -3.20,0ZM411.87,176.87a1.60,1.60 0 1,0 3.20,0a1.60,1.60 0 1,0 -3.20,0ZM388.68,154.83a1.60,1.60 0 1,0 3.20,0a1.60,1.60 0 1,0 -3.20,0ZM409.71,149.21a1.60,1.60 0 1,0 3.20,0a1.60,1.60 0 1,0 -3.20,0ZM412.47,196.13a1.60,1.60 0 1,0 3.20,0a1.60,1.60 0 1,0 -3.20,0ZM409.02,143.14a1.60,1.60 0 1,0 3.20,0a1.60,1.60 0 1,0 -3.20,0ZM388.50,163.83a1.60,1.60 0 1,0 3.20,0a1.60,1.60 0 1,0 -3.20,0ZM402.97,195.68a1.60,1.60 0 1,0 3.20,0a1.60,1.60 0 1,0 -3.20,0ZM397.17,159.77a1.60,1.60 0 1,0 3.20,0a1.60,1.60 0 1,0 -3.20,0ZM398.27,148.03a1.60,1.60 0 1,0 3.20,0a1.60,1.60 0 1,0 -3.20,0ZM400.04,182.05a1.60,1.60 0 1,0 3.20,0a1.60,1.60 0 1,0 -3.20,0ZM403.36,147.31a1.60,1.60 0 1,0 3.20,0a1.60,1.60 0 1,0 -3.20,0ZM406.02,170.44a1.60,1.60 0 1,0 3.20,0a1.60,1.60 0 1,0 -3.20,0ZM398.12,189.23a1.60,1.60 0 1,0 3.20,0a1.60,1.60 0 1,0 -3.20,0ZM406.25,153.01a1.60,1.60 0 1,0 3.20,0a1.60,1.60 0 1,0 -3.20,0ZM407.67,188.62a1.60,1.60 0 1,0 3.20,0a1.60,1.60 0 1,0 -3.20,0ZM399.15,140.06a1.60,1.60 0 1,0 3.20,0a1.60,1.60 0 1,0 -3.20,0ZM406.81,189.56a1.60,1.60 0 1,0 3.20,0a1.60,1.60 0 1,0 -3.20,0ZM397.57,185.99a1.60,1.60 0 1,0 3.20,0a1.60,1.60 0 1,0 -3.20,0Z" fill="#e7298a" fill-opacity="0.62"/><path d="M413.29,143.22L416.79,143.22L415.04,140.19ZM412.29,155.12L415.79,155.12L414.04,152.09ZM419.38,121.57L422.88,121.57L421.13,118.53ZM413.26,120.97L416.76,120.97L415.01,117.94ZM414.55,138.45L418.05,138.45L416.30,135.42ZM412.90,132.53L416.40,132.53L414.65,129.49ZM417.22,119.44L420.72,119.44L418.97,116.41ZM420.05,114.35L423.55,114.35L421.80,111.32ZM416.68,147.97L420.18,147.97L418.43,144.94ZM415.11,139.17L418.61,139.17L416.86,136.14ZM418.64,137.91L422.14,137.91L420.39,134.88ZM418.25,142.85L421.75,142.85L420.00,139.82ZM418.50,120.68L422.00,120.68L420.25,117.65ZM416.76,143.13L420.26,143.13L418.51,140.10ZM417.22,127.72L420.72,127.72L418.97,124.69ZM416.52,113.46L420.02,113.46L418.27,110.43ZM417.93,122.46L421.43,122.46L419.68,119.43ZM416.85,112.52L420.35,112.52L418.60,109.49ZM418.38,142.12L421.88,142.12L420.13,139.09ZM419.25,112.79L422.75,112.79L421.00,109.76ZM415.21,118.31L418.71,118.31L416.96,115.28ZM413.42,125.09L416.92,125.09L415.17,122.06ZM418.59,126.93L422.09,126.93L420.34,123.90ZM417.68,118.13L421.18,118.13L419.43,115.10ZM414.99,144.06L418.49,144.06L416.74,141.03ZM413.15,130.81L416.65,130.81L414.90,127.78ZM417.43,139.28L420.93,139.28L419.18,136.25ZM418.62,120.13L422.12,120.13L420.37,117.10ZM417.13,119.70L420.63,119.70L418.88,116.67ZM415.74,121.46L419.24,121.46L417.49,118.43ZM419.10,119.71L422.60,119.71L420.85,116.68ZM414.56,128.37L418.06,128.37L416.31,125.34ZM421.16,123.80L424.66,123.80L422.91,120.76ZM414.56,126.93L418.06,126.93L416.31,123.90ZM417.46,132.52L420.96,132.52L419.21,129.49ZM416.11,118.77L419.61,118.77L417.86,115.74ZM414.19,113.36L417.69,113.36L415.94,110.33ZM417.47,115.05L420.97,115.05L419.22,112.02ZM419.13,126.14L422.63,126.14L420.88,123.11ZM416.84,123.91L420.34,123.91L418.59,120.88ZM417.11,146.85L420.61,146.85L418.86,143.82ZM416.35,113.98L419.85,113.98L418.10,110.95ZM415.98,136.03L419.48,136.03L417.73,132.99ZM411.65,137.23L415.15,137.23L413.40,134.20ZM415.53,120.73L419.03,120.73L417.28,117.70ZM416.65,126.76L420.15,126.76L418.40,123.73ZM420.45,127.79L423.95,127.79L422.20,124.76ZM413.03,151.75L416.53,151.75L414.78,148.72ZM417.78,128.25L421.28,128.25L419.53,125.22ZM415.08,151.45L418.58,151.45L416.83,148.42ZM417.68,136.22L421.18,136.22L419.43,133.18ZM413.60,155.48L417.10,155.48L415.35,152.45ZM419.86,111.38L423.36,111.38L421.61,108.35ZM413.97,123.55L417.47,123.55L415.72,120.52ZM416.39,146.26L419.89,146.26L418.14,143.23ZM420.00,127.80L423.50,127.80L421.75,124.77ZM418.08,125.18L421.58,125.18L419.83,122.15ZM419.34,140.95L422.84,140.95L421.09,137.92ZM419.03,112.95L422.53,112.95L420.78,109.92ZM416.80,123.59L420.30,123.59L418.55,120.56ZM413.16,125.34L416.66,125.34L414.91,122.31ZM413.30,152.83L416.80,152.83L415.05,149.80ZM415.63,135.85L419.13,135.85L417.38,132.82ZM418.38,112.40L421.88,112.40L420.13,109.37ZM414.71,130.19L418.21,130.19L416.46,127.16ZM414.02,154.99L417.52,154.99L415.77,151.96ZM415.66,125.29L419.16,125.29L417.41,122.26ZM419.15,115.57L422.65,115.57L420.90,112.54ZM413.16,152.48L416.66,152.48L414.91,149.45ZM415.51,125.84L419.01,125.84L417.26,122.81ZM416.37,118.43L419.87,118.43L418.12,115.40ZM418.94,126.78L422.44,126.78L420.69,123.74ZM413.87,154.80L417.37,154.80L415.62,151.77ZM417.16,112.02L420.66,112.02L418.91,108.98ZM415.52,115.14L419.02,115.14L417.27,112.11ZM319.30,137.52L322.70,137.52L321.00,140.46ZM358.10,158.12L361.50,158.12L359.80,161.06ZM341.90,188.82L345.30,188.82L343.60,191.76ZM347.10,189.92L350.50,189.92L348.80,192.86ZM344.00,196.22L347.40,196.22L345.70,199.16ZM402.30,136.02L405.70,136.02L404.00,138.96Z" fill="#e7298a" fill-opacity="0.9"/><path d="M419.96,42.73L423.16,42.73L421.56,39.96ZM418.56,52.46L421.76,52.46L420.16,49.69ZM415.44,56.79L418.64,56.79L417.04,54.02ZM417.11,64.19L420.31,64.19L418.71,61.42ZM413.42,75.10L416.62,75.10L415.02,72.33ZM419.07,45.84L422.27,45.84L420.67,43.06ZM409.39,57.76L412.59,57.76L410.99,54.98ZM416.94,42.16L420.14,42.16L418.54,39.39ZM409.09,54.62L412.29,54.62L410.69,51.84ZM416.57,44.76L419.77,44.76L418.17,41.99ZM414.26,42.56L417.46,42.56L415.86,39.79ZM410.92,40.12L414.12,40.12L412.52,37.35ZM419.02,53.01L422.22,53.01L420.62,50.24ZM417.73,48.00L420.93,48.00L419.33,45.23ZM418.91,59.77L422.11,59.77L420.51,57.00ZM416.94,50.14L420.14,50.14L418.54,47.37ZM415.75,40.56L418.95,40.56L417.35,37.79ZM421.05,63.39L424.25,63.39L422.65,60.62ZM415.38,61.81L418.58,61.81L416.98,59.03ZM409.82,47.38L413.02,47.38L411.42,44.61ZM411.50,71.50L414.70,71.50L413.10,68.72ZM419.70,68.63L422.90,68.63L421.30,65.85ZM417.77,45.82L420.97,45.82L419.37,43.04ZM411.52,64.91L414.72,64.91L413.12,62.14ZM412.37,65.81L415.57,65.81L413.97,63.03ZM413.03,67.58L416.23,67.58L414.63,64.81ZM415.90,70.18L419.10,70.18L417.50,67.41ZM415.54,49.93L418.74,49.93L417.14,47.16ZM418.43,46.46L421.63,46.46L420.03,43.69ZM411.21,68.70L414.41,68.70L412.81,65.93ZM415.61,67.35L418.81,67.35L417.21,64.58ZM414.82,33.25L418.02,33.25L416.42,30.48ZM418.45,41.86L421.65,41.86L420.05,39.09ZM414.60,31.55L417.80,31.55L416.20,28.77ZM411.86,63.08L415.06,63.08L413.46,60.31ZM418.36,61.70L421.56,61.70L419.96,58.93ZM414.23,66.26L417.43,66.26L415.83,63.49ZM417.13,41.29L420.33,41.29L418.73,38.52ZM415.41,59.87L418.61,59.87L417.01,57.10ZM417.90,40.90L421.10,40.90L419.50,38.12ZM412.53,47.78L415.73,47.78L414.13,45.01ZM409.76,48.04L412.96,48.04L411.36,45.27ZM417.91,58.91L421.11,58.91L419.51,56.14ZM410.75,66.21L413.95,66.21L412.35,63.44ZM410.03,67.14L413.23,67.14L411.63,64.37ZM411.77,55.94L414.97,55.94L413.37,53.17ZM412.00,73.44L415.20,73.44L413.60,70.67ZM420.60,44.96L423.80,44.96L422.20,42.18ZM418.17,64.50L421.37,64.50L419.77,61.73ZM415.75,43.61L418.95,43.61L417.35,40.84ZM412.66,40.93L415.86,40.93L414.26,38.16ZM414.06,74.11L417.26,74.11L415.66,71.34ZM420.10,44.43L423.30,44.43L421.70,41.66ZM411.26,37.05L414.46,37.05L412.86,34.28ZM413.25,37.19L416.45,37.19L414.85,34.42ZM410.84,43.38L414.04,43.38L412.44,40.61ZM415.97,52.68L419.17,52.68L417.57,49.90ZM412.45,56.46L415.65,56.46L414.05,53.69ZM418.48,65.85L421.68,65.85L420.08,63.08ZM412.95,75.05L416.15,75.05L414.55,72.28ZM418.71,58.16L421.91,58.16L420.31,55.38ZM414.65,47.15L417.85,47.15L416.25,44.38ZM416.35,36.20L419.55,36.20L417.95,33.42ZM420.43,73.58L423.63,73.58L422.03,70.81ZM411.59,56.92L414.79,56.92L413.19,54.14ZM419.26,48.14L422.46,48.14L420.86,45.37ZM414.94,63.06L418.14,63.06L416.54,60.29ZM411.00,61.22L414.20,61.22L412.60,58.45ZM414.00,78.11L417.20,78.11L415.60,75.33ZM410.94,65.23L414.14,65.23L412.54,62.46ZM415.32,39.79L418.52,39.79L416.92,37.02ZM418.75,36.09L421.95,36.09L420.35,33.32ZM416.54,72.34L419.74,72.34L418.14,69.57ZM410.16,41.83L413.36,41.83L411.76,39.06ZM418.37,53.82L421.57,53.82L419.97,51.04ZM420.52,47.54L423.72,47.54L422.12,44.77ZM413.65,76.92L416.85,76.92L415.25,74.15ZM412.95,77.34L416.15,77.34L414.55,74.57ZM419.99,41.02L423.19,41.02L421.59,38.24ZM415.55,76.15L418.75,76.15L417.15,73.38ZM410.04,71.76L413.24,71.76L411.64,68.99ZM418.49,67.05L421.69,67.05L420.09,64.28ZM416.26,36.26L419.46,36.26L417.86,33.49ZM418.61,65.81L421.81,65.81L420.21,63.04ZM412.61,63.98L415.81,63.98L414.21,61.21ZM413.81,67.12L417.01,67.12L415.41,64.35ZM413.47,69.60L416.67,69.60L415.07,66.83ZM414.59,70.04L417.79,70.04L416.19,67.27ZM412.40,57.37L415.60,57.37L414.00,54.60ZM408.85,54.72L412.05,54.72L410.45,51.95ZM417.24,51.67L420.44,51.67L418.84,48.90ZM417.58,66.02L420.78,66.02L419.18,63.24ZM416.32,32.27L419.52,32.27L417.92,29.50ZM420.41,52.31L423.61,52.31L422.01,49.54ZM416.18,70.15L419.38,70.15L417.78,67.38ZM420.40,44.35L423.60,44.35L422.00,41.58ZM411.23,38.47L414.43,38.47L412.83,35.69ZM420.07,63.04L423.27,63.04L421.67,60.27ZM416.03,37.74L419.23,37.74L417.63,34.97ZM413.84,76.40L417.04,76.40L415.44,73.63ZM419.35,66.21L422.55,66.21L420.95,63.44ZM409.07,64.49L412.27,64.49L410.67,61.72ZM414.87,54.81L418.07,54.81L416.47,52.04ZM410.40,55.81L413.60,55.81L412.00,53.04ZM418.84,37.75L422.04,37.75L420.44,34.98ZM419.80,51.43L423.00,51.43L421.40,48.66ZM411.95,42.86L415.15,42.86L413.55,40.09ZM414.44,62.22L417.64,62.22L416.04,59.45ZM415.86,73.72L419.06,73.72L417.46,70.95ZM415.11,55.83L418.31,55.83L416.71,53.05ZM412.56,37.40L415.76,37.40L414.16,34.63ZM413.91,33.16L417.11,33.16L415.51,30.39ZM420.37,54.49L423.57,54.49L421.97,51.71ZM419.83,64.59L423.03,64.59L421.43,61.82ZM417.92,67.49L421.12,67.49L419.52,64.72ZM412.41,66.09L415.61,66.09L414.01,63.32ZM411.18,57.83L414.38,57.83L412.78,55.06ZM416.19,68.29L419.39,68.29L417.79,65.52ZM410.69,47.83L413.89,47.83L412.29,45.06ZM419.13,69.67L422.33,69.67L420.73,66.90ZM411.23,36.58L414.43,36.58L412.83,33.80ZM417.84,66.86L421.04,66.86L419.44,64.09ZM416.86,68.48L420.06,68.48L418.46,65.71ZM415.16,58.18L418.36,58.18L416.76,55.41ZM420.37,62.26L423.57,62.26L421.97,59.49ZM416.97,59.44L420.17,59.44L418.57,56.67ZM414.88,67.41L418.08,67.41L416.48,64.63ZM415.89,37.64L419.09,37.64L417.49,34.86ZM414.01,51.50L417.21,51.50L415.61,48.73ZM414.09,58.12L417.29,58.12L415.69,55.35ZM413.18,50.07L416.38,50.07L414.78,47.29ZM414.02,49.13L417.22,49.13L415.62,46.36ZM413.61,52.80L416.81,52.80L415.21,50.03ZM416.14,48.92L419.34,48.92L417.74,46.15ZM419.77,76.04L422.97,76.04L421.37,73.27ZM412.21,53.58L415.41,53.58L413.81,50.81ZM412.69,34.29L415.89,34.29L414.29,31.51ZM420.01,71.18L423.21,71.18L421.61,68.41ZM411.63,43.60L414.83,43.60L413.23,40.83ZM417.51,69.30L420.71,69.30L419.11,66.53ZM414.57,49.89L417.77,49.89L416.17,47.12ZM411.53,69.37L414.73,69.37L413.13,66.60ZM419.63,72.20L422.83,72.20L421.23,69.43ZM410.00,59.67L413.20,59.67L411.60,56.90ZM421.20,65.43L424.40,65.43L422.80,62.66ZM414.44,38.40L417.64,38.40L416.04,35.63ZM409.31,66.22L412.51,66.22L410.91,63.45ZM417.09,53.97L420.29,53.97L418.69,51.20ZM419.99,75.74L423.19,75.74L421.59,72.97ZM416.46,36.25L419.66,36.25L418.06,33.47ZM416.10,51.48L419.30,51.48L417.70,48.71ZM411.74,75.55L414.94,75.55L413.34,72.78ZM417.92,37.29L421.12,37.29L419.52,34.52ZM411.47,47.76L414.67,47.76L413.07,44.99ZM415.90,46.92L419.10,46.92L417.50,44.15ZM414.18,70.09L417.38,70.09L415.78,67.31ZM410.87,65.66L414.07,65.66L412.47,62.89ZM412.78,76.31L415.98,76.31L414.38,73.53ZM420.77,47.05L423.97,47.05L422.37,44.27ZM416.32,36.77L419.52,36.77L417.92,34.00ZM413.81,61.07L417.01,61.07L415.41,58.30ZM416.74,47.76L419.94,47.76L418.34,44.99ZM415.74,39.63L418.94,39.63L417.34,36.86ZM412.47,60.84L415.67,60.84L414.07,58.07ZM420.11,55.95L423.31,55.95L421.71,53.18ZM411.80,59.30L415.00,59.30L413.40,56.53ZM412.07,68.61L415.27,68.61L413.67,65.84ZM410.54,43.94L413.74,43.94L412.14,41.17ZM414.17,74.58L417.37,74.58L415.77,71.81ZM410.66,40.64L413.86,40.64L412.26,37.87ZM410.22,41.65L413.42,41.65L411.82,38.88ZM412.80,50.25L416.00,50.25L414.40,47.48ZM418.30,50.67L421.50,50.67L419.90,47.89ZM414.64,50.32L417.84,50.32L416.24,47.55ZM418.49,74.34L421.69,74.34L420.09,71.57ZM414.00,75.20L417.20,75.20L415.60,72.43ZM411.75,77.88L414.95,77.88L413.35,75.11ZM415.29,63.85L418.49,63.85L416.89,61.08ZM413.43,44.39L416.63,44.39L415.03,41.62ZM413.15,64.64L416.35,64.64L414.75,61.87ZM414.45,56.49L417.65,56.49L416.05,53.72ZM411.19,39.92L414.39,39.92L412.79,37.14ZM412.85,63.83L416.05,63.83L414.45,61.06ZM415.52,31.63L418.72,31.63L417.12,28.86ZM417.67,52.06L420.87,52.06L419.27,49.29ZM411.25,70.54L414.45,70.54L412.85,67.76ZM415.60,47.01L418.80,47.01L417.20,44.24ZM411.73,45.33L414.93,45.33L413.33,42.55ZM412.13,47.94L415.33,47.94L413.73,45.17ZM418.70,68.91L421.90,68.91L420.30,66.14ZM417.51,73.48L420.71,73.48L419.11,70.71ZM416.94,36.90L420.14,36.90L418.54,34.13ZM411.85,56.57L415.05,56.57L413.45,53.80ZM419.10,59.29L422.30,59.29L420.70,56.52ZM414.06,43.00L417.26,43.00L415.66,40.23ZM421.15,67.24L424.35,67.24L422.75,64.47ZM412.92,33.70L416.12,33.70L414.52,30.93ZM416.93,48.42L420.13,48.42L418.53,45.65ZM419.96,45.61L423.16,45.61L421.56,42.83ZM416.80,63.85L420.00,63.85L418.40,61.08ZM412.16,44.44L415.36,44.44L413.76,41.67ZM409.09,60.56L412.29,60.56L410.69,57.78ZM413.03,40.37L416.23,40.37L414.63,37.60ZM414.14,75.65L417.34,75.65L415.74,72.88ZM411.72,39.32L414.92,39.32L413.32,36.55ZM416.62,62.67L419.82,62.67L418.22,59.90ZM415.10,40.04L418.30,40.04L416.70,37.27ZM410.77,42.98L413.97,42.98L412.37,40.21ZM415.14,54.11L418.34,54.11L416.74,51.33ZM415.65,65.99L418.85,65.99L417.25,63.22ZM420.03,53.72L423.23,53.72L421.63,50.95ZM410.37,60.07L413.57,60.07L411.97,57.30ZM418.58,37.63L421.78,37.63L420.18,34.86ZM412.31,71.87L415.51,71.87L413.91,69.10ZM417.39,36.66L420.59,36.66L418.99,33.89ZM417.36,69.17L420.56,69.17L418.96,66.40ZM413.78,38.88L416.98,38.88L415.38,36.11ZM417.00,46.65L420.20,46.65L418.60,43.88ZM413.71,37.54L416.91,37.54L415.31,34.77ZM413.48,57.66L416.68,57.66L415.08,54.89ZM415.63,50.66L418.83,50.66L417.23,47.89ZM418.82,35.68L422.02,35.68L420.42,32.91ZM412.77,75.77L415.97,75.77L414.37,73.00ZM419.64,75.18L422.84,75.18L421.24,72.41ZM418.37,56.92L421.57,56.92L419.97,54.15ZM418.66,58.67L421.86,58.67L420.26,55.89ZM410.04,43.63L413.24,43.63L411.64,40.86ZM412.67,50.84L415.87,50.84L414.27,48.07ZM415.45,36.30L418.65,36.30L417.05,33.53ZM417.61,69.24L420.81,69.24L419.21,66.47ZM418.77,73.29L421.97,73.29L420.37,70.52ZM412.61,38.42L415.81,38.42L414.21,35.64ZM418.32,64.39L421.52,64.39L419.92,61.62ZM413.31,47.80L416.51,47.80L414.91,45.03ZM410.51,70.96L413.71,70.96L412.11,68.19ZM414.45,70.02L417.65,70.02L416.05,67.25ZM412.90,46.75L416.10,46.75L414.50,43.98ZM415.13,66.87L418.33,66.87L416.73,64.10ZM419.88,48.27L423.08,48.27L421.48,45.50ZM417.45,50.66L420.65,50.66L419.05,47.89ZM419.61,67.56L422.81,67.56L421.21,64.79ZM415.67,48.71L418.87,48.71L417.27,45.94ZM412.05,73.48L415.25,73.48L413.65,70.71ZM418.83,45.99L422.03,45.99L420.43,43.22ZM418.95,56.60L422.15,56.60L420.55,53.83ZM415.65,57.10L418.85,57.10L417.25,54.33ZM413.81,57.94L417.01,57.94L415.41,55.17ZM417.18,61.90L420.38,61.90L418.78,59.13ZM418.90,64.36L422.10,64.36L420.50,61.59ZM418.55,38.76L421.75,38.76L420.15,35.99ZM415.36,68.05L418.56,68.05L416.96,65.27ZM410.54,56.53L413.74,56.53L412.14,53.76ZM420.11,66.96L423.31,66.96L421.71,64.19ZM413.65,54.23L416.85,54.23L415.25,51.46ZM412.10,77.07L415.30,77.07L413.70,74.29ZM418.59,63.78L421.79,63.78L420.19,61.01ZM412.44,66.22L415.64,66.22L414.04,63.45ZM414.79,69.37L417.99,69.37L416.39,66.60ZM413.21,73.32L416.41,73.32L414.81,70.55ZM417.33,52.89L420.53,52.89L418.93,50.12ZM415.77,69.68L418.97,69.68L417.37,66.91ZM415.33,77.05L418.53,77.05L416.93,74.28ZM417.71,54.72L420.91,54.72L419.31,51.95ZM419.46,38.58L422.66,38.58L421.06,35.80ZM412.87,65.37L416.07,65.37L414.47,62.60ZM419.12,49.20L422.32,49.20L420.72,46.43ZM421.31,62.27L424.51,62.27L422.91,59.50ZM409.51,58.54L412.71,58.54L411.11,55.77ZM412.67,43.90L415.87,43.90L414.27,41.13ZM414.29,35.23L417.49,35.23L415.89,32.45ZM420.22,71.26L423.42,71.26L421.82,68.49ZM415.71,52.59L418.91,52.59L417.31,49.82ZM412.50,60.10L415.70,60.10L414.10,57.33ZM412.99,77.77L416.19,77.77L414.59,75.00ZM420.83,65.98L424.03,65.98L422.43,63.21ZM410.12,47.90L413.32,47.90L411.72,45.13ZM410.15,51.55L413.35,51.55L411.75,48.78ZM415.32,45.77L418.52,45.77L416.92,43.00ZM417.19,58.12L420.39,58.12L418.79,55.35ZM416.21,45.74L419.41,45.74L417.81,42.97ZM417.98,64.20L421.18,64.20L419.58,61.43ZM417.72,53.86L420.92,53.86L419.32,51.09ZM414.49,45.08L417.69,45.08L416.09,42.31ZM409.05,53.62L412.25,53.62L410.65,50.84ZM416.45,40.34L419.65,40.34L418.05,37.57ZM419.59,73.20L422.79,73.20L421.19,70.43ZM419.51,70.22L422.71,70.22L421.11,67.44ZM414.81,39.85L418.01,39.85L416.41,37.08ZM412.02,66.49L415.22,66.49L413.62,63.72ZM413.02,59.86L416.22,59.86L414.62,57.09ZM409.97,71.53L413.17,71.53L411.57,68.76ZM412.88,74.60L416.08,74.60L414.48,71.83ZM412.76,46.00L415.96,46.00L414.36,43.23ZM416.11,70.67L419.31,70.67L417.71,67.89ZM409.34,57.26L412.54,57.26L410.94,54.49ZM417.96,78.17L421.16,78.17L419.56,75.40ZM413.33,78.88L416.53,78.88L414.93,76.10ZM415.41,76.89L418.61,76.89L417.01,74.12ZM415.74,48.62L418.94,48.62L417.34,45.85ZM415.96,75.80L419.16,75.80L417.56,73.03ZM411.83,70.45L415.03,70.45L413.43,67.68ZM413.25,59.11L416.45,59.11L414.85,56.33ZM411.57,65.11L414.77,65.11L413.17,62.34ZM416.92,36.03L420.12,36.03L418.52,33.26ZM417.49,48.04L420.69,48.04L419.09,45.27ZM414.43,69.20L417.63,69.20L416.03,66.42ZM415.38,44.55L418.58,44.55L416.98,41.78ZM415.20,78.05L418.40,78.05L416.80,75.28ZM417.92,63.28L421.12,63.28L419.52,60.51ZM419.37,50.91L422.57,50.91L420.97,48.14ZM415.72,71.76L418.92,71.76L417.32,68.99ZM411.09,72.24L414.29,72.24L412.69,69.47ZM408.85,56.98L412.05,56.98L410.45,54.21ZM415.92,38.46L419.12,38.46L417.52,35.69ZM420.39,52.35L423.59,52.35L421.99,49.58ZM410.91,51.03L414.11,51.03L412.51,48.26ZM416.13,51.86L419.33,51.86L417.73,49.09ZM417.70,37.77L420.90,37.77L419.30,35.00ZM411.81,69.81L415.01,69.81L413.41,67.04ZM419.61,73.32L422.81,73.32L421.21,70.55ZM418.23,59.92L421.43,59.92L419.83,57.15ZM413.22,32.40L416.42,32.40L414.82,29.63ZM414.08,42.76L417.28,42.76L415.68,39.99ZM416.09,78.02L419.29,78.02L417.69,75.25ZM417.46,36.62L420.66,36.62L419.06,33.85ZM411.40,52.34L414.60,52.34L413.00,49.57ZM412.59,54.05L415.79,54.05L414.19,51.28ZM410.62,50.59L413.82,50.59L412.22,47.82ZM417.54,46.88L420.74,46.88L419.14,44.11ZM418.77,40.26L421.97,40.26L420.37,37.49ZM409.84,61.26L413.04,61.26L411.44,58.49ZM414.35,75.05L417.55,75.05L415.95,72.28ZM409.88,66.90L413.08,66.90L411.48,64.13ZM417.14,49.08L420.34,49.08L418.74,46.31ZM410.18,60.53L413.38,60.53L411.78,57.76ZM418.28,53.93L421.48,53.93L419.88,51.16ZM414.61,64.03L417.81,64.03L416.21,61.26ZM416.37,51.59L419.57,51.59L417.97,48.82ZM410.92,53.50L414.12,53.50L412.52,50.73ZM415.60,74.03L418.80,74.03L417.20,71.25ZM421.32,57.92L424.52,57.92L422.92,55.15ZM412.75,42.08L415.95,42.08L414.35,39.31ZM416.64,66.53L419.84,66.53L418.24,63.76ZM411.72,64.25L414.92,64.25L413.32,61.48ZM420.60,52.22L423.80,52.22L422.20,49.45ZM416.92,72.61L420.12,72.61L418.52,69.84ZM411.14,47.90L414.34,47.90L412.74,45.13ZM412.47,54.11L415.67,54.11L414.07,51.34ZM418.11,61.42L421.31,61.42L419.71,58.65ZM420.49,63.27L423.69,63.27L422.09,60.50ZM409.00,51.99L412.20,51.99L410.60,49.21ZM408.88,56.46L412.08,56.46L410.48,53.69ZM416.66,41.11L419.86,41.11L418.26,38.34ZM419.54,51.13L422.74,51.13L421.14,48.36ZM420.87,48.48L424.07,48.48L422.47,45.71ZM416.50,57.21L419.70,57.21L418.10,54.44ZM411.91,68.50L415.11,68.50L413.51,65.72ZM412.65,73.35L415.85,73.35L414.25,70.58ZM414.97,33.25L418.17,33.25L416.57,30.48ZM412.38,60.42L415.58,60.42L413.98,57.65ZM418.93,36.69L422.13,36.69L420.53,33.92ZM418.55,50.04L421.75,50.04L420.15,47.27ZM415.27,51.49L418.47,51.49L416.87,48.72ZM414.17,78.49L417.37,78.49L415.77,75.71ZM417.99,64.72L421.19,64.72L419.59,61.95ZM419.21,63.43L422.41,63.43L420.81,60.66ZM416.64,46.35L419.84,46.35L418.24,43.58ZM411.96,75.18L415.16,75.18L413.56,72.41ZM415.37,32.46L418.57,32.46L416.97,29.69ZM412.91,48.06L416.11,48.06L414.51,45.29ZM420.14,70.15L423.34,70.15L421.74,67.38ZM409.96,65.93L413.16,65.93L411.56,63.16ZM418.94,68.95L422.14,68.95L420.54,66.18ZM418.71,37.25L421.91,37.25L420.31,34.48ZM419.36,70.84L422.56,70.84L420.96,68.07ZM415.17,42.64L418.37,42.64L416.77,39.87ZM421.17,51.20L424.37,51.20L422.77,48.43ZM418.45,69.53L421.65,69.53L420.05,66.75ZM416.00,78.32L419.20,78.32L417.60,75.54ZM418.49,75.48L421.69,75.48L420.09,72.71ZM418.18,42.25L421.38,42.25L419.78,39.48ZM412.70,47.71L415.90,47.71L414.30,44.94ZM414.12,37.59L417.32,37.59L415.72,34.82ZM421.36,55.04L424.56,55.04L422.96,52.27ZM417.56,56.18L420.76,56.18L419.16,53.41ZM418.40,47.48L421.60,47.48L420.00,44.71ZM413.85,66.82L417.05,66.82L415.45,64.04ZM417.57,73.61L420.77,73.61L419.17,70.84ZM412.51,71.74L415.71,71.74L414.11,68.97ZM418.01,58.70L421.21,58.70L419.61,55.93ZM413.78,58.40L416.98,58.40L415.38,55.63ZM412.53,37.37L415.73,37.37L414.13,34.60ZM409.16,65.51L412.36,65.51L410.76,62.74ZM417.93,60.72L421.13,60.72L419.53,57.95ZM411.18,65.75L414.38,65.75L412.78,62.98ZM419.15,60.88L422.35,60.88L420.75,58.11ZM411.45,58.29L414.65,58.29L413.05,55.52ZM413.61,44.27L416.81,44.27L415.21,41.50ZM410.44,72.53L413.64,72.53L412.04,69.75ZM416.66,75.74L419.86,75.74L418.26,72.97ZM410.74,44.05L413.94,44.05L412.34,41.27ZM415.08,34.32L418.28,34.32L416.68,31.55ZM412.42,57.13L415.62,57.13L414.02,54.36ZM414.73,74.65L417.93,74.65L416.33,71.88ZM415.95,61.75L419.15,61.75L417.55,58.98ZM416.05,68.76L419.25,68.76L417.65,65.99ZM413.24,31.55L416.44,31.55L414.84,28.78ZM421.14,69.09L424.34,69.09L422.74,66.32ZM411.39,62.72L414.59,62.72L412.99,59.95ZM414.88,31.81L418.08,31.81L416.48,29.04ZM411.86,49.64L415.06,49.64L413.46,46.87ZM411.87,43.08L415.07,43.08L413.47,40.31ZM412.70,51.17L415.90,51.17L414.30,48.40ZM413.16,46.89L416.36,46.89L414.76,44.11ZM418.02,54.89L421.22,54.89L419.62,52.12ZM420.11,53.20L423.31,53.20L421.71,50.43ZM411.17,70.40L414.37,70.40L412.77,67.63ZM414.97,58.13L418.17,58.13L416.57,55.36ZM410.04,46.66L413.24,46.66L411.64,43.89ZM416.48,63.45L419.68,63.45L418.08,60.68ZM416.61,60.93L419.81,60.93L418.21,58.16ZM413.39,34.78L416.59,34.78L414.99,32.01ZM419.65,74.43L422.85,74.43L421.25,71.66ZM409.51,68.00L412.71,68.00L411.11,65.23ZM410.74,47.94L413.94,47.94L412.34,45.17ZM411.11,72.30L414.31,72.30L412.71,69.52ZM419.06,71.00L422.26,71.00L420.66,68.23ZM413.44,75.90L416.64,75.90L415.04,73.13ZM411.87,58.74L415.07,58.74L413.47,55.97ZM417.19,42.60L420.39,42.60L418.79,39.83ZM413.44,36.27L416.64,36.27L415.04,33.50ZM418.77,40.26L421.97,40.26L420.37,37.49ZM410.28,44.70L413.48,44.70L411.88,41.93ZM416.76,61.73L419.96,61.73L418.36,58.96ZM415.28,71.99L418.48,71.99L416.88,69.22ZM418.21,41.47L421.41,41.47L419.81,38.69ZM415.41,39.55L418.61,39.55L417.01,36.78ZM411.64,38.49L414.84,38.49L413.24,35.72ZM409.52,48.13L412.72,48.13L411.12,45.36ZM419.93,62.63L423.13,62.63L421.53,59.86ZM416.14,56.64L419.34,56.64L417.74,53.87ZM415.81,60.02L419.01,60.02L417.41,57.25ZM409.56,68.16L412.76,68.16L411.16,65.39ZM411.62,59.46L414.82,59.46L413.22,56.69ZM415.34,47.64L418.54,47.64L416.94,44.87ZM420.70,50.28L423.90,50.28L422.30,47.51ZM413.97,57.13L417.17,57.13L415.57,54.36ZM418.43,57.06L421.63,57.06L420.03,54.29ZM417.75,61.78L420.95,61.78L419.35,59.01ZM418.30,41.78L421.50,41.78L419.90,39.01ZM415.84,52.36L419.04,52.36L417.44,49.59ZM411.50,68.57L414.70,68.57L413.10,65.80ZM411.37,65.17L414.57,65.17L412.97,62.40ZM414.82,51.76L418.02,51.76L416.42,48.99ZM417.62,65.89L420.82,65.89L419.22,63.12ZM418.82,44.03L422.02,44.03L420.42,41.26ZM417.14,55.01L420.34,55.01L418.74,52.24ZM420.62,52.72L423.82,52.72L422.22,49.95ZM413.13,32.75L416.33,32.75L414.73,29.98ZM414.58,56.77L417.78,56.77L416.18,54.00ZM412.49,36.51L415.69,36.51L414.09,33.74ZM414.75,34.87L417.95,34.87L416.35,32.09ZM410.74,52.57L413.94,52.57L412.34,49.80ZM413.01,55.23L416.21,55.23L414.61,52.46ZM415.35,49.94L418.55,49.94L416.95,47.17ZM415.72,77.52L418.92,77.52L417.32,74.75ZM412.15,48.20L415.35,48.20L413.75,45.43ZM412.64,66.72L415.84,66.72L414.24,63.95ZM414.87,69.26L418.07,69.26L416.47,66.49ZM411.18,49.01L414.38,49.01L412.78,46.24ZM413.67,49.79L416.87,49.79L415.27,47.02ZM420.95,52.35L424.15,52.35L422.55,49.57ZM415.93,77.20L419.13,77.20L417.53,74.43ZM416.78,59.72L419.98,59.72L418.38,56.95ZM419.18,47.38L422.38,47.38L420.78,44.60ZM415.40,59.12L418.60,59.12L417.00,56.35ZM409.39,66.84L412.59,66.84L410.99,64.07ZM413.34,62.01L416.54,62.01L414.94,59.24ZM412.18,75.05L415.38,75.05L413.78,72.28ZM413.27,44.59L416.47,44.59L414.87,41.82ZM420.02,42.08L423.22,42.08L421.62,39.31ZM412.01,54.61L415.21,54.61L413.61,51.84ZM411.24,69.25L414.44,69.25L412.84,66.48ZM409.50,51.17L412.70,51.17L411.10,48.39ZM418.60,65.31L421.80,65.31L420.20,62.54ZM418.73,37.08L421.93,37.08L420.33,34.31ZM419.97,48.45L423.17,48.45L421.57,45.68ZM419.00,53.88L422.20,53.88L420.60,51.11ZM419.99,54.18L423.19,54.18L421.59,51.41ZM411.84,38.66L415.04,38.66L413.44,35.89ZM414.91,33.88L418.11,33.88L416.51,31.11ZM410.64,72.99L413.84,72.99L412.24,70.22ZM415.91,72.45L419.11,72.45L417.51,69.67ZM410.47,54.29L413.67,54.29L412.07,51.52ZM414.56,36.63L417.76,36.63L416.16,33.86ZM411.92,75.23L415.12,75.23L413.52,72.46ZM417.83,55.65L421.03,55.65L419.43,52.88ZM416.37,72.34L419.57,72.34L417.97,69.57ZM420.80,59.71L424.00,59.71L422.40,56.94ZM410.65,42.91L413.85,42.91L412.25,40.13ZM410.29,55.80L413.49,55.80L411.89,53.03ZM416.02,53.34L419.22,53.34L417.62,50.57ZM414.57,38.20L417.77,38.20L416.17,35.43ZM417.76,57.01L420.96,57.01L419.36,54.23ZM412.50,71.04L415.70,71.04L414.10,68.27ZM413.53,52.85L416.73,52.85L415.13,50.08ZM411.83,66.79L415.03,66.79L413.43,64.02ZM415.04,77.39L418.24,77.39L416.64,74.62ZM419.96,52.89L423.16,52.89L421.56,50.12ZM409.88,53.16L413.08,53.16L411.48,50.38ZM415.19,68.77L418.39,68.77L416.79,66.00ZM410.92,44.77L414.12,44.77L412.52,42.00ZM416.39,36.02L419.59,36.02L417.99,33.25ZM418.18,51.60L421.38,51.60L419.78,48.83ZM419.81,42.31L423.01,42.31L421.41,39.54ZM409.51,49.95L412.71,49.95L411.11,47.18ZM421.03,48.34L424.23,48.34L422.63,45.57ZM417.75,33.14L420.95,33.14L419.35,30.37ZM415.16,57.09L418.36,57.09L416.76,54.32ZM409.79,59.01L412.99,59.01L411.39,56.24ZM414.27,47.04L417.47,47.04L415.87,44.27ZM419.21,64.30L422.41,64.30L420.81,61.53ZM416.72,77.44L419.92,77.44L418.32,74.67ZM410.13,69.07L413.33,69.07L411.73,66.30ZM418.33,53.93L421.53,53.93L419.93,51.16ZM421.33,59.92L424.53,59.92L422.93,57.15ZM410.05,41.76L413.25,41.76L411.65,38.99ZM410.20,60.47L413.40,60.47L411.80,57.69ZM416.56,72.19L419.76,72.19L418.16,69.42ZM411.93,72.61L415.13,72.61L413.53,69.84ZM409.96,69.11L413.16,69.11L411.56,66.34ZM420.06,58.18L423.26,58.18L421.66,55.41ZM416.35,31.80L419.55,31.80L417.95,29.03ZM416.33,60.62L419.53,60.62L417.93,57.85ZM418.44,56.04L421.64,56.04L420.04,53.27ZM409.99,42.07L413.19,42.07L411.59,39.30ZM416.93,35.29L420.13,35.29L418.53,32.52ZM409.90,43.41L413.10,43.41L411.50,40.64ZM418.77,57.43L421.97,57.43L420.37,54.66ZM413.12,77.22L416.32,77.22L414.72,74.45ZM416.00,42.83L419.20,42.83L417.60,40.06ZM415.80,72.08L419.00,72.08L417.40,69.31ZM413.27,52.12L416.47,52.12L414.87,49.35ZM415.95,78.33L419.15,78.33L417.55,75.56ZM416.74,40.11L419.94,40.11L418.34,37.34ZM416.01,46.75L419.21,46.75L417.61,43.98ZM414.62,65.32L417.82,65.32L416.22,62.55ZM412.57,59.92L415.77,59.92L414.17,57.15ZM419.08,53.67L422.28,53.67L420.68,50.90ZM416.63,45.21L419.83,45.21L418.23,42.44ZM411.82,55.70L415.02,55.70L413.42,52.93ZM415.38,42.11L418.58,42.11L416.98,39.34ZM418.37,55.21L421.57,55.21L419.97,52.43ZM413.10,43.55L416.30,43.55L414.70,40.77ZM419.29,74.29L422.49,74.29L420.89,71.52ZM409.45,61.47L412.65,61.47L411.05,58.70ZM417.26,47.49L420.46,47.49L418.86,44.72ZM414.21,63.90L417.41,63.90L415.81,61.13ZM410.59,48.83L413.79,48.83L412.19,46.05ZM418.65,63.80L421.85,63.80L420.25,61.02ZM416.06,36.41L419.26,36.41L417.66,33.64ZM411.32,43.68L414.52,43.68L412.92,40.91ZM408.93,61.86L412.13,61.86L410.53,59.09ZM415.90,75.34L419.10,75.34L417.50,72.57ZM415.66,75.07L418.86,75.07L417.26,72.29ZM414.56,56.06L417.76,56.06L416.16,53.29ZM412.15,53.53L415.35,53.53L413.75,50.76ZM420.58,54.65L423.78,54.65L422.18,51.87ZM411.07,61.09L414.27,61.09L412.67,58.31ZM415.08,54.07L418.28,54.07L416.68,51.30ZM420.45,67.67L423.65,67.67L422.05,64.90ZM417.54,59.82L420.74,59.82L419.14,57.04ZM416.92,55.25L420.12,55.25L418.52,52.48ZM408.99,52.94L412.19,52.94L410.59,50.17ZM419.27,60.06L422.47,60.06L420.87,57.29ZM420.16,57.36L423.36,57.36L421.76,54.59ZM410.65,65.02L413.85,65.02L412.25,62.25ZM420.42,72.54L423.62,72.54L422.02,69.77ZM416.83,69.79L420.03,69.79L418.43,67.02ZM409.66,53.49L412.86,53.49L411.26,50.72ZM418.95,47.71L422.15,47.71L420.55,44.94ZM410.38,72.57L413.58,72.57L411.98,69.79ZM417.59,31.87L420.79,31.87L419.19,29.10ZM409.35,57.94L412.55,57.94L410.95,55.17ZM420.80,60.81L424.00,60.81L422.40,58.04ZM415.94,40.13L419.14,40.13L417.54,37.36ZM412.80,38.60L416.00,38.60L414.40,35.83ZM414.49,33.71L417.69,33.71L416.09,30.94ZM416.97,62.17L420.17,62.17L418.57,59.40ZM420.16,67.94L423.36,67.94L421.76,65.17ZM415.51,75.91L418.71,75.91L417.11,73.14ZM414.86,35.37L418.06,35.37L416.46,32.60ZM417.58,39.73L420.78,39.73L419.18,36.96ZM421.18,57.09L424.38,57.09L422.78,54.32ZM420.13,54.87L423.33,54.87L421.73,52.10ZM412.73,62.92L415.93,62.92L414.33,60.15ZM417.66,53.34L420.86,53.34L419.26,50.56ZM412.07,51.45L415.27,51.45L413.67,48.68ZM417.72,42.35L420.92,42.35L419.32,39.58ZM410.56,54.47L413.76,54.47L412.16,51.70ZM416.99,34.68L420.19,34.68L418.59,31.91ZM412.02,77.59L415.22,77.59L413.62,74.82ZM411.96,68.12L415.16,68.12L413.56,65.35ZM412.46,35.59L415.66,35.59L414.06,32.82ZM414.78,72.75L417.98,72.75L416.38,69.98ZM417.58,60.96L420.78,60.96L419.18,58.19ZM414.73,63.04L417.93,63.04L416.33,60.27ZM415.24,40.20L418.44,40.20L416.84,37.43ZM417.47,37.63L420.67,37.63L419.07,34.86ZM412.51,71.90L415.71,71.90L414.11,69.13ZM415.84,55.75L419.04,55.75L417.44,52.98ZM417.66,54.87L420.86,54.87L419.26,52.10ZM413.47,57.70L416.67,57.70L415.07,54.93ZM420.20,62.52L423.40,62.52L421.80,59.75ZM410.56,72.07L413.76,72.07L412.16,69.30ZM412.17,69.68L415.37,69.68L413.77,66.90ZM416.90,60.20L420.10,60.20L418.50,57.43ZM418.06,44.20L421.26,44.20L419.66,41.43ZM419.26,57.24L422.46,57.24L420.86,54.47ZM418.27,71.34L421.47,71.34L419.87,68.57ZM411.80,50.99L415.00,50.99L413.40,48.22ZM413.18,35.17L416.38,35.17L414.78,32.40ZM419.79,64.03L422.99,64.03L421.39,61.26ZM414.83,57.37L418.03,57.37L416.43,54.60ZM413.13,64.06L416.33,64.06L414.73,61.29ZM415.41,55.10L418.61,55.10L417.01,52.33ZM411.86,42.09L415.06,42.09L413.46,39.32ZM417.15,47.69L420.35,47.69L418.75,44.92ZM415.15,36.47L418.35,36.47L416.75,33.69ZM413.15,35.05L416.35,35.05L414.75,32.28ZM414.98,76.89L418.18,76.89L416.58,74.12ZM418.33,48.77L421.53,48.77L419.93,46.00ZM412.08,75.69L415.28,75.69L413.68,72.91ZM420.76,62.16L423.96,62.16L422.36,59.39ZM413.53,51.68L416.73,51.68L415.13,48.91ZM416.35,56.50L419.55,56.50L417.95,53.73ZM419.69,73.97L422.89,73.97L421.29,71.19ZM418.54,62.23L421.74,62.23L420.14,59.46ZM416.95,35.04L420.15,35.04L418.55,32.27ZM413.21,53.93L416.41,53.93L414.81,51.16ZM416.70,34.44L419.90,34.44L418.30,31.67ZM415.75,66.55L418.95,66.55L417.35,63.78ZM410.55,67.54L413.75,67.54L412.15,64.77ZM420.99,70.69L424.19,70.69L422.59,67.92ZM418.70,76.44L421.90,76.44L420.30,73.67ZM417.75,57.48L420.95,57.48L419.35,54.71ZM419.13,69.75L422.33,69.75L420.73,66.98ZM416.62,63.23L419.82,63.23L418.22,60.46ZM410.82,47.56L414.02,47.56L412.42,44.79ZM412.71,72.24L415.91,72.24L414.31,69.47ZM409.05,66.37L412.25,66.37L410.65,63.60ZM408.18,51.64L411.38,51.64L409.78,48.87ZM407.89,44.77L411.09,44.77L409.49,42.00ZM409.63,52.76L412.83,52.76L411.23,49.98ZM408.81,53.68L412.01,53.68L410.41,50.91ZM408.50,54.57L411.70,54.57L410.10,51.80ZM407.12,61.84L410.32,61.84L408.72,59.07ZM405.95,56.12L409.15,56.12L407.55,53.35ZM408.40,51.24L411.60,51.24L410.00,48.47ZM407.46,58.69L410.66,58.69L409.06,55.92ZM414.70,83.00a1.20,1.20 0 1,0 2.40,0a1.20,1.20 0 1,0 -2.40,0ZM414.50,84.30a1.20,1.20 0 1,0 2.40,0a1.20,1.20 0 1,0 -2.40,0ZM414.60,101.30a1.20,1.20 0 1,0 2.40,0a1.20,1.20 0 1,0 -2.40,0Z" fill="#1b9e77" fill-opacity="1"/></g><rect x="219.6" y="29.0" width="206.3" height="206.2" fill="none" stroke="#222" stroke-width="1.2"/><text x="0" y="0" font-size="8.2" text-anchor="start" fill="#333" transform="translate(204.50 262.20) translate(0 3.19) scale(1.0 1.130)">Cluster</text><circle cx="218.8" cy="276.5" r="4.3" fill="#8dd1bb"/><text x="0" y="0" font-size="7.6" text-anchor="start" fill="#333" transform="translate(225.50 276.30) translate(0 2.95) scale(1.0 1.130)">Cluster0</text><circle cx="271.2" cy="276.5" r="4.3" fill="#eeaa7a"/><text x="0" y="0" font-size="7.6" text-anchor="start" fill="#333" transform="translate(277.50 276.30) translate(0 2.95) scale(1.0 1.130)">Cluster1</text><circle cx="322.5" cy="276.5" r="4.3" fill="#bab7d9"/><text x="0" y="0" font-size="7.6" text-anchor="start" fill="#333" transform="translate(329.00 276.30) translate(0 2.95) scale(1.0 1.130)">Cluster2</text><circle cx="367.3" cy="276.5" r="4.3" fill="#f08fc1"/><text x="0" y="0" font-size="7.6" text-anchor="start" fill="#333" transform="translate(373.70 276.30) translate(0 2.95) scale(1.0 1.130)">Cluster3</text><text x="0" y="0" font-size="8.2" text-anchor="start" fill="#333" transform="translate(204.50 290.80) translate(0 3.19) scale(1.0 1.130)">Group</text><circle cx="221.2" cy="306.5" r="4.3" fill="#000"/><text x="0" y="0" font-size="7.6" text-anchor="start" fill="#333" transform="translate(228.00 306.30) translate(0 2.95) scale(1.0 1.130)">AMR</text><rect x="256.5" y="302.1" width="8.8" height="8.8" fill="#000"/><text x="0" y="0" font-size="7.6" text-anchor="start" fill="#333" transform="translate(266.70 306.30) translate(0 2.95) scale(1.0 1.130)">SAS</text><polygon points="294.7,301.4 299.5,306.3 294.7,311.2 289.9,306.3" fill="#000"/><text x="0" y="0" font-size="7.6" text-anchor="start" fill="#333" transform="translate(301.60 306.30) translate(0 2.95) scale(1.0 1.130)">EUR</text><polygon points="328.6,310.6 337.4,310.6 333,302" fill="#000"/><text x="0" y="0" font-size="7.6" text-anchor="start" fill="#333" transform="translate(339.40 306.30) translate(0 2.95) scale(1.0 1.130)">EAS</text><polygon points="364.8,302 373.6,302 369.2,310.6" fill="#000"/><text x="0" y="0" font-size="7.6" text-anchor="start" fill="#333" transform="translate(375.50 306.30) translate(0 2.95) scale(1.0 1.130)">AFR</text><text x="0" y="0" font-size="10.6" text-anchor="start" fill="#000" font-weight="bold" transform="translate(450.50 5.85) translate(0 3.65) scale(0.9 1.000)">C</text><line x1="473.5" y1="35.3" x2="487.1" y2="35.3" stroke="#1b9e77" stroke-width="1.1"/><text x="0" y="0" font-size="7.4" text-anchor="start" fill="#333" transform="translate(493.60 35.90) translate(0 2.88) scale(1.0 1.130)">Cluster0</text><line x1="473.5" y1="44.3" x2="487.1" y2="44.3" stroke="#d95f02" stroke-width="1.1"/><text x="0" y="0" font-size="7.4" text-anchor="start" fill="#333" transform="translate(493.60 44.90) translate(0 2.88) scale(1.0 1.130)">Cluster1</text><line x1="473.5" y1="53.3" x2="487.1" y2="53.3" stroke="#7570b3" stroke-width="1.1"/><text x="0" y="0" font-size="7.4" text-anchor="start" fill="#333" transform="translate(493.60 53.90) translate(0 2.88) scale(1.0 1.130)">Cluster2</text><line x1="473.5" y1="62.3" x2="487.1" y2="62.3" stroke="#e7298a" stroke-width="1.1"/><text x="0" y="0" font-size="7.4" text-anchor="start" fill="#333" transform="translate(493.60 62.90) translate(0 2.88) scale(1.0 1.130)">Cluster3</text><rect x="655.4000000000001" y="28.099999999999998" width="3.6" height="3.6" fill="none" stroke="#111" stroke-width="1.25"/><circle cx="657.2" cy="38.8" r="1.7" fill="none" stroke="#111" stroke-width="1.2"/><polygon points="655.3000000000001,48.099999999999994 659.1,48.099999999999994 657.2,44.9" fill="none" stroke="#111" stroke-width="1.15"/><path d="M654.8000000000001,56.2h4.8M657.2,53.7v5" stroke="#111" stroke-width="1.25"/><path d="M655.6,63.99999999999999l3.2,3.2M658.8000000000001,63.99999999999999l-3.2,3.2" stroke="#111" stroke-width="1.25"/><text x="0" y="0" font-size="7.4" text-anchor="start" fill="#333" transform="translate(663.80 29.90) translate(0 2.88) scale(1.0 1.130)">AFR</text><text x="0" y="0" font-size="7.4" text-anchor="start" fill="#333" transform="translate(663.80 38.90) translate(0 2.88) scale(1.0 1.130)">EAS</text><text x="0" y="0" font-size="7.4" text-anchor="start" fill="#333" transform="translate(663.80 47.50) translate(0 2.88) scale(1.0 1.130)">EUR</text><text x="0" y="0" font-size="7.4" text-anchor="start" fill="#333" transform="translate(663.80 55.90) translate(0 2.88) scale(1.0 1.130)">SAS</text><text x="0" y="0" font-size="7.4" text-anchor="start" fill="#333" transform="translate(663.80 64.90) translate(0 2.88) scale(1.0 1.130)">AMR</text><line x1="465.80" y1="231.2" x2="561.90" y2="130.80" stroke="#ead5de" stroke-width="0.7"/><line x1="486.50" y1="231.2" x2="582.60" y2="130.80" stroke="#ead5de" stroke-width="0.7"/><line x1="507.20" y1="231.2" x2="603.30" y2="130.80" stroke="#ead5de" stroke-width="0.7"/><line x1="527.90" y1="231.2" x2="624.00" y2="130.80" stroke="#ead5de" stroke-width="0.7"/><line x1="548.60" y1="231.2" x2="644.70" y2="130.80" stroke="#ead5de" stroke-width="0.7"/><line x1="569.30" y1="231.2" x2="665.40" y2="130.80" stroke="#ead5de" stroke-width="0.7"/><line x1="590.00" y1="231.2" x2="686.10" y2="130.80" stroke="#ead5de" stroke-width="0.7"/><line x1="465.80" y1="231.20" x2="590.00" y2="231.20" stroke="#ead5de" stroke-width="0.7"/><line x1="485.02" y1="211.12" x2="609.22" y2="211.12" stroke="#ead5de" stroke-width="0.7"/><line x1="504.24" y1="191.04" x2="628.44" y2="191.04" stroke="#ead5de" stroke-width="0.7"/><line x1="523.46" y1="170.96" x2="647.66" y2="170.96" stroke="#ead5de" stroke-width="0.7"/><line x1="542.68" y1="150.88" x2="666.88" y2="150.88" stroke="#ead5de" stroke-width="0.7"/><line x1="561.90" y1="130.80" x2="686.10" y2="130.80" stroke="#ead5de" stroke-width="0.7"/><line x1="466.3" y1="118.7" x2="466.3" y2="230.9" stroke="#4a79a8" stroke-width="1.1"/><line x1="464.90000000000003" y1="118.70" x2="467.7" y2="118.70" stroke="#4a79a8" stroke-width="0.9"/><text x="0" y="0" font-size="6.0" text-anchor="middle" fill="#444" transform="translate(457.00 118.70) rotate(-90) translate(0 1.86) scale(1.0 0.900)">0.06</text><line x1="464.90000000000003" y1="137.40" x2="467.7" y2="137.40" stroke="#4a79a8" stroke-width="0.9"/><text x="0" y="0" font-size="6.0" text-anchor="middle" fill="#444" transform="translate(457.00 137.40) rotate(-90) translate(0 1.86) scale(1.0 0.900)">0.04</text><line x1="464.90000000000003" y1="156.10" x2="467.7" y2="156.10" stroke="#4a79a8" stroke-width="0.9"/><text x="0" y="0" font-size="6.0" text-anchor="middle" fill="#444" transform="translate(457.00 156.10) rotate(-90) translate(0 1.86) scale(1.0 0.900)">0.02</text><line x1="464.90000000000003" y1="174.80" x2="467.7" y2="174.80" stroke="#4a79a8" stroke-width="0.9"/><text x="0" y="0" font-size="6.0" text-anchor="middle" fill="#444" transform="translate(457.00 174.80) rotate(-90) translate(0 1.86) scale(1.0 0.900)">0.00</text><line x1="464.90000000000003" y1="193.50" x2="467.7" y2="193.50" stroke="#4a79a8" stroke-width="0.9"/><text x="0" y="0" font-size="6.75" text-anchor="middle" fill="#111" font-weight="bold" transform="translate(457.00 193.50) rotate(-90) translate(0 2.09) scale(1.0 0.900)">-0.02</text><line x1="464.90000000000003" y1="212.20" x2="467.7" y2="212.20" stroke="#4a79a8" stroke-width="0.9"/><text x="0" y="0" font-size="6.75" text-anchor="middle" fill="#111" font-weight="bold" transform="translate(457.00 212.20) rotate(-90) translate(0 2.09) scale(1.0 0.900)">-0.04</text><line x1="464.90000000000003" y1="230.90" x2="467.7" y2="230.90" stroke="#4a79a8" stroke-width="0.9"/><text x="0" y="0" font-size="6.75" text-anchor="middle" fill="#111" font-weight="bold" transform="translate(457.00 230.90) rotate(-90) translate(0 2.09) scale(1.0 0.900)">-0.06</text><text x="0" y="0" font-size="7.8" text-anchor="middle" fill="#333" transform="translate(440.00 170.20) rotate(-90) translate(0 2.60) scale(1.0 0.970)">PC3</text><line x1="465.8" y1="231.2" x2="590.00" y2="231.2" stroke="#4a79a8" stroke-width="1.1"/><line x1="465.80" y1="229.89999999999998" x2="465.80" y2="232.5" stroke="#4a79a8" stroke-width="0.9"/><text x="0" y="0" font-size="6.4" text-anchor="middle" fill="#111" font-weight="bold" transform="translate(465.80 240.30) translate(0 2.20) scale(1.0 1.000)">-0.04</text><line x1="486.50" y1="229.89999999999998" x2="486.50" y2="232.5" stroke="#4a79a8" stroke-width="0.9"/><text x="0" y="0" font-size="6.4" text-anchor="middle" fill="#111" font-weight="bold" transform="translate(486.50 240.30) translate(0 2.20) scale(1.0 1.000)">-0.03</text><line x1="507.20" y1="229.89999999999998" x2="507.20" y2="232.5" stroke="#4a79a8" stroke-width="0.9"/><text x="0" y="0" font-size="6.4" text-anchor="middle" fill="#111" font-weight="bold" transform="translate(507.20 240.30) translate(0 2.20) scale(1.0 1.000)">-0.02</text><line x1="527.90" y1="229.89999999999998" x2="527.90" y2="232.5" stroke="#4a79a8" stroke-width="0.9"/><text x="0" y="0" font-size="6.4" text-anchor="middle" fill="#111" font-weight="bold" transform="translate(527.90 240.30) translate(0 2.20) scale(1.0 1.000)">-0.01</text><line x1="548.60" y1="229.89999999999998" x2="548.60" y2="232.5" stroke="#4a79a8" stroke-width="0.9"/><text x="0" y="0" font-size="5.9" text-anchor="middle" fill="#555" transform="translate(548.60 240.30) translate(0 2.03) scale(1.0 1.000)">0.00</text><line x1="569.30" y1="229.89999999999998" x2="569.30" y2="232.5" stroke="#4a79a8" stroke-width="0.9"/><text x="0" y="0" font-size="5.9" text-anchor="middle" fill="#555" transform="translate(569.30 240.30) translate(0 2.03) scale(1.0 1.000)">0.01</text><line x1="590.00" y1="229.89999999999998" x2="590.00" y2="232.5" stroke="#4a79a8" stroke-width="0.9"/><text x="0" y="0" font-size="5.9" text-anchor="middle" fill="#555" transform="translate(590.00 240.30) translate(0 2.03) scale(1.0 1.000)">0.02</text><text x="0" y="0" font-size="7.1" text-anchor="middle" fill="#333" transform="translate(527.60 257.00) translate(0 2.76) scale(1.0 1.130)">PC1</text><line x1="590.00" y1="231.2" x2="686.10" y2="130.80" stroke="#4a79a8" stroke-width="1.1"/><circle cx="590.00" cy="231.20" r="0.9" fill="#4a79a8"/><text x="0" y="0" font-size="6.4" text-anchor="start" fill="#111" font-weight="bold" transform="translate(599.60 231.20) translate(0 2.20) scale(1.0 1.000)">-0.04</text><circle cx="609.22" cy="211.12" r="0.9" fill="#4a79a8"/><text x="0" y="0" font-size="6.4" text-anchor="start" fill="#111" font-weight="bold" transform="translate(618.82 211.12) translate(0 2.20) scale(1.0 1.000)">-0.02</text><circle cx="628.44" cy="191.04" r="0.9" fill="#4a79a8"/><text x="0" y="0" font-size="5.7" text-anchor="start" fill="#555" transform="translate(638.94 191.04) translate(0 1.96) scale(1.0 1.000)">0.00</text><circle cx="647.66" cy="170.96" r="0.9" fill="#4a79a8"/><text x="0" y="0" font-size="5.7" text-anchor="start" fill="#555" transform="translate(658.16 170.96) translate(0 1.96) scale(1.0 1.000)">0.02</text><circle cx="666.88" cy="150.88" r="0.9" fill="#4a79a8"/><text x="0" y="0" font-size="5.7" text-anchor="start" fill="#555" transform="translate(677.38 150.88) translate(0 1.96) scale(1.0 1.000)">0.04</text><circle cx="686.10" cy="130.80" r="0.9" fill="#4a79a8"/><text x="0" y="0" font-size="5.7" text-anchor="start" fill="#555" transform="translate(696.60 130.80) translate(0 1.96) scale(1.0 1.000)">0.06</text><text x="0" y="0" font-size="7.6" text-anchor="middle" fill="#333" transform="translate(675.60 185.80) rotate(-47) translate(0 2.61) scale(1.0 1.000)">PC2</text><path d="M510.94,130.27h3.30v3.30h-3.30ZM525.52,128.97h3.30v3.30h-3.30ZM510.74,136.89h3.30v3.30h-3.30ZM508.68,132.78h3.30v3.30h-3.30ZM510.94,125.96h3.30v3.30h-3.30ZM517.09,134.63h3.30v3.30h-3.30ZM517.40,128.73h3.30v3.30h-3.30ZM516.66,130.52h3.30v3.30h-3.30ZM511.93,123.72h3.30v3.30h-3.30ZM519.93,127.55h3.30v3.30h-3.30ZM522.79,127.78h3.30v3.30h-3.30ZM528.39,126.66h3.30v3.30h-3.30ZM517.35,126.96h3.30v3.30h-3.30ZM519.59,126.32h3.30v3.30h-3.30ZM522.63,128.61h3.30v3.30h-3.30ZM523.49,126.50h3.30v3.30h-3.30ZM517.87,131.16h3.30v3.30h-3.30ZM523.73,132.83h3.30v3.30h-3.30ZM517.26,122.90h3.30v3.30h-3.30ZM510.18,123.97h3.30v3.30h-3.30ZM511.78,124.61h3.30v3.30h-3.30ZM522.46,127.37h3.30v3.30h-3.30ZM527.96,125.50h3.30v3.30h-3.30ZM513.16,124.60h3.30v3.30h-3.30ZM510.90,133.35h3.30v3.30h-3.30ZM520.60,125.80h3.30v3.30h-3.30ZM525.78,133.24h3.30v3.30h-3.30ZM517.25,132.05h3.30v3.30h-3.30ZM522.34,129.12h3.30v3.30h-3.30ZM509.72,127.78h3.30v3.30h-3.30ZM528.81,127.94h3.30v3.30h-3.30ZM524.97,136.54h3.30v3.30h-3.30ZM516.01,127.92h3.30v3.30h-3.30ZM519.13,125.82h3.30v3.30h-3.30ZM512.36,123.65h3.30v3.30h-3.30ZM523.02,130.32h3.30v3.30h-3.30ZM527.20,137.95h3.30v3.30h-3.30ZM527.20,132.19h3.30v3.30h-3.30ZM521.52,129.04h3.30v3.30h-3.30ZM517.16,123.95h3.30v3.30h-3.30ZM519.92,126.21h3.30v3.30h-3.30ZM510.39,136.65h3.30v3.30h-3.30ZM520.51,136.75h3.30v3.30h-3.30ZM514.24,131.50h3.30v3.30h-3.30ZM513.86,135.95h3.30v3.30h-3.30ZM512.34,132.75h3.30v3.30h-3.30ZM520.07,127.10h3.30v3.30h-3.30ZM509.46,129.92h3.30v3.30h-3.30ZM519.36,135.73h3.30v3.30h-3.30ZM512.21,124.64h3.30v3.30h-3.30ZM514.50,135.46h3.30v3.30h-3.30ZM512.86,132.50h3.30v3.30h-3.30ZM523.50,130.10h3.30v3.30h-3.30ZM510.19,129.68h3.30v3.30h-3.30ZM528.69,128.25h3.30v3.30h-3.30ZM520.12,128.76h3.30v3.30h-3.30ZM527.40,131.55h3.30v3.30h-3.30ZM515.43,126.38h3.30v3.30h-3.30ZM526.46,128.03h3.30v3.30h-3.30ZM521.15,131.08h3.30v3.30h-3.30ZM512.15,121.98h3.30v3.30h-3.30ZM524.10,124.25h3.30v3.30h-3.30ZM508.16,124.27h3.30v3.30h-3.30ZM522.28,132.13h3.30v3.30h-3.30ZM529.82,132.96h3.30v3.30h-3.30ZM529.08,129.96h3.30v3.30h-3.30ZM526.33,129.74h3.30v3.30h-3.30ZM512.52,128.51h3.30v3.30h-3.30ZM509.35,131.58h3.30v3.30h-3.30ZM512.57,133.69h3.30v3.30h-3.30ZM511.55,133.48h3.30v3.30h-3.30ZM521.47,133.87h3.30v3.30h-3.30ZM528.91,126.57h3.30v3.30h-3.30ZM522.93,128.36h3.30v3.30h-3.30ZM527.65,135.86h3.30v3.30h-3.30ZM524.73,131.91h3.30v3.30h-3.30ZM513.52,137.30h3.30v3.30h-3.30ZM515.23,135.80h3.30v3.30h-3.30ZM522.84,136.11h3.30v3.30h-3.30ZM525.59,129.36h3.30v3.30h-3.30ZM516.50,135.34h3.30v3.30h-3.30ZM522.30,130.85h3.30v3.30h-3.30ZM507.97,129.54h3.30v3.30h-3.30ZM509.85,136.15h3.30v3.30h-3.30ZM509.64,136.85h3.30v3.30h-3.30ZM512.70,123.74h3.30v3.30h-3.30ZM524.51,133.27h3.30v3.30h-3.30ZM516.84,131.84h3.30v3.30h-3.30ZM520.03,138.02h3.30v3.30h-3.30ZM519.01,130.85h3.30v3.30h-3.30ZM517.99,128.61h3.30v3.30h-3.30ZM523.09,123.35h3.30v3.30h-3.30ZM523.14,137.67h3.30v3.30h-3.30ZM524.68,130.91h3.30v3.30h-3.30ZM515.57,123.11h3.30v3.30h-3.30ZM509.73,130.85h3.30v3.30h-3.30ZM527.34,136.57h3.30v3.30h-3.30ZM511.77,134.52h3.30v3.30h-3.30ZM525.71,129.81h3.30v3.30h-3.30ZM526.85,124.67h3.30v3.30h-3.30ZM515.17,130.41h3.30v3.30h-3.30ZM523.91,129.26h3.30v3.30h-3.30ZM514.42,136.59h3.30v3.30h-3.30ZM516.43,128.75h3.30v3.30h-3.30ZM512.67,129.86h3.30v3.30h-3.30ZM523.45,127.73h3.30v3.30h-3.30ZM522.47,130.04h3.30v3.30h-3.30ZM514.11,130.96h3.30v3.30h-3.30ZM529.10,125.02h3.30v3.30h-3.30ZM509.10,125.00h3.30v3.30h-3.30ZM511.09,136.31h3.30v3.30h-3.30ZM513.74,130.35h3.30v3.30h-3.30ZM511.57,126.76h3.30v3.30h-3.30ZM527.88,129.19h3.30v3.30h-3.30ZM512.88,131.87h3.30v3.30h-3.30ZM510.19,130.51h3.30v3.30h-3.30ZM519.93,126.82h3.30v3.30h-3.30ZM524.31,132.19h3.30v3.30h-3.30ZM527.99,132.04h3.30v3.30h-3.30ZM511.76,124.65h3.30v3.30h-3.30ZM523.40,135.60h3.30v3.30h-3.30ZM509.07,128.70h3.30v3.30h-3.30ZM513.99,129.59h3.30v3.30h-3.30ZM527.17,131.20h3.30v3.30h-3.30ZM524.30,134.80h3.30v3.30h-3.30ZM513.88,132.24h3.30v3.30h-3.30ZM516.05,129.71h3.30v3.30h-3.30ZM519.52,133.08h3.30v3.30h-3.30ZM511.43,136.09h3.30v3.30h-3.30ZM511.27,126.88h3.30v3.30h-3.30ZM515.87,138.08h3.30v3.30h-3.30ZM512.16,122.01h3.30v3.30h-3.30ZM524.70,124.22h3.30v3.30h-3.30ZM510.44,127.66h3.30v3.30h-3.30ZM509.56,129.65h3.30v3.30h-3.30ZM515.40,134.34h3.30v3.30h-3.30ZM518.68,138.31h3.30v3.30h-3.30ZM526.52,124.40h3.30v3.30h-3.30ZM528.17,137.08h3.30v3.30h-3.30ZM520.30,130.63h3.30v3.30h-3.30ZM511.47,127.02h3.30v3.30h-3.30ZM512.59,124.83h3.30v3.30h-3.30ZM521.39,127.08h3.30v3.30h-3.30ZM524.82,131.44h3.30v3.30h-3.30ZM526.60,130.29h3.30v3.30h-3.30ZM521.80,125.57h3.30v3.30h-3.30ZM523.22,128.51h3.30v3.30h-3.30ZM523.79,131.63h3.30v3.30h-3.30ZM510.80,126.67h3.30v3.30h-3.30ZM521.79,130.95h3.30v3.30h-3.30ZM523.64,127.16h3.30v3.30h-3.30ZM518.33,129.75h3.30v3.30h-3.30ZM519.07,125.95h3.30v3.30h-3.30ZM520.84,125.94h3.30v3.30h-3.30ZM512.28,125.45h3.30v3.30h-3.30ZM527.67,127.77h3.30v3.30h-3.30ZM527.34,134.28h3.30v3.30h-3.30ZM513.68,131.10h3.30v3.30h-3.30ZM521.77,123.37h3.30v3.30h-3.30ZM519.27,130.07h3.30v3.30h-3.30ZM522.66,126.47h3.30v3.30h-3.30ZM528.00,132.31h3.30v3.30h-3.30ZM509.30,135.74h3.30v3.30h-3.30ZM527.44,126.73h3.30v3.30h-3.30ZM523.57,136.47h3.30v3.30h-3.30ZM526.37,125.75h3.30v3.30h-3.30ZM525.59,133.43h3.30v3.30h-3.30ZM518.08,137.20h3.30v3.30h-3.30ZM529.09,131.44h3.30v3.30h-3.30ZM524.09,133.14h3.30v3.30h-3.30ZM516.61,130.14h3.30v3.30h-3.30ZM519.02,125.18h3.30v3.30h-3.30ZM513.50,136.20h3.30v3.30h-3.30ZM526.58,133.62h3.30v3.30h-3.30ZM523.06,130.33h3.30v3.30h-3.30ZM520.48,133.07h3.30v3.30h-3.30ZM507.84,129.17h3.30v3.30h-3.30ZM529.34,125.00h3.30v3.30h-3.30ZM518.12,122.75h3.30v3.30h-3.30ZM513.37,135.84h3.30v3.30h-3.30ZM508.40,135.39h3.30v3.30h-3.30ZM525.50,136.61h3.30v3.30h-3.30ZM513.42,137.72h3.30v3.30h-3.30ZM515.98,129.29h3.30v3.30h-3.30ZM528.91,130.94h3.30v3.30h-3.30ZM522.88,123.33h3.30v3.30h-3.30ZM507.78,126.03h3.30v3.30h-3.30ZM510.03,135.83h3.30v3.30h-3.30ZM522.83,124.76h3.30v3.30h-3.30ZM523.55,126.97h3.30v3.30h-3.30ZM519.45,122.73h3.30v3.30h-3.30ZM526.28,135.19h3.30v3.30h-3.30ZM520.65,133.50h3.30v3.30h-3.30ZM515.27,123.63h3.30v3.30h-3.30ZM514.94,134.36h3.30v3.30h-3.30ZM520.25,123.76h3.30v3.30h-3.30ZM513.05,129.72h3.30v3.30h-3.30ZM517.72,123.74h3.30v3.30h-3.30ZM524.41,135.32h3.30v3.30h-3.30ZM514.72,130.89h3.30v3.30h-3.30ZM529.84,132.21h3.30v3.30h-3.30ZM514.60,128.78h3.30v3.30h-3.30ZM514.72,132.82h3.30v3.30h-3.30ZM527.39,133.47h3.30v3.30h-3.30ZM523.82,130.27h3.30v3.30h-3.30ZM521.03,135.17h3.30v3.30h-3.30ZM525.02,133.19h3.30v3.30h-3.30ZM509.07,129.78h3.30v3.30h-3.30ZM513.68,132.05h3.30v3.30h-3.30ZM516.54,129.38h3.30v3.30h-3.30ZM545.33,136.55h3.30v3.30h-3.30ZM537.66,128.80h3.30v3.30h-3.30ZM531.60,130.05h3.30v3.30h-3.30ZM537.05,134.33h3.30v3.30h-3.30ZM533.25,131.60h3.30v3.30h-3.30ZM532.31,127.61h3.30v3.30h-3.30ZM553.09,141.44h3.30v3.30h-3.30ZM532.41,137.66h3.30v3.30h-3.30ZM533.91,138.04h3.30v3.30h-3.30ZM555.04,137.36h3.30v3.30h-3.30ZM549.79,137.18h3.30v3.30h-3.30ZM552.36,135.14h3.30v3.30h-3.30ZM546.86,134.70h3.30v3.30h-3.30ZM551.66,135.49h3.30v3.30h-3.30ZM537.75,135.16h3.30v3.30h-3.30ZM544.46,136.45h3.30v3.30h-3.30ZM546.54,134.09h3.30v3.30h-3.30ZM544.50,138.46h3.30v3.30h-3.30ZM552.50,138.30h3.30v3.30h-3.30ZM533.14,130.24h3.30v3.30h-3.30ZM538.79,132.06h3.30v3.30h-3.30ZM543.97,130.91h3.30v3.30h-3.30ZM540.47,138.69h3.30v3.30h-3.30ZM541.76,131.98h3.30v3.30h-3.30ZM543.17,139.23h3.30v3.30h-3.30ZM555.71,142.84h3.30v3.30h-3.30ZM535.50,131.79h3.30v3.30h-3.30ZM534.82,134.40h3.30v3.30h-3.30ZM533.50,137.79h3.30v3.30h-3.30ZM541.63,130.00h3.30v3.30h-3.30ZM551.62,142.10h3.30v3.30h-3.30ZM538.22,130.33h3.30v3.30h-3.30ZM537.91,133.38h3.30v3.30h-3.30ZM557.95,139.59h3.30v3.30h-3.30ZM553.32,139.63h3.30v3.30h-3.30ZM534.89,129.89h3.30v3.30h-3.30ZM530.80,135.84h3.30v3.30h-3.30ZM532.02,128.88h3.30v3.30h-3.30ZM533.75,132.58h3.30v3.30h-3.30ZM552.64,135.70h3.30v3.30h-3.30ZM530.89,127.17h3.30v3.30h-3.30ZM550.73,134.99h3.30v3.30h-3.30ZM537.79,129.32h3.30v3.30h-3.30ZM554.44,138.75h3.30v3.30h-3.30ZM534.17,139.18h3.30v3.30h-3.30ZM530.79,134.21h3.30v3.30h-3.30ZM537.15,139.92h3.30v3.30h-3.30ZM550.59,138.38h3.30v3.30h-3.30ZM548.30,138.58h3.30v3.30h-3.30ZM544.78,137.75h3.30v3.30h-3.30ZM556.63,137.72h3.30v3.30h-3.30ZM544.68,140.00h3.30v3.30h-3.30ZM545.60,133.20h3.30v3.30h-3.30ZM539.42,132.82h3.30v3.30h-3.30ZM536.10,131.25h3.30v3.30h-3.30ZM551.42,142.24h3.30v3.30h-3.30ZM533.31,135.15h3.30v3.30h-3.30ZM551.34,140.24h3.30v3.30h-3.30ZM532.95,136.20h3.30v3.30h-3.30ZM548.98,139.75h3.30v3.30h-3.30ZM546.25,139.70h3.30v3.30h-3.30ZM546.58,136.72h3.30v3.30h-3.30ZM535.18,127.02h3.30v3.30h-3.30ZM550.20,139.19h3.30v3.30h-3.30ZM543.84,139.99h3.30v3.30h-3.30ZM530.04,137.25h3.30v3.30h-3.30ZM541.86,138.07h3.30v3.30h-3.30ZM544.50,140.51h3.30v3.30h-3.30ZM535.74,128.06h3.30v3.30h-3.30ZM536.05,133.30h3.30v3.30h-3.30ZM542.09,137.87h3.30v3.30h-3.30ZM530.32,127.80h3.30v3.30h-3.30ZM538.39,135.35h3.30v3.30h-3.30ZM532.88,138.24h3.30v3.30h-3.30ZM543.60,132.41h3.30v3.30h-3.30ZM534.91,126.70h3.30v3.30h-3.30ZM545.38,132.13h3.30v3.30h-3.30ZM558.13,138.82h3.30v3.30h-3.30ZM542.38,135.36h3.30v3.30h-3.30ZM540.69,136.08h3.30v3.30h-3.30ZM532.28,133.33h3.30v3.30h-3.30ZM544.40,139.71h3.30v3.30h-3.30ZM553.32,139.38h3.30v3.30h-3.30ZM540.76,138.91h3.30v3.30h-3.30ZM535.47,137.10h3.30v3.30h-3.30ZM530.12,128.96h3.30v3.30h-3.30ZM534.76,132.02h3.30v3.30h-3.30ZM557.34,143.46h3.30v3.30h-3.30ZM547.56,141.38h3.30v3.30h-3.30ZM552.40,137.69h3.30v3.30h-3.30ZM532.09,135.30h3.30v3.30h-3.30ZM547.32,138.44h3.30v3.30h-3.30ZM534.88,136.15h3.30v3.30h-3.30ZM553.54,143.68h3.30v3.30h-3.30ZM549.26,133.71h3.30v3.30h-3.30ZM541.84,134.23h3.30v3.30h-3.30ZM533.29,126.70h3.30v3.30h-3.30ZM537.81,128.60h3.30v3.30h-3.30ZM555.16,136.06h3.30v3.30h-3.30ZM555.82,142.45h3.30v3.30h-3.30ZM550.38,133.86h3.30v3.30h-3.30ZM536.76,136.08h3.30v3.30h-3.30ZM530.90,137.47h3.30v3.30h-3.30ZM539.54,133.32h3.30v3.30h-3.30ZM544.98,136.07h3.30v3.30h-3.30ZM543.80,139.88h3.30v3.30h-3.30ZM556.51,137.22h3.30v3.30h-3.30ZM549.90,135.79h3.30v3.30h-3.30ZM533.48,134.07h3.30v3.30h-3.30ZM531.48,128.73h3.30v3.30h-3.30ZM549.65,116.65h3.30v3.30h-3.30ZM536.35,119.25h3.30v3.30h-3.30ZM533.75,121.95h3.30v3.30h-3.30ZM540.75,125.45h3.30v3.30h-3.30ZM551.35,128.95h3.30v3.30h-3.30ZM555.85,131.65h3.30v3.30h-3.30ZM515.15,120.65h3.30v3.30h-3.30ZM544.35,122.35h3.30v3.30h-3.30ZM526.35,118.85h3.30v3.30h-3.30Z" fill="none" stroke="#7570b3" stroke-width="0.9" stroke-opacity="1.0"/><path d="M556.65,145.75h3.30v3.30h-3.30ZM560.25,147.55h3.30v3.30h-3.30ZM564.15,148.95h3.30v3.30h-3.30Z" fill="none" stroke="#e7298a" stroke-width="0.9" stroke-opacity="1.0"/><path d="M576.49,126.40l3.00,3.00M579.49,126.40l-3.00,3.00M592.70,119.19l3.00,3.00M595.70,119.19l-3.00,3.00M600.48,117.13l3.00,3.00M603.48,117.13l-3.00,3.00M620.02,84.22l3.00,3.00M623.02,84.22l-3.00,3.00M600.45,113.16l3.00,3.00M603.45,113.16l-3.00,3.00M595.71,116.83l3.00,3.00M598.71,116.83l-3.00,3.00M578.99,138.99l3.00,3.00M581.99,138.99l-3.00,3.00M583.85,115.21l3.00,3.00M586.85,115.21l-3.00,3.00M587.96,142.27l3.00,3.00M590.96,142.27l-3.00,3.00M590.37,147.18l3.00,3.00M593.37,147.18l-3.00,3.00M578.84,132.17l3.00,3.00M581.84,132.17l-3.00,3.00M576.83,153.90l3.00,3.00M579.83,153.90l-3.00,3.00M583.79,128.23l3.00,3.00M586.79,128.23l-3.00,3.00M590.64,131.71l3.00,3.00M593.64,131.71l-3.00,3.00M625.88,78.39l3.00,3.00M628.88,78.39l-3.00,3.00M578.91,153.51l3.00,3.00M581.91,153.51l-3.00,3.00M576.70,153.66l3.00,3.00M579.70,153.66l-3.00,3.00M580.09,122.27l3.00,3.00M583.09,122.27l-3.00,3.00M597.42,112.98l3.00,3.00M600.42,112.98l-3.00,3.00M597.16,104.89l3.00,3.00M600.16,104.89l-3.00,3.00M589.71,135.39l3.00,3.00M592.71,135.39l-3.00,3.00M613.10,101.75l3.00,3.00M616.10,101.75l-3.00,3.00M580.95,152.67l3.00,3.00M583.95,152.67l-3.00,3.00M594.14,119.64l3.00,3.00M597.14,119.64l-3.00,3.00M576.50,128.46l3.00,3.00M579.50,128.46l-3.00,3.00M579.63,144.95l3.00,3.00M582.63,144.95l-3.00,3.00M576.38,120.56l3.00,3.00M579.38,120.56l-3.00,3.00M592.16,126.33l3.00,3.00M595.16,126.33l-3.00,3.00M593.68,119.43l3.00,3.00M596.68,119.43l-3.00,3.00M594.96,130.30l3.00,3.00M597.96,130.30l-3.00,3.00M581.74,158.41l3.00,3.00M584.74,158.41l-3.00,3.00M594.58,123.34l3.00,3.00M597.58,123.34l-3.00,3.00M578.18,158.55l3.00,3.00M581.18,158.55l-3.00,3.00M591.89,130.07l3.00,3.00M594.89,130.07l-3.00,3.00M582.83,115.89l3.00,3.00M585.83,115.89l-3.00,3.00M588.20,122.76l3.00,3.00M591.20,122.76l-3.00,3.00M577.80,130.68l3.00,3.00M580.80,130.68l-3.00,3.00M620.38,93.91l3.00,3.00M623.38,93.91l-3.00,3.00M598.41,116.98l3.00,3.00M601.41,116.98l-3.00,3.00M589.46,123.91l3.00,3.00M592.46,123.91l-3.00,3.00M593.35,136.77l3.00,3.00M596.35,136.77l-3.00,3.00M596.52,129.52l3.00,3.00M599.52,129.52l-3.00,3.00M580.50,126.70l3.00,3.00M583.50,126.70l-3.00,3.00M607.63,105.63l3.00,3.00M610.63,105.63l-3.00,3.00M591.43,144.06l3.00,3.00M594.43,144.06l-3.00,3.00M596.91,112.21l3.00,3.00M599.91,112.21l-3.00,3.00M590.42,136.55l3.00,3.00M593.42,136.55l-3.00,3.00M602.69,107.50l3.00,3.00M605.69,107.50l-3.00,3.00M593.15,141.63l3.00,3.00M596.15,141.63l-3.00,3.00M599.70,122.52l3.00,3.00M602.70,122.52l-3.00,3.00M599.58,115.85l3.00,3.00M602.58,115.85l-3.00,3.00M591.76,141.00l3.00,3.00M594.76,141.00l-3.00,3.00M594.02,132.15l3.00,3.00M597.02,132.15l-3.00,3.00M597.23,126.20l3.00,3.00M600.23,126.20l-3.00,3.00M600.90,118.43l3.00,3.00M603.90,118.43l-3.00,3.00M593.38,116.27l3.00,3.00M596.38,116.27l-3.00,3.00M623.62,89.38l3.00,3.00M626.62,89.38l-3.00,3.00M614.25,100.01l3.00,3.00M617.25,100.01l-3.00,3.00M593.31,110.27l3.00,3.00M596.31,110.27l-3.00,3.00M576.53,159.35l3.00,3.00M579.53,159.35l-3.00,3.00M594.37,117.11l3.00,3.00M597.37,117.11l-3.00,3.00M598.00,129.27l3.00,3.00M601.00,129.27l-3.00,3.00M593.00,123.66l3.00,3.00M596.00,123.66l-3.00,3.00M583.42,120.78l3.00,3.00M586.42,120.78l-3.00,3.00M607.39,109.19l3.00,3.00M610.39,109.19l-3.00,3.00M580.48,146.86l3.00,3.00M583.48,146.86l-3.00,3.00M588.03,119.68l3.00,3.00M591.03,119.68l-3.00,3.00M608.71,104.58l3.00,3.00M611.71,104.58l-3.00,3.00M575.59,124.05l3.00,3.00M578.59,124.05l-3.00,3.00M575.83,131.72l3.00,3.00M578.83,131.72l-3.00,3.00M576.80,153.86l3.00,3.00M579.80,153.86l-3.00,3.00M589.88,109.06l3.00,3.00M592.88,109.06l-3.00,3.00M592.30,111.42l3.00,3.00M595.30,111.42l-3.00,3.00M592.87,142.13l3.00,3.00M595.87,142.13l-3.00,3.00M583.59,115.24l3.00,3.00M586.59,115.24l-3.00,3.00M588.94,123.92l3.00,3.00M591.94,123.92l-3.00,3.00M584.01,146.91l3.00,3.00M587.01,146.91l-3.00,3.00M589.90,116.09l3.00,3.00M592.90,116.09l-3.00,3.00M576.05,133.60l3.00,3.00M579.05,133.60l-3.00,3.00M600.57,105.23l3.00,3.00M603.57,105.23l-3.00,3.00M577.46,121.87l3.00,3.00M580.46,121.87l-3.00,3.00M578.66,133.17l3.00,3.00M581.66,133.17l-3.00,3.00M587.21,117.60l3.00,3.00M590.21,117.60l-3.00,3.00M582.26,128.91l3.00,3.00M585.26,128.91l-3.00,3.00M603.17,113.33l3.00,3.00M606.17,113.33l-3.00,3.00M582.42,114.04l3.00,3.00M585.42,114.04l-3.00,3.00M582.25,137.43l3.00,3.00M585.25,137.43l-3.00,3.00M577.15,157.27l3.00,3.00M580.15,157.27l-3.00,3.00M577.83,130.10l3.00,3.00M580.83,130.10l-3.00,3.00M597.40,118.19l3.00,3.00M600.40,118.19l-3.00,3.00M588.93,145.98l3.00,3.00M591.93,145.98l-3.00,3.00M576.91,120.98l3.00,3.00M579.91,120.98l-3.00,3.00M579.06,147.16l3.00,3.00M582.06,147.16l-3.00,3.00M574.46,131.37l3.00,3.00M577.46,131.37l-3.00,3.00M580.11,155.62l3.00,3.00M583.11,155.62l-3.00,3.00M582.52,129.36l3.00,3.00M585.52,129.36l-3.00,3.00M588.65,115.97l3.00,3.00M591.65,115.97l-3.00,3.00M608.89,103.99l3.00,3.00M611.89,103.99l-3.00,3.00M597.97,120.29l3.00,3.00M600.97,120.29l-3.00,3.00M623.24,78.02l3.00,3.00M626.24,78.02l-3.00,3.00M579.67,130.88l3.00,3.00M582.67,130.88l-3.00,3.00M584.07,139.02l3.00,3.00M587.07,139.02l-3.00,3.00M593.85,134.75l3.00,3.00M596.85,134.75l-3.00,3.00M613.52,92.45l3.00,3.00M616.52,92.45l-3.00,3.00M625.14,83.32l3.00,3.00M628.14,83.32l-3.00,3.00M584.21,128.14l3.00,3.00M587.21,128.14l-3.00,3.00M583.44,115.18l3.00,3.00M586.44,115.18l-3.00,3.00M622.00,78.66l3.00,3.00M625.00,78.66l-3.00,3.00M599.71,118.32l3.00,3.00M602.71,118.32l-3.00,3.00M579.07,146.66l3.00,3.00M582.07,146.66l-3.00,3.00M577.67,145.51l3.00,3.00M580.67,145.51l-3.00,3.00M615.36,91.07l3.00,3.00M618.36,91.07l-3.00,3.00M590.82,118.99l3.00,3.00M593.82,118.99l-3.00,3.00M580.62,132.05l3.00,3.00M583.62,132.05l-3.00,3.00M580.40,151.58l3.00,3.00M583.40,151.58l-3.00,3.00M593.65,137.67l3.00,3.00M596.65,137.67l-3.00,3.00M583.20,113.86l3.00,3.00M586.20,113.86l-3.00,3.00M592.54,127.16l3.00,3.00M595.54,127.16l-3.00,3.00M578.48,125.65l3.00,3.00M581.48,125.65l-3.00,3.00M590.76,139.19l3.00,3.00M593.76,139.19l-3.00,3.00M581.60,139.99l3.00,3.00M584.60,139.99l-3.00,3.00M586.74,133.52l3.00,3.00M589.74,133.52l-3.00,3.00M598.61,124.69l3.00,3.00M601.61,124.69l-3.00,3.00M575.80,123.19l3.00,3.00M578.80,123.19l-3.00,3.00M607.61,108.19l3.00,3.00M610.61,108.19l-3.00,3.00M582.04,147.33l3.00,3.00M585.04,147.33l-3.00,3.00M580.69,125.45l3.00,3.00M583.69,125.45l-3.00,3.00M594.13,132.05l3.00,3.00M597.13,132.05l-3.00,3.00M615.52,98.04l3.00,3.00M618.52,98.04l-3.00,3.00M591.40,119.21l3.00,3.00M594.40,119.21l-3.00,3.00M620.12,82.63l3.00,3.00M623.12,82.63l-3.00,3.00M606.10,109.16l3.00,3.00M609.10,109.16l-3.00,3.00M594.35,109.06l3.00,3.00M597.35,109.06l-3.00,3.00M596.97,125.78l3.00,3.00M599.97,125.78l-3.00,3.00M589.12,150.01l3.00,3.00M592.12,150.01l-3.00,3.00M595.57,109.98l3.00,3.00M598.57,109.98l-3.00,3.00M612.52,98.64l3.00,3.00M615.52,98.64l-3.00,3.00M592.89,117.50l3.00,3.00M595.89,117.50l-3.00,3.00M594.69,122.31l3.00,3.00M597.69,122.31l-3.00,3.00M621.76,79.73l3.00,3.00M624.76,79.73l-3.00,3.00M623.50,82.28l3.00,3.00M626.50,82.28l-3.00,3.00M595.90,128.03l3.00,3.00M598.90,128.03l-3.00,3.00M591.15,133.56l3.00,3.00M594.15,133.56l-3.00,3.00M579.24,129.21l3.00,3.00M582.24,129.21l-3.00,3.00M591.45,133.85l3.00,3.00M594.45,133.85l-3.00,3.00M588.11,136.45l3.00,3.00M591.11,136.45l-3.00,3.00M618.08,96.18l3.00,3.00M621.08,96.18l-3.00,3.00M585.76,138.56l3.00,3.00M588.76,138.56l-3.00,3.00M595.43,120.07l3.00,3.00M598.43,120.07l-3.00,3.00M581.48,124.10l3.00,3.00M584.48,124.10l-3.00,3.00M582.67,131.59l3.00,3.00M585.67,131.59l-3.00,3.00M627.21,83.25l3.00,3.00M630.21,83.25l-3.00,3.00M593.40,116.34l3.00,3.00M596.40,116.34l-3.00,3.00M623.32,82.80l3.00,3.00M626.32,82.80l-3.00,3.00M594.86,129.14l3.00,3.00M597.86,129.14l-3.00,3.00M575.41,129.94l3.00,3.00M578.41,129.94l-3.00,3.00M587.73,119.77l3.00,3.00M590.73,119.77l-3.00,3.00M592.36,121.72l3.00,3.00M595.36,121.72l-3.00,3.00M599.07,105.59l3.00,3.00M602.07,105.59l-3.00,3.00M592.11,121.57l3.00,3.00M595.11,121.57l-3.00,3.00M609.17,100.28l3.00,3.00M612.17,100.28l-3.00,3.00M597.31,117.23l3.00,3.00M600.31,117.23l-3.00,3.00M587.08,126.48l3.00,3.00M590.08,126.48l-3.00,3.00M592.83,126.41l3.00,3.00M595.83,126.41l-3.00,3.00M622.92,78.17l3.00,3.00M625.92,78.17l-3.00,3.00M591.03,114.87l3.00,3.00M594.03,114.87l-3.00,3.00M588.46,138.28l3.00,3.00M591.46,138.28l-3.00,3.00M574.55,124.64l3.00,3.00M577.55,124.64l-3.00,3.00M592.70,116.82l3.00,3.00M595.70,116.82l-3.00,3.00M580.44,117.65l3.00,3.00M583.44,117.65l-3.00,3.00M621.63,89.99l3.00,3.00M624.63,89.99l-3.00,3.00M597.50,114.33l3.00,3.00M600.50,114.33l-3.00,3.00M622.46,86.59l3.00,3.00M625.46,86.59l-3.00,3.00M580.04,124.98l3.00,3.00M583.04,124.98l-3.00,3.00M586.53,112.00l3.00,3.00M589.53,112.00l-3.00,3.00M584.28,136.50l3.00,3.00M587.28,136.50l-3.00,3.00M576.56,134.72l3.00,3.00M579.56,134.72l-3.00,3.00M601.59,113.31l3.00,3.00M604.59,113.31l-3.00,3.00M580.93,156.07l3.00,3.00M583.93,156.07l-3.00,3.00M581.79,116.55l3.00,3.00M584.79,116.55l-3.00,3.00M600.38,107.48l3.00,3.00M603.38,107.48l-3.00,3.00M588.93,145.60l3.00,3.00M591.93,145.60l-3.00,3.00M586.16,136.56l3.00,3.00M589.16,136.56l-3.00,3.00M624.53,87.80l3.00,3.00M627.53,87.80l-3.00,3.00M595.04,138.83l3.00,3.00M598.04,138.83l-3.00,3.00M589.65,112.76l3.00,3.00M592.65,112.76l-3.00,3.00M591.76,128.29l3.00,3.00M594.76,128.29l-3.00,3.00M602.31,115.47l3.00,3.00M605.31,115.47l-3.00,3.00M580.14,135.88l3.00,3.00M583.14,135.88l-3.00,3.00M592.25,111.49l3.00,3.00M595.25,111.49l-3.00,3.00M605.42,110.31l3.00,3.00M608.42,110.31l-3.00,3.00M578.89,122.82l3.00,3.00M581.89,122.82l-3.00,3.00M616.19,96.03l3.00,3.00M619.19,96.03l-3.00,3.00M590.23,121.87l3.00,3.00M593.23,121.87l-3.00,3.00M614.33,89.44l3.00,3.00M617.33,89.44l-3.00,3.00M593.59,124.90l3.00,3.00M596.59,124.90l-3.00,3.00M581.26,126.60l3.00,3.00M584.26,126.60l-3.00,3.00M585.08,137.20l3.00,3.00M588.08,137.20l-3.00,3.00M607.30,106.71l3.00,3.00M610.30,106.71l-3.00,3.00M586.34,137.19l3.00,3.00M589.34,137.19l-3.00,3.00M574.20,126.83l3.00,3.00M577.20,126.83l-3.00,3.00M595.82,135.28l3.00,3.00M598.82,135.28l-3.00,3.00M587.53,115.32l3.00,3.00M590.53,115.32l-3.00,3.00M593.72,120.72l3.00,3.00M596.72,120.72l-3.00,3.00M580.39,130.15l3.00,3.00M583.39,130.15l-3.00,3.00M603.47,105.91l3.00,3.00M606.47,105.91l-3.00,3.00M612.72,93.04l3.00,3.00M615.72,93.04l-3.00,3.00M580.90,140.93l3.00,3.00M583.90,140.93l-3.00,3.00M583.40,143.05l3.00,3.00M586.40,143.05l-3.00,3.00M580.90,134.10l3.00,3.00M583.90,134.10l-3.00,3.00M593.76,122.59l3.00,3.00M596.76,122.59l-3.00,3.00M582.21,139.79l3.00,3.00M585.21,139.79l-3.00,3.00M596.59,111.74l3.00,3.00M599.59,111.74l-3.00,3.00M624.30,86.20l3.00,3.00M627.30,86.20l-3.00,3.00M587.55,128.63l3.00,3.00M590.55,128.63l-3.00,3.00M582.76,141.83l3.00,3.00M585.76,141.83l-3.00,3.00M580.39,123.27l3.00,3.00M583.39,123.27l-3.00,3.00M592.70,124.54l3.00,3.00M595.70,124.54l-3.00,3.00M585.42,114.18l3.00,3.00M588.42,114.18l-3.00,3.00M579.57,149.32l3.00,3.00M582.57,149.32l-3.00,3.00M596.83,120.70l3.00,3.00M599.83,120.70l-3.00,3.00M616.09,94.20l3.00,3.00M619.09,94.20l-3.00,3.00M583.78,147.49l3.00,3.00M586.78,147.49l-3.00,3.00M585.59,156.45l3.00,3.00M588.59,156.45l-3.00,3.00M603.01,104.38l3.00,3.00M606.01,104.38l-3.00,3.00M595.17,108.18l3.00,3.00M598.17,108.18l-3.00,3.00M583.86,134.49l3.00,3.00M586.86,134.49l-3.00,3.00M579.69,125.41l3.00,3.00M582.69,125.41l-3.00,3.00M591.90,121.54l3.00,3.00M594.90,121.54l-3.00,3.00M626.29,81.92l3.00,3.00M629.29,81.92l-3.00,3.00M588.40,149.48l3.00,3.00M591.40,149.48l-3.00,3.00M587.68,151.33l3.00,3.00M590.68,151.33l-3.00,3.00M579.71,145.46l3.00,3.00M582.71,145.46l-3.00,3.00M597.62,105.79l3.00,3.00M600.62,105.79l-3.00,3.00M604.87,101.20l3.00,3.00M607.87,101.20l-3.00,3.00M585.13,149.67l3.00,3.00M588.13,149.67l-3.00,3.00M585.17,146.35l3.00,3.00M588.17,146.35l-3.00,3.00M593.59,120.93l3.00,3.00M596.59,120.93l-3.00,3.00M598.21,121.00l3.00,3.00M601.21,121.00l-3.00,3.00M591.96,130.12l3.00,3.00M594.96,130.12l-3.00,3.00M593.82,109.98l3.00,3.00M596.82,109.98l-3.00,3.00M603.66,108.60l3.00,3.00M606.66,108.60l-3.00,3.00M602.19,118.24l3.00,3.00M605.19,118.24l-3.00,3.00M596.25,123.47l3.00,3.00M599.25,123.47l-3.00,3.00M579.53,139.22l3.00,3.00M582.53,139.22l-3.00,3.00M598.25,127.84l3.00,3.00M601.25,127.84l-3.00,3.00M627.93,84.35l3.00,3.00M630.93,84.35l-3.00,3.00M587.12,154.31l3.00,3.00M590.12,154.31l-3.00,3.00M597.20,132.71l3.00,3.00M600.20,132.71l-3.00,3.00M588.11,127.54l3.00,3.00M591.11,127.54l-3.00,3.00M622.83,82.65l3.00,3.00M625.83,82.65l-3.00,3.00M588.05,150.73l3.00,3.00M591.05,150.73l-3.00,3.00M605.77,108.52l3.00,3.00M608.77,108.52l-3.00,3.00M585.23,127.20l3.00,3.00M588.23,127.20l-3.00,3.00M589.13,109.72l3.00,3.00M592.13,109.72l-3.00,3.00M591.94,128.06l3.00,3.00M594.94,128.06l-3.00,3.00M590.12,116.70l3.00,3.00M593.12,116.70l-3.00,3.00M596.84,111.35l3.00,3.00M599.84,111.35l-3.00,3.00M587.38,115.50l3.00,3.00M590.38,115.50l-3.00,3.00M588.55,135.04l3.00,3.00M591.55,135.04l-3.00,3.00M595.09,115.56l3.00,3.00M598.09,115.56l-3.00,3.00M574.91,123.31l3.00,3.00M577.91,123.31l-3.00,3.00M590.44,124.23l3.00,3.00M593.44,124.23l-3.00,3.00M576.92,148.68l3.00,3.00M579.92,148.68l-3.00,3.00M610.21,99.84l3.00,3.00M613.21,99.84l-3.00,3.00M581.16,128.30l3.00,3.00M584.16,128.30l-3.00,3.00M586.10,152.07l3.00,3.00M589.10,152.07l-3.00,3.00M594.43,117.83l3.00,3.00M597.43,117.83l-3.00,3.00M579.09,152.37l3.00,3.00M582.09,152.37l-3.00,3.00M592.99,130.90l3.00,3.00M595.99,130.90l-3.00,3.00M584.00,116.13l3.00,3.00M587.00,116.13l-3.00,3.00M585.83,115.67l3.00,3.00M588.83,115.67l-3.00,3.00M586.69,138.00l3.00,3.00M589.69,138.00l-3.00,3.00M613.81,103.28l3.00,3.00M616.81,103.28l-3.00,3.00M589.74,137.96l3.00,3.00M592.74,137.96l-3.00,3.00M583.45,143.21l3.00,3.00M586.45,143.21l-3.00,3.00M601.20,108.13l3.00,3.00M604.20,108.13l-3.00,3.00M596.92,108.07l3.00,3.00M599.92,108.07l-3.00,3.00M587.01,132.22l3.00,3.00M590.01,132.22l-3.00,3.00M601.78,104.64l3.00,3.00M604.78,104.64l-3.00,3.00M592.12,130.09l3.00,3.00M595.12,130.09l-3.00,3.00M595.01,107.22l3.00,3.00M598.01,107.22l-3.00,3.00M594.56,108.84l3.00,3.00M597.56,108.84l-3.00,3.00M598.64,108.39l3.00,3.00M601.64,108.39l-3.00,3.00M599.40,129.28l3.00,3.00M602.40,129.28l-3.00,3.00M582.78,125.95l3.00,3.00M585.78,125.95l-3.00,3.00M592.30,131.47l3.00,3.00M595.30,131.47l-3.00,3.00M584.92,127.66l3.00,3.00M587.92,127.66l-3.00,3.00M593.47,120.55l3.00,3.00M596.47,120.55l-3.00,3.00M593.51,136.29l3.00,3.00M596.51,136.29l-3.00,3.00M600.07,111.74l3.00,3.00M603.07,111.74l-3.00,3.00M582.45,119.28l3.00,3.00M585.45,119.28l-3.00,3.00M594.40,108.48l3.00,3.00M597.40,108.48l-3.00,3.00M588.66,122.74l3.00,3.00M591.66,122.74l-3.00,3.00M579.25,143.90l3.00,3.00M582.25,143.90l-3.00,3.00M579.17,133.32l3.00,3.00M582.17,133.32l-3.00,3.00M582.91,134.86l3.00,3.00M585.91,134.86l-3.00,3.00M589.22,112.96l3.00,3.00M592.22,112.96l-3.00,3.00M594.55,131.49l3.00,3.00M597.55,131.49l-3.00,3.00M593.82,128.73l3.00,3.00M596.82,128.73l-3.00,3.00M589.04,118.50l3.00,3.00M592.04,118.50l-3.00,3.00M591.63,124.06l3.00,3.00M594.63,124.06l-3.00,3.00M579.22,127.87l3.00,3.00M582.22,127.87l-3.00,3.00M584.78,121.86l3.00,3.00M587.78,121.86l-3.00,3.00M587.85,129.33l3.00,3.00M590.85,129.33l-3.00,3.00M603.68,104.37l3.00,3.00M606.68,104.37l-3.00,3.00M589.17,117.88l3.00,3.00M592.17,117.88l-3.00,3.00M627.21,78.88l3.00,3.00M630.21,78.88l-3.00,3.00M614.67,101.91l3.00,3.00M617.67,101.91l-3.00,3.00M590.38,112.69l3.00,3.00M593.38,112.69l-3.00,3.00M623.58,81.19l3.00,3.00M626.58,81.19l-3.00,3.00M595.24,131.79l3.00,3.00M598.24,131.79l-3.00,3.00M584.64,157.02l3.00,3.00M587.64,157.02l-3.00,3.00M597.25,124.60l3.00,3.00M600.25,124.60l-3.00,3.00M595.89,117.97l3.00,3.00M598.89,117.97l-3.00,3.00M578.83,122.72l3.00,3.00M581.83,122.72l-3.00,3.00M585.32,125.49l3.00,3.00M588.32,125.49l-3.00,3.00M597.00,106.27l3.00,3.00M600.00,106.27l-3.00,3.00M613.26,93.63l3.00,3.00M616.26,93.63l-3.00,3.00M589.37,143.11l3.00,3.00M592.37,143.11l-3.00,3.00M581.04,147.44l3.00,3.00M584.04,147.44l-3.00,3.00M613.01,95.09l3.00,3.00M616.01,95.09l-3.00,3.00M596.88,132.93l3.00,3.00M599.88,132.93l-3.00,3.00M577.29,151.73l3.00,3.00M580.29,151.73l-3.00,3.00M580.50,151.64l3.00,3.00M583.50,151.64l-3.00,3.00M601.64,118.49l3.00,3.00M604.64,118.49l-3.00,3.00M583.32,116.17l3.00,3.00M586.32,116.17l-3.00,3.00M623.38,85.60l3.00,3.00M626.38,85.60l-3.00,3.00M580.79,146.55l3.00,3.00M583.79,146.55l-3.00,3.00M588.44,127.43l3.00,3.00M591.44,127.43l-3.00,3.00M576.90,148.82l3.00,3.00M579.90,148.82l-3.00,3.00M578.78,119.31l3.00,3.00M581.78,119.31l-3.00,3.00M592.56,117.26l3.00,3.00M595.56,117.26l-3.00,3.00M622.88,86.60l3.00,3.00M625.88,86.60l-3.00,3.00M598.12,124.30l3.00,3.00M601.12,124.30l-3.00,3.00M591.67,144.64l3.00,3.00M594.67,144.64l-3.00,3.00M613.89,102.13l3.00,3.00M616.89,102.13l-3.00,3.00M587.86,135.36l3.00,3.00M590.86,135.36l-3.00,3.00M582.68,130.77l3.00,3.00M585.68,130.77l-3.00,3.00M579.32,116.74l3.00,3.00M582.32,116.74l-3.00,3.00M580.93,149.86l3.00,3.00M583.93,149.86l-3.00,3.00M586.63,147.12l3.00,3.00M589.63,147.12l-3.00,3.00M589.82,131.27l3.00,3.00M592.82,131.27l-3.00,3.00M583.84,118.77l3.00,3.00M586.84,118.77l-3.00,3.00M586.46,146.66l3.00,3.00M589.46,146.66l-3.00,3.00M583.27,140.07l3.00,3.00M586.27,140.07l-3.00,3.00M610.77,96.28l3.00,3.00M613.77,96.28l-3.00,3.00M576.51,138.18l3.00,3.00M579.51,138.18l-3.00,3.00M582.72,138.52l3.00,3.00M585.72,138.52l-3.00,3.00M588.67,142.97l3.00,3.00M591.67,142.97l-3.00,3.00M588.74,119.36l3.00,3.00M591.74,119.36l-3.00,3.00M616.46,100.59l3.00,3.00M619.46,100.59l-3.00,3.00M584.86,156.32l3.00,3.00M587.86,156.32l-3.00,3.00M583.38,150.83l3.00,3.00M586.38,150.83l-3.00,3.00M591.83,128.10l3.00,3.00M594.83,128.10l-3.00,3.00M587.38,136.40l3.00,3.00M590.38,136.40l-3.00,3.00M588.90,110.47l3.00,3.00M591.90,110.47l-3.00,3.00M584.94,140.21l3.00,3.00M587.94,140.21l-3.00,3.00M618.02,94.24l3.00,3.00M621.02,94.24l-3.00,3.00M592.72,125.87l3.00,3.00M595.72,125.87l-3.00,3.00M587.62,142.60l3.00,3.00M590.62,142.60l-3.00,3.00M584.95,112.18l3.00,3.00M587.95,112.18l-3.00,3.00M611.15,93.19l3.00,3.00M614.15,93.19l-3.00,3.00M589.39,122.60l3.00,3.00M592.39,122.60l-3.00,3.00M619.17,97.26l3.00,3.00M622.17,97.26l-3.00,3.00M583.83,124.91l3.00,3.00M586.83,124.91l-3.00,3.00M621.13,80.42l3.00,3.00M624.13,80.42l-3.00,3.00M579.54,135.46l3.00,3.00M582.54,135.46l-3.00,3.00M623.46,77.39l3.00,3.00M626.46,77.39l-3.00,3.00M585.56,119.32l3.00,3.00M588.56,119.32l-3.00,3.00M587.96,116.25l3.00,3.00M590.96,116.25l-3.00,3.00M604.85,103.98l3.00,3.00M607.85,103.98l-3.00,3.00M600.03,112.90l3.00,3.00M603.03,112.90l-3.00,3.00M595.70,138.06l3.00,3.00M598.70,138.06l-3.00,3.00M599.89,110.63l3.00,3.00M602.89,110.63l-3.00,3.00M584.41,115.28l3.00,3.00M587.41,115.28l-3.00,3.00M579.50,141.40l3.00,3.00M582.50,141.40l-3.00,3.00M595.36,134.43l3.00,3.00M598.36,134.43l-3.00,3.00M615.91,91.73l3.00,3.00M618.91,91.73l-3.00,3.00M601.79,108.54l3.00,3.00M604.79,108.54l-3.00,3.00M597.98,105.84l3.00,3.00M600.98,105.84l-3.00,3.00M580.07,125.72l3.00,3.00M583.07,125.72l-3.00,3.00M620.99,87.45l3.00,3.00M623.99,87.45l-3.00,3.00M587.45,151.18l3.00,3.00M590.45,151.18l-3.00,3.00M597.35,109.73l3.00,3.00M600.35,109.73l-3.00,3.00M589.97,110.08l3.00,3.00M592.97,110.08l-3.00,3.00M594.44,113.75l3.00,3.00M597.44,113.75l-3.00,3.00M577.37,145.71l3.00,3.00M580.37,145.71l-3.00,3.00M591.01,109.90l3.00,3.00M594.01,109.90l-3.00,3.00M592.26,143.68l3.00,3.00M595.26,143.68l-3.00,3.00M594.30,112.93l3.00,3.00M597.30,112.93l-3.00,3.00M581.36,142.37l3.00,3.00M584.36,142.37l-3.00,3.00M609.94,99.71l3.00,3.00M612.94,99.71l-3.00,3.00M582.23,129.24l3.00,3.00M585.23,129.24l-3.00,3.00M586.37,131.22l3.00,3.00M589.37,131.22l-3.00,3.00M583.16,150.93l3.00,3.00M586.16,150.93l-3.00,3.00M585.71,150.50l3.00,3.00M588.71,150.50l-3.00,3.00M586.31,125.66l3.00,3.00M589.31,125.66l-3.00,3.00M584.06,117.81l3.00,3.00M587.06,117.81l-3.00,3.00M597.75,133.50l3.00,3.00M600.75,133.50l-3.00,3.00M593.57,132.36l3.00,3.00M596.57,132.36l-3.00,3.00M586.51,114.33l3.00,3.00M589.51,114.33l-3.00,3.00M587.39,143.31l3.00,3.00M590.39,143.31l-3.00,3.00M588.69,123.60l3.00,3.00M591.69,123.60l-3.00,3.00M588.50,151.32l3.00,3.00M591.50,151.32l-3.00,3.00M589.15,132.89l3.00,3.00M592.15,132.89l-3.00,3.00M595.17,133.17l3.00,3.00M598.17,133.17l-3.00,3.00M586.56,148.13l3.00,3.00M589.56,148.13l-3.00,3.00M600.26,106.17l3.00,3.00M603.26,106.17l-3.00,3.00M619.48,87.37l3.00,3.00M622.48,87.37l-3.00,3.00M577.83,137.87l3.00,3.00M580.83,137.87l-3.00,3.00M575.97,134.65l3.00,3.00M578.97,134.65l-3.00,3.00M617.24,89.48l3.00,3.00M620.24,89.48l-3.00,3.00M577.55,158.54l3.00,3.00M580.55,158.54l-3.00,3.00M583.55,130.85l3.00,3.00M586.55,130.85l-3.00,3.00M600.06,120.84l3.00,3.00M603.06,120.84l-3.00,3.00M578.12,146.39l3.00,3.00M581.12,146.39l-3.00,3.00M599.25,122.22l3.00,3.00M602.25,122.22l-3.00,3.00M583.01,153.08l3.00,3.00M586.01,153.08l-3.00,3.00M581.31,142.10l3.00,3.00M584.31,142.10l-3.00,3.00M596.23,130.76l3.00,3.00M599.23,130.76l-3.00,3.00M605.29,109.49l3.00,3.00M608.29,109.49l-3.00,3.00M605.80,108.91l3.00,3.00M608.80,108.91l-3.00,3.00M602.88,116.54l3.00,3.00M605.88,116.54l-3.00,3.00M589.49,110.10l3.00,3.00M592.49,110.10l-3.00,3.00M626.08,85.82l3.00,3.00M629.08,85.82l-3.00,3.00M598.75,113.73l3.00,3.00M601.75,113.73l-3.00,3.00M600.93,114.93l3.00,3.00M603.93,114.93l-3.00,3.00M578.92,125.75l3.00,3.00M581.92,125.75l-3.00,3.00M585.38,119.91l3.00,3.00M588.38,119.91l-3.00,3.00M585.62,144.19l3.00,3.00M588.62,144.19l-3.00,3.00M624.56,78.29l3.00,3.00M627.56,78.29l-3.00,3.00M582.44,116.83l3.00,3.00M585.44,116.83l-3.00,3.00M620.23,95.32l3.00,3.00M623.23,95.32l-3.00,3.00M608.58,99.98l3.00,3.00M611.58,99.98l-3.00,3.00M579.58,138.45l3.00,3.00M582.58,138.45l-3.00,3.00M580.11,154.61l3.00,3.00M583.11,154.61l-3.00,3.00M584.34,116.83l3.00,3.00M587.34,116.83l-3.00,3.00M594.85,139.62l3.00,3.00M597.85,139.62l-3.00,3.00M614.55,91.93l3.00,3.00M617.55,91.93l-3.00,3.00M588.90,113.73l3.00,3.00M591.90,113.73l-3.00,3.00M584.84,141.87l3.00,3.00M587.84,141.87l-3.00,3.00M595.92,137.95l3.00,3.00M598.92,137.95l-3.00,3.00M584.94,122.19l3.00,3.00M587.94,122.19l-3.00,3.00M582.68,114.25l3.00,3.00M585.68,114.25l-3.00,3.00M598.03,106.56l3.00,3.00M601.03,106.56l-3.00,3.00M590.96,119.49l3.00,3.00M593.96,119.49l-3.00,3.00M601.93,103.74l3.00,3.00M604.93,103.74l-3.00,3.00M607.38,104.36l3.00,3.00M610.38,104.36l-3.00,3.00M592.29,135.94l3.00,3.00M595.29,135.94l-3.00,3.00M595.20,119.67l3.00,3.00M598.20,119.67l-3.00,3.00M585.85,128.29l3.00,3.00M588.85,128.29l-3.00,3.00M587.92,134.73l3.00,3.00M590.92,134.73l-3.00,3.00M579.65,126.27l3.00,3.00M582.65,126.27l-3.00,3.00M608.20,96.62l3.00,3.00M611.20,96.62l-3.00,3.00M592.32,130.06l3.00,3.00M595.32,130.06l-3.00,3.00M583.81,123.83l3.00,3.00M586.81,123.83l-3.00,3.00M600.58,119.57l3.00,3.00M603.58,119.57l-3.00,3.00M590.71,132.07l3.00,3.00M593.71,132.07l-3.00,3.00M610.88,96.38l3.00,3.00M613.88,96.38l-3.00,3.00M578.24,151.65l3.00,3.00M581.24,151.65l-3.00,3.00M583.58,119.80l3.00,3.00M586.58,119.80l-3.00,3.00M622.15,92.31l3.00,3.00M625.15,92.31l-3.00,3.00M591.27,143.86l3.00,3.00M594.27,143.86l-3.00,3.00M598.69,104.95l3.00,3.00M601.69,104.95l-3.00,3.00M576.17,139.20l3.00,3.00M579.17,139.20l-3.00,3.00M620.63,94.59l3.00,3.00M623.63,94.59l-3.00,3.00M589.77,119.48l3.00,3.00M592.77,119.48l-3.00,3.00M592.63,114.51l3.00,3.00M595.63,114.51l-3.00,3.00M591.16,115.69l3.00,3.00M594.16,115.69l-3.00,3.00M579.51,124.75l3.00,3.00M582.51,124.75l-3.00,3.00M589.68,120.13l3.00,3.00M592.68,120.13l-3.00,3.00M596.78,123.19l3.00,3.00M599.78,123.19l-3.00,3.00M576.83,126.92l3.00,3.00M579.83,126.92l-3.00,3.00M593.86,121.93l3.00,3.00M596.86,121.93l-3.00,3.00M606.65,107.20l3.00,3.00M609.65,107.20l-3.00,3.00M592.61,130.56l3.00,3.00M595.61,130.56l-3.00,3.00M597.93,112.09l3.00,3.00M600.93,112.09l-3.00,3.00M583.99,130.08l3.00,3.00M586.99,130.08l-3.00,3.00M609.44,104.29l3.00,3.00M612.44,104.29l-3.00,3.00M617.28,85.25l3.00,3.00M620.28,85.25l-3.00,3.00M578.43,148.99l3.00,3.00M581.43,148.99l-3.00,3.00M597.62,111.62l3.00,3.00M600.62,111.62l-3.00,3.00M586.42,150.02l3.00,3.00M589.42,150.02l-3.00,3.00M585.59,150.18l3.00,3.00M588.59,150.18l-3.00,3.00M591.69,143.61l3.00,3.00M594.69,143.61l-3.00,3.00M605.10,105.14l3.00,3.00M608.10,105.14l-3.00,3.00M590.77,145.00l3.00,3.00M593.77,145.00l-3.00,3.00M593.97,108.02l3.00,3.00M596.97,108.02l-3.00,3.00M578.03,149.06l3.00,3.00M581.03,149.06l-3.00,3.00M583.36,138.17l3.00,3.00M586.36,138.17l-3.00,3.00M594.62,137.41l3.00,3.00M597.62,137.41l-3.00,3.00M575.26,134.80l3.00,3.00M578.26,134.80l-3.00,3.00M609.08,102.75l3.00,3.00M612.08,102.75l-3.00,3.00M599.21,121.29l3.00,3.00M602.21,121.29l-3.00,3.00M596.55,112.40l3.00,3.00M599.55,112.40l-3.00,3.00M585.53,117.17l3.00,3.00M588.53,117.17l-3.00,3.00M599.94,102.52l3.00,3.00M602.94,102.52l-3.00,3.00M582.92,151.52l3.00,3.00M585.92,151.52l-3.00,3.00M600.85,117.11l3.00,3.00M603.85,117.11l-3.00,3.00M576.73,130.68l3.00,3.00M579.73,130.68l-3.00,3.00M584.38,133.89l3.00,3.00M587.38,133.89l-3.00,3.00M598.81,110.55l3.00,3.00M601.81,110.55l-3.00,3.00M576.68,135.07l3.00,3.00M579.68,135.07l-3.00,3.00M595.35,118.41l3.00,3.00M598.35,118.41l-3.00,3.00M581.17,137.77l3.00,3.00M584.17,137.77l-3.00,3.00M621.51,79.67l3.00,3.00M624.51,79.67l-3.00,3.00M581.62,135.76l3.00,3.00M584.62,135.76l-3.00,3.00M620.38,87.62l3.00,3.00M623.38,87.62l-3.00,3.00M624.72,78.61l3.00,3.00M627.72,78.61l-3.00,3.00M585.23,149.82l3.00,3.00M588.23,149.82l-3.00,3.00M625.27,87.15l3.00,3.00M628.27,87.15l-3.00,3.00M585.80,112.09l3.00,3.00M588.80,112.09l-3.00,3.00M587.64,137.51l3.00,3.00M590.64,137.51l-3.00,3.00M591.13,124.09l3.00,3.00M594.13,124.09l-3.00,3.00M590.66,121.39l3.00,3.00M593.66,121.39l-3.00,3.00M586.15,138.66l3.00,3.00M589.15,138.66l-3.00,3.00M585.76,114.96l3.00,3.00M588.76,114.96l-3.00,3.00M574.11,127.03l3.00,3.00M577.11,127.03l-3.00,3.00M585.03,135.36l3.00,3.00M588.03,135.36l-3.00,3.00M603.03,110.56l3.00,3.00M606.03,110.56l-3.00,3.00M581.94,154.34l3.00,3.00M584.94,154.34l-3.00,3.00M576.06,132.39l3.00,3.00M579.06,132.39l-3.00,3.00M595.43,108.33l3.00,3.00M598.43,108.33l-3.00,3.00M580.96,130.14l3.00,3.00M583.96,130.14l-3.00,3.00M601.95,111.23l3.00,3.00M604.95,111.23l-3.00,3.00M593.02,140.17l3.00,3.00M596.02,140.17l-3.00,3.00M580.12,128.03l3.00,3.00M583.12,128.03l-3.00,3.00M589.62,148.34l3.00,3.00M592.62,148.34l-3.00,3.00M588.34,115.81l3.00,3.00M591.34,115.81l-3.00,3.00M578.56,140.39l3.00,3.00M581.56,140.39l-3.00,3.00M598.96,119.30l3.00,3.00M601.96,119.30l-3.00,3.00M576.81,147.64l3.00,3.00M579.81,147.64l-3.00,3.00M597.14,136.07l3.00,3.00M600.14,136.07l-3.00,3.00M577.28,130.82l3.00,3.00M580.28,130.82l-3.00,3.00M576.98,138.65l3.00,3.00M579.98,138.65l-3.00,3.00M618.45,83.10l3.00,3.00M621.45,83.10l-3.00,3.00M584.10,159.32l3.00,3.00M587.10,159.32l-3.00,3.00M587.96,112.96l3.00,3.00M590.96,112.96l-3.00,3.00M605.61,107.26l3.00,3.00M608.61,107.26l-3.00,3.00M606.27,106.85l3.00,3.00M609.27,106.85l-3.00,3.00M623.76,86.14l3.00,3.00M626.76,86.14l-3.00,3.00M588.97,132.16l3.00,3.00M591.97,132.16l-3.00,3.00M617.98,91.92l3.00,3.00M620.98,91.92l-3.00,3.00M598.97,121.81l3.00,3.00M601.97,121.81l-3.00,3.00M605.65,108.86l3.00,3.00M608.65,108.86l-3.00,3.00M581.99,154.60l3.00,3.00M584.99,154.60l-3.00,3.00M583.18,128.12l3.00,3.00M586.18,128.12l-3.00,3.00M605.11,103.46l3.00,3.00M608.11,103.46l-3.00,3.00M599.02,109.96l3.00,3.00M602.02,109.96l-3.00,3.00M585.72,131.69l3.00,3.00M588.72,131.69l-3.00,3.00M621.33,85.21l3.00,3.00M624.33,85.21l-3.00,3.00M600.15,114.14l3.00,3.00M603.15,114.14l-3.00,3.00M579.18,129.98l3.00,3.00M582.18,129.98l-3.00,3.00M596.89,129.62l3.00,3.00M599.89,129.62l-3.00,3.00M579.47,131.39l3.00,3.00M582.47,131.39l-3.00,3.00M593.90,127.56l3.00,3.00M596.90,127.56l-3.00,3.00M619.70,90.57l3.00,3.00M622.70,90.57l-3.00,3.00M595.45,127.09l3.00,3.00M598.45,127.09l-3.00,3.00M589.77,146.76l3.00,3.00M592.77,146.76l-3.00,3.00M617.97,87.64l3.00,3.00M620.97,87.64l-3.00,3.00M577.17,146.14l3.00,3.00M580.17,146.14l-3.00,3.00M610.42,94.96l3.00,3.00M613.42,94.96l-3.00,3.00M623.15,88.99l3.00,3.00M626.15,88.99l-3.00,3.00M594.25,136.31l3.00,3.00M597.25,136.31l-3.00,3.00M587.34,124.21l3.00,3.00M590.34,124.21l-3.00,3.00M611.76,102.89l3.00,3.00M614.76,102.89l-3.00,3.00M596.15,124.05l3.00,3.00M599.15,124.05l-3.00,3.00M579.26,154.24l3.00,3.00M582.26,154.24l-3.00,3.00M597.66,131.04l3.00,3.00M600.66,131.04l-3.00,3.00M583.98,130.41l3.00,3.00M586.98,130.41l-3.00,3.00M578.15,119.30l3.00,3.00M581.15,119.30l-3.00,3.00M576.88,125.53l3.00,3.00M579.88,125.53l-3.00,3.00M587.31,117.27l3.00,3.00M590.31,117.27l-3.00,3.00M590.05,142.73l3.00,3.00M593.05,142.73l-3.00,3.00M589.56,147.82l3.00,3.00M592.56,147.82l-3.00,3.00M586.59,117.94l3.00,3.00M589.59,117.94l-3.00,3.00M575.05,123.60l3.00,3.00M578.05,123.60l-3.00,3.00M579.71,134.33l3.00,3.00M582.71,134.33l-3.00,3.00M597.03,118.14l3.00,3.00M600.03,118.14l-3.00,3.00M579.53,133.64l3.00,3.00M582.53,133.64l-3.00,3.00M591.42,143.84l3.00,3.00M594.42,143.84l-3.00,3.00M582.44,138.74l3.00,3.00M585.44,138.74l-3.00,3.00M596.40,121.28l3.00,3.00M599.40,121.28l-3.00,3.00M606.26,98.08l3.00,3.00M609.26,98.08l-3.00,3.00M593.62,109.71l3.00,3.00M596.62,109.71l-3.00,3.00M584.14,129.56l3.00,3.00M587.14,129.56l-3.00,3.00M592.76,118.57l3.00,3.00M595.76,118.57l-3.00,3.00M589.01,122.17l3.00,3.00M592.01,122.17l-3.00,3.00M584.67,116.62l3.00,3.00M587.67,116.62l-3.00,3.00M602.46,102.35l3.00,3.00M605.46,102.35l-3.00,3.00M579.12,149.22l3.00,3.00M582.12,149.22l-3.00,3.00M589.59,112.10l3.00,3.00M592.59,112.10l-3.00,3.00M584.94,141.80l3.00,3.00M587.94,141.80l-3.00,3.00M584.42,145.27l3.00,3.00M587.42,145.27l-3.00,3.00M602.25,116.31l3.00,3.00M605.25,116.31l-3.00,3.00M605.18,99.85l3.00,3.00M608.18,99.85l-3.00,3.00M577.12,143.56l3.00,3.00M580.12,143.56l-3.00,3.00M590.82,130.27l3.00,3.00M593.82,130.27l-3.00,3.00M574.97,130.93l3.00,3.00M577.97,130.93l-3.00,3.00M588.58,121.36l3.00,3.00M591.58,121.36l-3.00,3.00M585.34,112.88l3.00,3.00M588.34,112.88l-3.00,3.00M589.02,148.33l3.00,3.00M592.02,148.33l-3.00,3.00M593.32,128.33l3.00,3.00M596.32,128.33l-3.00,3.00M581.84,142.65l3.00,3.00M584.84,142.65l-3.00,3.00M590.30,134.62l3.00,3.00M593.30,134.62l-3.00,3.00M597.01,135.36l3.00,3.00M600.01,135.36l-3.00,3.00M584.52,114.02l3.00,3.00M587.52,114.02l-3.00,3.00M597.65,125.78l3.00,3.00M600.65,125.78l-3.00,3.00M585.27,145.31l3.00,3.00M588.27,145.31l-3.00,3.00M575.16,125.31l3.00,3.00M578.16,125.31l-3.00,3.00M616.15,86.18l3.00,3.00M619.15,86.18l-3.00,3.00M597.43,120.72l3.00,3.00M600.43,120.72l-3.00,3.00M579.34,123.47l3.00,3.00M582.34,123.47l-3.00,3.00M587.12,130.14l3.00,3.00M590.12,130.14l-3.00,3.00M625.88,86.11l3.00,3.00M628.88,86.11l-3.00,3.00M616.95,89.36l3.00,3.00M619.95,89.36l-3.00,3.00M610.67,93.17l3.00,3.00M613.67,93.17l-3.00,3.00M592.98,132.99l3.00,3.00M595.98,132.99l-3.00,3.00M584.69,155.86l3.00,3.00M587.69,155.86l-3.00,3.00M589.30,120.58l3.00,3.00M592.30,120.58l-3.00,3.00M625.47,89.42l3.00,3.00M628.47,89.42l-3.00,3.00M578.16,134.54l3.00,3.00M581.16,134.54l-3.00,3.00M592.88,136.87l3.00,3.00M595.88,136.87l-3.00,3.00M575.74,136.20l3.00,3.00M578.74,136.20l-3.00,3.00M595.58,137.93l3.00,3.00M598.58,137.93l-3.00,3.00M590.12,147.03l3.00,3.00M593.12,147.03l-3.00,3.00M604.14,107.99l3.00,3.00M607.14,107.99l-3.00,3.00M600.64,108.98l3.00,3.00M603.64,108.98l-3.00,3.00M587.65,149.92l3.00,3.00M590.65,149.92l-3.00,3.00M616.04,93.87l3.00,3.00M619.04,93.87l-3.00,3.00M617.61,91.37l3.00,3.00M620.61,91.37l-3.00,3.00M582.35,121.75l3.00,3.00M585.35,121.75l-3.00,3.00M577.16,150.44l3.00,3.00M580.16,150.44l-3.00,3.00M577.14,150.69l3.00,3.00M580.14,150.69l-3.00,3.00M586.10,134.93l3.00,3.00M589.10,134.93l-3.00,3.00M579.85,134.14l3.00,3.00M582.85,134.14l-3.00,3.00M593.73,137.29l3.00,3.00M596.73,137.29l-3.00,3.00M607.85,98.76l3.00,3.00M610.85,98.76l-3.00,3.00M596.16,109.31l3.00,3.00M599.16,109.31l-3.00,3.00M587.57,115.04l3.00,3.00M590.57,115.04l-3.00,3.00M585.25,132.11l3.00,3.00M588.25,132.11l-3.00,3.00M595.71,124.18l3.00,3.00M598.71,124.18l-3.00,3.00M595.82,117.88l3.00,3.00M598.82,117.88l-3.00,3.00M577.97,158.68l3.00,3.00M580.97,158.68l-3.00,3.00M579.64,123.58l3.00,3.00M582.64,123.58l-3.00,3.00M610.37,100.18l3.00,3.00M613.37,100.18l-3.00,3.00M580.35,124.18l3.00,3.00M583.35,124.18l-3.00,3.00M583.76,139.15l3.00,3.00M586.76,139.15l-3.00,3.00M598.84,104.47l3.00,3.00M601.84,104.47l-3.00,3.00M576.01,135.37l3.00,3.00M579.01,135.37l-3.00,3.00M580.86,154.06l3.00,3.00M583.86,154.06l-3.00,3.00M608.92,104.64l3.00,3.00M611.92,104.64l-3.00,3.00M577.66,143.94l3.00,3.00M580.66,143.94l-3.00,3.00M602.13,112.46l3.00,3.00M605.13,112.46l-3.00,3.00M576.76,142.60l3.00,3.00M579.76,142.60l-3.00,3.00M581.24,126.83l3.00,3.00M584.24,126.83l-3.00,3.00M599.37,128.75l3.00,3.00M602.37,128.75l-3.00,3.00M578.70,118.42l3.00,3.00M581.70,118.42l-3.00,3.00M577.26,136.75l3.00,3.00M580.26,136.75l-3.00,3.00M580.07,146.66l3.00,3.00M583.07,146.66l-3.00,3.00M578.64,143.58l3.00,3.00M581.64,143.58l-3.00,3.00M594.62,131.87l3.00,3.00M597.62,131.87l-3.00,3.00M597.69,109.50l3.00,3.00M600.69,109.50l-3.00,3.00M594.31,126.41l3.00,3.00M597.31,126.41l-3.00,3.00M626.16,76.78l3.00,3.00M629.16,76.78l-3.00,3.00M581.27,140.41l3.00,3.00M584.27,140.41l-3.00,3.00M625.92,81.08l3.00,3.00M628.92,81.08l-3.00,3.00M598.76,106.59l3.00,3.00M601.76,106.59l-3.00,3.00M583.50,141.29l3.00,3.00M586.50,141.29l-3.00,3.00M602.10,107.62l3.00,3.00M605.10,107.62l-3.00,3.00M587.07,143.86l3.00,3.00M590.07,143.86l-3.00,3.00M611.31,95.23l3.00,3.00M614.31,95.23l-3.00,3.00M625.59,79.12l3.00,3.00M628.59,79.12l-3.00,3.00M626.17,76.79l3.00,3.00M629.17,76.79l-3.00,3.00M607.22,100.22l3.00,3.00M610.22,100.22l-3.00,3.00M585.01,148.97l3.00,3.00M588.01,148.97l-3.00,3.00M579.34,128.63l3.00,3.00M582.34,128.63l-3.00,3.00M595.70,114.61l3.00,3.00M598.70,114.61l-3.00,3.00M585.56,123.14l3.00,3.00M588.56,123.14l-3.00,3.00M593.25,135.64l3.00,3.00M596.25,135.64l-3.00,3.00M587.73,117.24l3.00,3.00M590.73,117.24l-3.00,3.00M591.32,117.76l3.00,3.00M594.32,117.76l-3.00,3.00M578.04,150.40l3.00,3.00M581.04,150.40l-3.00,3.00M602.97,113.45l3.00,3.00M605.97,113.45l-3.00,3.00M614.78,94.31l3.00,3.00M617.78,94.31l-3.00,3.00M592.35,111.78l3.00,3.00M595.35,111.78l-3.00,3.00M591.66,142.84l3.00,3.00M594.66,142.84l-3.00,3.00M599.90,120.69l3.00,3.00M602.90,120.69l-3.00,3.00M584.01,112.67l3.00,3.00M587.01,112.67l-3.00,3.00M580.30,153.26l3.00,3.00M583.30,153.26l-3.00,3.00M583.65,130.83l3.00,3.00M586.65,130.83l-3.00,3.00M583.73,113.85l3.00,3.00M586.73,113.85l-3.00,3.00M589.55,124.71l3.00,3.00M592.55,124.71l-3.00,3.00M599.81,126.56l3.00,3.00M602.81,126.56l-3.00,3.00M626.70,83.34l3.00,3.00M629.70,83.34l-3.00,3.00M580.31,115.85l3.00,3.00M583.31,115.85l-3.00,3.00M594.29,135.35l3.00,3.00M597.29,135.35l-3.00,3.00M577.11,139.67l3.00,3.00M580.11,139.67l-3.00,3.00M601.50,120.47l3.00,3.00M604.50,120.47l-3.00,3.00M595.48,105.58l3.00,3.00M598.48,105.58l-3.00,3.00M624.21,80.63l3.00,3.00M627.21,80.63l-3.00,3.00M588.88,149.37l3.00,3.00M591.88,149.37l-3.00,3.00M599.35,120.34l3.00,3.00M602.35,120.34l-3.00,3.00M580.66,134.41l3.00,3.00M583.66,134.41l-3.00,3.00M594.75,136.75l3.00,3.00M597.75,136.75l-3.00,3.00M577.66,147.36l3.00,3.00M580.66,147.36l-3.00,3.00M593.66,124.03l3.00,3.00M596.66,124.03l-3.00,3.00M596.02,112.07l3.00,3.00M599.02,112.07l-3.00,3.00M584.28,146.06l3.00,3.00M587.28,146.06l-3.00,3.00M598.26,109.55l3.00,3.00M601.26,109.55l-3.00,3.00M582.63,122.89l3.00,3.00M585.63,122.89l-3.00,3.00M589.19,112.32l3.00,3.00M592.19,112.32l-3.00,3.00M587.37,114.57l3.00,3.00M590.37,114.57l-3.00,3.00M585.00,125.02l3.00,3.00M588.00,125.02l-3.00,3.00M579.34,148.45l3.00,3.00M582.34,148.45l-3.00,3.00M589.68,134.36l3.00,3.00M592.68,134.36l-3.00,3.00M586.70,148.15l3.00,3.00M589.70,148.15l-3.00,3.00M589.38,125.27l3.00,3.00M592.38,125.27l-3.00,3.00M595.67,133.34l3.00,3.00M598.67,133.34l-3.00,3.00M586.75,144.17l3.00,3.00M589.75,144.17l-3.00,3.00M580.45,131.69l3.00,3.00M583.45,131.69l-3.00,3.00M581.55,151.59l3.00,3.00M584.55,151.59l-3.00,3.00M596.48,127.69l3.00,3.00M599.48,127.69l-3.00,3.00M593.14,119.64l3.00,3.00M596.14,119.64l-3.00,3.00M586.71,147.24l3.00,3.00M589.71,147.24l-3.00,3.00M583.05,146.53l3.00,3.00M586.05,146.53l-3.00,3.00M598.11,115.91l3.00,3.00M601.11,115.91l-3.00,3.00M595.01,122.26l3.00,3.00M598.01,122.26l-3.00,3.00M583.41,125.41l3.00,3.00M586.41,125.41l-3.00,3.00M586.23,142.30l3.00,3.00M589.23,142.30l-3.00,3.00M597.14,117.45l3.00,3.00M600.14,117.45l-3.00,3.00M581.90,131.33l3.00,3.00M584.90,131.33l-3.00,3.00M586.43,135.10l3.00,3.00M589.43,135.10l-3.00,3.00M587.90,133.21l3.00,3.00M590.90,133.21l-3.00,3.00M597.79,113.25l3.00,3.00M600.79,113.25l-3.00,3.00M594.80,121.85l3.00,3.00M597.80,121.85l-3.00,3.00M578.58,131.04l3.00,3.00M581.58,131.04l-3.00,3.00M579.74,130.87l3.00,3.00M582.74,130.87l-3.00,3.00M580.75,130.14l3.00,3.00M583.75,130.14l-3.00,3.00M581.79,130.09l3.00,3.00M584.79,130.09l-3.00,3.00M591.85,141.86l3.00,3.00M594.85,141.86l-3.00,3.00M579.75,150.74l3.00,3.00M582.75,150.74l-3.00,3.00M587.41,139.22l3.00,3.00M590.41,139.22l-3.00,3.00M585.65,144.62l3.00,3.00M588.65,144.62l-3.00,3.00M584.39,149.11l3.00,3.00M587.39,149.11l-3.00,3.00M578.04,128.87l3.00,3.00M581.04,128.87l-3.00,3.00M590.02,126.99l3.00,3.00M593.02,126.99l-3.00,3.00M581.18,137.49l3.00,3.00M584.18,137.49l-3.00,3.00M595.29,131.55l3.00,3.00M598.29,131.55l-3.00,3.00M578.30,146.06l3.00,3.00M581.30,146.06l-3.00,3.00M587.48,114.40l3.00,3.00M590.48,114.40l-3.00,3.00M597.94,120.07l3.00,3.00M600.94,120.07l-3.00,3.00M590.69,130.17l3.00,3.00M593.69,130.17l-3.00,3.00M595.86,125.54l3.00,3.00M598.86,125.54l-3.00,3.00M589.54,119.18l3.00,3.00M592.54,119.18l-3.00,3.00M583.11,121.63l3.00,3.00M586.11,121.63l-3.00,3.00M594.03,114.85l3.00,3.00M597.03,114.85l-3.00,3.00M580.37,157.14l3.00,3.00M583.37,157.14l-3.00,3.00M592.81,111.81l3.00,3.00M595.81,111.81l-3.00,3.00M590.06,114.53l3.00,3.00M593.06,114.53l-3.00,3.00M588.27,135.68l3.00,3.00M591.27,135.68l-3.00,3.00M597.71,111.03l3.00,3.00M600.71,111.03l-3.00,3.00M585.72,155.25l3.00,3.00M588.72,155.25l-3.00,3.00M596.35,109.66l3.00,3.00M599.35,109.66l-3.00,3.00M591.52,116.67l3.00,3.00M594.52,116.67l-3.00,3.00M582.18,123.85l3.00,3.00M585.18,123.85l-3.00,3.00M582.74,122.53l3.00,3.00M585.74,122.53l-3.00,3.00M582.16,125.00l3.00,3.00M585.16,125.00l-3.00,3.00M591.51,136.17l3.00,3.00M594.51,136.17l-3.00,3.00M595.03,121.71l3.00,3.00M598.03,121.71l-3.00,3.00M584.43,118.15l3.00,3.00M587.43,118.15l-3.00,3.00M577.57,135.20l3.00,3.00M580.57,135.20l-3.00,3.00M595.84,110.01l3.00,3.00M598.84,110.01l-3.00,3.00M596.08,131.49l3.00,3.00M599.08,131.49l-3.00,3.00M595.50,111.67l3.00,3.00M598.50,111.67l-3.00,3.00M592.94,113.45l3.00,3.00M595.94,113.45l-3.00,3.00M587.28,114.06l3.00,3.00M590.28,114.06l-3.00,3.00M590.21,112.12l3.00,3.00M593.21,112.12l-3.00,3.00M582.66,147.15l3.00,3.00M585.66,147.15l-3.00,3.00M583.92,137.02l3.00,3.00M586.92,137.02l-3.00,3.00M584.66,154.74l3.00,3.00M587.66,154.74l-3.00,3.00M598.47,112.75l3.00,3.00M601.47,112.75l-3.00,3.00M598.42,118.82l3.00,3.00M601.42,118.82l-3.00,3.00M596.08,113.93l3.00,3.00M599.08,113.93l-3.00,3.00M589.22,136.78l3.00,3.00M592.22,136.78l-3.00,3.00M577.34,143.62l3.00,3.00M580.34,143.62l-3.00,3.00M582.46,148.16l3.00,3.00M585.46,148.16l-3.00,3.00M587.41,120.78l3.00,3.00M590.41,120.78l-3.00,3.00M592.30,114.23l3.00,3.00M595.30,114.23l-3.00,3.00M596.24,108.44l3.00,3.00M599.24,108.44l-3.00,3.00M594.04,118.81l3.00,3.00M597.04,118.81l-3.00,3.00M583.68,157.06l3.00,3.00M586.68,157.06l-3.00,3.00M583.58,126.19l3.00,3.00M586.58,126.19l-3.00,3.00M591.67,110.83l3.00,3.00M594.67,110.83l-3.00,3.00M577.78,142.49l3.00,3.00M580.78,142.49l-3.00,3.00M598.27,116.54l3.00,3.00M601.27,116.54l-3.00,3.00M586.95,117.63l3.00,3.00M589.95,117.63l-3.00,3.00M597.62,120.31l3.00,3.00M600.62,120.31l-3.00,3.00M585.17,121.11l3.00,3.00M588.17,121.11l-3.00,3.00M578.61,139.53l3.00,3.00M581.61,139.53l-3.00,3.00M586.91,117.65l3.00,3.00M589.91,117.65l-3.00,3.00M584.62,123.73l3.00,3.00M587.62,123.73l-3.00,3.00M579.63,137.72l3.00,3.00M582.63,137.72l-3.00,3.00M594.53,118.28l3.00,3.00M597.53,118.28l-3.00,3.00M584.87,148.16l3.00,3.00M587.87,148.16l-3.00,3.00M592.50,135.73l3.00,3.00M595.50,135.73l-3.00,3.00M581.53,136.72l3.00,3.00M584.53,136.72l-3.00,3.00M587.70,117.43l3.00,3.00M590.70,117.43l-3.00,3.00M595.02,123.64l3.00,3.00M598.02,123.64l-3.00,3.00M582.73,125.75l3.00,3.00M585.73,125.75l-3.00,3.00M579.37,130.18l3.00,3.00M582.37,130.18l-3.00,3.00M591.43,132.17l3.00,3.00M594.43,132.17l-3.00,3.00M581.30,135.04l3.00,3.00M584.30,135.04l-3.00,3.00M583.32,116.99l3.00,3.00M586.32,116.99l-3.00,3.00M582.01,147.72l3.00,3.00M585.01,147.72l-3.00,3.00M584.27,126.41l3.00,3.00M587.27,126.41l-3.00,3.00M588.97,139.43l3.00,3.00M591.97,139.43l-3.00,3.00M580.96,126.36l3.00,3.00M583.96,126.36l-3.00,3.00M584.25,136.64l3.00,3.00M587.25,136.64l-3.00,3.00M591.82,121.02l3.00,3.00M594.82,121.02l-3.00,3.00M578.30,136.60l3.00,3.00M581.30,136.60l-3.00,3.00M583.44,126.55l3.00,3.00M586.44,126.55l-3.00,3.00M587.62,136.68l3.00,3.00M590.62,136.68l-3.00,3.00M581.18,118.76l3.00,3.00M584.18,118.76l-3.00,3.00M577.01,127.96l3.00,3.00M580.01,127.96l-3.00,3.00M582.25,133.36l3.00,3.00M585.25,133.36l-3.00,3.00M582.53,139.66l3.00,3.00M585.53,139.66l-3.00,3.00M594.92,136.07l3.00,3.00M597.92,136.07l-3.00,3.00M585.56,133.56l3.00,3.00M588.56,133.56l-3.00,3.00M593.47,129.77l3.00,3.00M596.47,129.77l-3.00,3.00M595.61,129.59l3.00,3.00M598.61,129.59l-3.00,3.00M584.01,136.14l3.00,3.00M587.01,136.14l-3.00,3.00M580.21,134.78l3.00,3.00M583.21,134.78l-3.00,3.00M581.57,149.46l3.00,3.00M584.57,149.46l-3.00,3.00M578.06,125.66l3.00,3.00M581.06,125.66l-3.00,3.00M584.87,117.28l3.00,3.00M587.87,117.28l-3.00,3.00M594.01,110.49l3.00,3.00M597.01,110.49l-3.00,3.00M593.00,119.14l3.00,3.00M596.00,119.14l-3.00,3.00M581.22,138.89l3.00,3.00M584.22,138.89l-3.00,3.00M580.23,147.78l3.00,3.00M583.23,147.78l-3.00,3.00M586.36,147.26l3.00,3.00M589.36,147.26l-3.00,3.00M585.18,138.08l3.00,3.00M588.18,138.08l-3.00,3.00M593.24,129.97l3.00,3.00M596.24,129.97l-3.00,3.00M588.54,121.65l3.00,3.00M591.54,121.65l-3.00,3.00M577.55,129.29l3.00,3.00M580.55,129.29l-3.00,3.00M578.87,143.34l3.00,3.00M581.87,143.34l-3.00,3.00M592.92,125.04l3.00,3.00M595.92,125.04l-3.00,3.00M596.97,109.71l3.00,3.00M599.97,109.71l-3.00,3.00M588.68,125.35l3.00,3.00M591.68,125.35l-3.00,3.00M578.18,150.32l3.00,3.00M581.18,150.32l-3.00,3.00M587.07,135.86l3.00,3.00M590.07,135.86l-3.00,3.00M589.20,136.50l3.00,3.00M592.20,136.50l-3.00,3.00M584.62,149.07l3.00,3.00M587.62,149.07l-3.00,3.00M589.70,119.49l3.00,3.00M592.70,119.49l-3.00,3.00M589.15,124.00l3.00,3.00M592.15,124.00l-3.00,3.00M590.32,142.68l3.00,3.00M593.32,142.68l-3.00,3.00M581.10,152.71l3.00,3.00M584.10,152.71l-3.00,3.00M586.89,128.82l3.00,3.00M589.89,128.82l-3.00,3.00M589.69,146.24l3.00,3.00M592.69,146.24l-3.00,3.00M587.53,113.97l3.00,3.00M590.53,113.97l-3.00,3.00M581.52,126.10l3.00,3.00M584.52,126.10l-3.00,3.00M583.59,140.02l3.00,3.00M586.59,140.02l-3.00,3.00M587.66,143.30l3.00,3.00M590.66,143.30l-3.00,3.00M586.15,130.17l3.00,3.00M589.15,130.17l-3.00,3.00M590.29,146.21l3.00,3.00M593.29,146.21l-3.00,3.00M589.89,112.59l3.00,3.00M592.89,112.59l-3.00,3.00M586.04,117.16l3.00,3.00M589.04,117.16l-3.00,3.00M579.92,137.02l3.00,3.00M582.92,137.02l-3.00,3.00M586.04,126.15l3.00,3.00M589.04,126.15l-3.00,3.00M589.98,128.78l3.00,3.00M592.98,128.78l-3.00,3.00M579.14,155.77l3.00,3.00M582.14,155.77l-3.00,3.00M585.66,120.77l3.00,3.00M588.66,120.77l-3.00,3.00M591.77,127.80l3.00,3.00M594.77,127.80l-3.00,3.00M581.78,157.24l3.00,3.00M584.78,157.24l-3.00,3.00M586.46,149.57l3.00,3.00M589.46,149.57l-3.00,3.00M586.75,114.55l3.00,3.00M589.75,114.55l-3.00,3.00M582.00,141.60l3.00,3.00M585.00,141.60l-3.00,3.00M582.35,145.46l3.00,3.00M585.35,145.46l-3.00,3.00M592.33,127.59l3.00,3.00M595.33,127.59l-3.00,3.00M594.41,116.98l3.00,3.00M597.41,116.98l-3.00,3.00M588.72,146.78l3.00,3.00M591.72,146.78l-3.00,3.00M585.92,133.49l3.00,3.00M588.92,133.49l-3.00,3.00M587.98,151.14l3.00,3.00M590.98,151.14l-3.00,3.00M584.86,119.73l3.00,3.00M587.86,119.73l-3.00,3.00M585.84,149.53l3.00,3.00M588.84,149.53l-3.00,3.00M595.39,116.99l3.00,3.00M598.39,116.99l-3.00,3.00M585.04,147.75l3.00,3.00M588.04,147.75l-3.00,3.00M598.58,124.37l3.00,3.00M601.58,124.37l-3.00,3.00M599.93,112.11l3.00,3.00M602.93,112.11l-3.00,3.00M581.14,151.72l3.00,3.00M584.14,151.72l-3.00,3.00M580.27,152.55l3.00,3.00M583.27,152.55l-3.00,3.00M597.06,129.31l3.00,3.00M600.06,129.31l-3.00,3.00M581.53,132.28l3.00,3.00M584.53,132.28l-3.00,3.00M588.64,132.34l3.00,3.00M591.64,132.34l-3.00,3.00M594.77,116.84l3.00,3.00M597.77,116.84l-3.00,3.00M596.73,124.05l3.00,3.00M599.73,124.05l-3.00,3.00M586.63,153.26l3.00,3.00M589.63,153.26l-3.00,3.00M596.69,129.04l3.00,3.00M599.69,129.04l-3.00,3.00M585.29,134.12l3.00,3.00M588.29,134.12l-3.00,3.00M598.07,116.32l3.00,3.00M601.07,116.32l-3.00,3.00M594.33,131.69l3.00,3.00M597.33,131.69l-3.00,3.00M588.22,120.17l3.00,3.00M591.22,120.17l-3.00,3.00M581.74,123.42l3.00,3.00M584.74,123.42l-3.00,3.00M581.90,139.40l3.00,3.00M584.90,139.40l-3.00,3.00M590.95,145.09l3.00,3.00M593.95,145.09l-3.00,3.00M589.90,138.88l3.00,3.00M592.90,138.88l-3.00,3.00M589.94,131.82l3.00,3.00M592.94,131.82l-3.00,3.00M585.14,123.26l3.00,3.00M588.14,123.26l-3.00,3.00M584.92,133.41l3.00,3.00M587.92,133.41l-3.00,3.00M587.78,135.38l3.00,3.00M590.78,135.38l-3.00,3.00M584.52,138.52l3.00,3.00M587.52,138.52l-3.00,3.00M591.29,130.46l3.00,3.00M594.29,130.46l-3.00,3.00M588.16,119.50l3.00,3.00M591.16,119.50l-3.00,3.00M601.48,111.25l3.00,3.00M604.48,111.25l-3.00,3.00M585.28,123.12l3.00,3.00M588.28,123.12l-3.00,3.00M591.19,128.67l3.00,3.00M594.19,128.67l-3.00,3.00M593.32,135.91l3.00,3.00M596.32,135.91l-3.00,3.00M590.01,112.82l3.00,3.00M593.01,112.82l-3.00,3.00M583.57,145.30l3.00,3.00M586.57,145.30l-3.00,3.00M580.50,124.35l3.00,3.00M583.50,124.35l-3.00,3.00M593.42,125.53l3.00,3.00M596.42,125.53l-3.00,3.00M591.90,116.35l3.00,3.00M594.90,116.35l-3.00,3.00M586.58,119.89l3.00,3.00M589.58,119.89l-3.00,3.00M585.83,133.16l3.00,3.00M588.83,133.16l-3.00,3.00M585.58,121.12l3.00,3.00M588.58,121.12l-3.00,3.00M593.13,123.28l3.00,3.00M596.13,123.28l-3.00,3.00M589.12,139.58l3.00,3.00M592.12,139.58l-3.00,3.00M585.34,118.39l3.00,3.00M588.34,118.39l-3.00,3.00M586.81,153.29l3.00,3.00M589.81,153.29l-3.00,3.00M598.27,110.49l3.00,3.00M601.27,110.49l-3.00,3.00M580.87,119.48l3.00,3.00M583.87,119.48l-3.00,3.00M580.67,147.80l3.00,3.00M583.67,147.80l-3.00,3.00M585.32,149.28l3.00,3.00M588.32,149.28l-3.00,3.00M583.09,155.03l3.00,3.00M586.09,155.03l-3.00,3.00M580.05,127.53l3.00,3.00M583.05,127.53l-3.00,3.00M584.21,149.36l3.00,3.00M587.21,149.36l-3.00,3.00M590.15,122.36l3.00,3.00M593.15,122.36l-3.00,3.00M588.09,131.12l3.00,3.00M591.09,131.12l-3.00,3.00M591.37,126.81l3.00,3.00M594.37,126.81l-3.00,3.00M600.11,118.36l3.00,3.00M603.11,118.36l-3.00,3.00M588.88,142.74l3.00,3.00M591.88,142.74l-3.00,3.00M595.48,123.10l3.00,3.00M598.48,123.10l-3.00,3.00M579.56,142.66l3.00,3.00M582.56,142.66l-3.00,3.00M579.65,149.55l3.00,3.00M582.65,149.55l-3.00,3.00M593.59,120.68l3.00,3.00M596.59,120.68l-3.00,3.00M578.89,141.91l3.00,3.00M581.89,141.91l-3.00,3.00M586.21,125.99l3.00,3.00M589.21,125.99l-3.00,3.00M596.80,118.05l3.00,3.00M599.80,118.05l-3.00,3.00M590.26,145.87l3.00,3.00M593.26,145.87l-3.00,3.00M578.71,154.17l3.00,3.00M581.71,154.17l-3.00,3.00M577.85,149.31l3.00,3.00M580.85,149.31l-3.00,3.00M590.86,139.19l3.00,3.00M593.86,139.19l-3.00,3.00M582.11,147.73l3.00,3.00M585.11,147.73l-3.00,3.00M595.82,120.15l3.00,3.00M598.82,120.15l-3.00,3.00M598.38,119.30l3.00,3.00M601.38,119.30l-3.00,3.00M585.97,118.26l3.00,3.00M588.97,118.26l-3.00,3.00M580.35,133.83l3.00,3.00M583.35,133.83l-3.00,3.00M588.75,112.82l3.00,3.00M591.75,112.82l-3.00,3.00M589.65,121.41l3.00,3.00M592.65,121.41l-3.00,3.00M587.25,133.11l3.00,3.00M590.25,133.11l-3.00,3.00M598.21,110.91l3.00,3.00M601.21,110.91l-3.00,3.00M573.90,103.70l3.00,3.00M576.90,103.70l-3.00,3.00M590.50,100.50l3.00,3.00M593.50,100.50l-3.00,3.00M597.10,98.20l3.00,3.00M600.10,98.20l-3.00,3.00M603.50,94.00l3.00,3.00M606.50,94.00l-3.00,3.00M561.70,119.80l3.00,3.00M564.70,119.80l-3.00,3.00M563.00,127.30l3.00,3.00M566.00,127.30l-3.00,3.00M564.10,131.80l3.00,3.00M567.10,131.80l-3.00,3.00M560.80,138.50l3.00,3.00M563.80,138.50l-3.00,3.00M584.40,109.30l3.00,3.00M587.40,109.30l-3.00,3.00M585.50,114.90l3.00,3.00M588.50,114.90l-3.00,3.00M591.70,100.50l3.00,3.00M594.70,100.50l-3.00,3.00M595.70,100.50l3.00,3.00M598.70,100.50l-3.00,3.00M599.80,98.10l3.00,3.00M602.80,98.10l-3.00,3.00M604.50,93.20l3.00,3.00M607.50,93.20l-3.00,3.00M611.80,86.80l3.00,3.00M614.80,86.80l-3.00,3.00M624.70,96.50l3.00,3.00M627.70,96.50l-3.00,3.00M629.50,87.60l3.00,3.00M632.50,87.60l-3.00,3.00M568.50,123.50l3.00,3.00M571.50,123.50l-3.00,3.00M570.50,133.50l3.00,3.00M573.50,133.50l-3.00,3.00M571.74,117.88l3.20,3.20M574.94,117.88l-3.20,3.20M564.77,116.56l3.20,3.20M567.97,116.56l-3.20,3.20M574.50,146.45l3.20,3.20M577.70,146.45l-3.20,3.20M573.09,131.86l3.20,3.20M576.29,131.86l-3.20,3.20M562.19,132.65l3.20,3.20M565.39,132.65l-3.20,3.20M574.78,140.09l3.20,3.20M577.98,140.09l-3.20,3.20M560.43,149.94l3.20,3.20M563.63,149.94l-3.20,3.20M575.58,135.16l3.20,3.20M578.78,135.16l-3.20,3.20M560.75,139.80l3.20,3.20M563.95,139.80l-3.20,3.20M570.39,113.55l3.20,3.20M573.59,113.55l-3.20,3.20M567.50,114.05l3.20,3.20M570.70,114.05l-3.20,3.20M561.39,138.51l3.20,3.20M564.59,138.51l-3.20,3.20M572.65,125.43l3.20,3.20M575.85,125.43l-3.20,3.20M562.90,123.53l3.20,3.20M566.10,123.53l-3.20,3.20M564.05,133.99l3.20,3.20M567.25,133.99l-3.20,3.20M564.77,147.16l3.20,3.20M567.97,147.16l-3.20,3.20M560.65,121.91l3.20,3.20M563.85,121.91l-3.20,3.20M570.39,129.97l3.20,3.20M573.59,129.97l-3.20,3.20M561.73,127.72l3.20,3.20M564.93,127.72l-3.20,3.20M564.89,142.95l3.20,3.20M568.09,142.95l-3.20,3.20M564.23,137.06l3.20,3.20M567.43,137.06l-3.20,3.20M571.20,128.83l3.20,3.20M574.40,128.83l-3.20,3.20M575.21,134.20l3.00,3.00M578.21,134.20l-3.00,3.00M585.41,124.77l3.00,3.00M588.41,124.77l-3.00,3.00M624.32,77.62l3.00,3.00M627.32,77.62l-3.00,3.00M574.85,139.90l3.00,3.00M577.85,139.90l-3.00,3.00M582.06,119.54l3.00,3.00M585.06,119.54l-3.00,3.00M609.61,96.83l3.00,3.00M612.61,96.83l-3.00,3.00M611.55,96.50l3.00,3.00M614.55,96.50l-3.00,3.00M610.04,96.52l3.00,3.00M613.04,96.52l-3.00,3.00M596.09,113.09l3.00,3.00M599.09,113.09l-3.00,3.00M606.33,97.28l3.00,3.00M609.33,97.28l-3.00,3.00M593.94,117.04l3.00,3.00M596.94,117.04l-3.00,3.00M609.89,104.06l3.00,3.00M612.89,104.06l-3.00,3.00M588.06,116.17l3.00,3.00M591.06,116.17l-3.00,3.00M597.92,102.61l3.00,3.00M600.92,102.61l-3.00,3.00M582.28,122.89l3.00,3.00M585.28,122.89l-3.00,3.00M603.27,101.36l3.00,3.00M606.27,101.36l-3.00,3.00M579.66,128.94l3.00,3.00M582.66,128.94l-3.00,3.00M589.72,110.11l3.00,3.00M592.72,110.11l-3.00,3.00M604.94,108.45l3.00,3.00M607.94,108.45l-3.00,3.00M609.47,94.03l3.00,3.00M612.47,94.03l-3.00,3.00M610.57,95.93l3.00,3.00M613.57,95.93l-3.00,3.00M613.00,97.42l3.00,3.00M616.00,97.42l-3.00,3.00M598.21,106.17l3.00,3.00M601.21,106.17l-3.00,3.00M588.98,123.66l3.00,3.00M591.98,123.66l-3.00,3.00M599.89,106.12l3.00,3.00M602.89,106.12l-3.00,3.00" fill="none" stroke="#e7298a" stroke-width="0.9" stroke-opacity="1.0"/><path d="M650.40,88.05a1.50,1.50 0 1,0 3.00,0a1.50,1.50 0 1,0 -3.00,0M645.06,91.94a1.50,1.50 0 1,0 3.00,0a1.50,1.50 0 1,0 -3.00,0M648.94,86.83a1.50,1.50 0 1,0 3.00,0a1.50,1.50 0 1,0 -3.00,0M646.90,94.89a1.50,1.50 0 1,0 3.00,0a1.50,1.50 0 1,0 -3.00,0M650.21,93.01a1.50,1.50 0 1,0 3.00,0a1.50,1.50 0 1,0 -3.00,0M643.38,109.64a1.50,1.50 0 1,0 3.00,0a1.50,1.50 0 1,0 -3.00,0M650.59,98.28a1.50,1.50 0 1,0 3.00,0a1.50,1.50 0 1,0 -3.00,0M647.25,106.41a1.50,1.50 0 1,0 3.00,0a1.50,1.50 0 1,0 -3.00,0M652.33,92.35a1.50,1.50 0 1,0 3.00,0a1.50,1.50 0 1,0 -3.00,0M644.58,95.87a1.50,1.50 0 1,0 3.00,0a1.50,1.50 0 1,0 -3.00,0M641.00,102.87a1.50,1.50 0 1,0 3.00,0a1.50,1.50 0 1,0 -3.00,0M644.95,93.57a1.50,1.50 0 1,0 3.00,0a1.50,1.50 0 1,0 -3.00,0M643.08,108.88a1.50,1.50 0 1,0 3.00,0a1.50,1.50 0 1,0 -3.00,0M647.17,99.60a1.50,1.50 0 1,0 3.00,0a1.50,1.50 0 1,0 -3.00,0M644.70,110.73a1.50,1.50 0 1,0 3.00,0a1.50,1.50 0 1,0 -3.00,0M649.77,89.30a1.50,1.50 0 1,0 3.00,0a1.50,1.50 0 1,0 -3.00,0M642.79,96.39a1.50,1.50 0 1,0 3.00,0a1.50,1.50 0 1,0 -3.00,0M653.17,100.52a1.50,1.50 0 1,0 3.00,0a1.50,1.50 0 1,0 -3.00,0M642.49,102.47a1.50,1.50 0 1,0 3.00,0a1.50,1.50 0 1,0 -3.00,0M649.41,88.77a1.50,1.50 0 1,0 3.00,0a1.50,1.50 0 1,0 -3.00,0M655.55,93.62a1.50,1.50 0 1,0 3.00,0a1.50,1.50 0 1,0 -3.00,0M650.49,87.50a1.50,1.50 0 1,0 3.00,0a1.50,1.50 0 1,0 -3.00,0M644.37,104.31a1.50,1.50 0 1,0 3.00,0a1.50,1.50 0 1,0 -3.00,0M652.34,96.45a1.50,1.50 0 1,0 3.00,0a1.50,1.50 0 1,0 -3.00,0M654.89,85.93a1.50,1.50 0 1,0 3.00,0a1.50,1.50 0 1,0 -3.00,0M643.07,102.69a1.50,1.50 0 1,0 3.00,0a1.50,1.50 0 1,0 -3.00,0M648.19,100.18a1.50,1.50 0 1,0 3.00,0a1.50,1.50 0 1,0 -3.00,0M646.47,100.14a1.50,1.50 0 1,0 3.00,0a1.50,1.50 0 1,0 -3.00,0M649.08,93.38a1.50,1.50 0 1,0 3.00,0a1.50,1.50 0 1,0 -3.00,0M643.06,100.75a1.50,1.50 0 1,0 3.00,0a1.50,1.50 0 1,0 -3.00,0M645.99,89.61a1.50,1.50 0 1,0 3.00,0a1.50,1.50 0 1,0 -3.00,0M652.41,88.32a1.50,1.50 0 1,0 3.00,0a1.50,1.50 0 1,0 -3.00,0M644.03,98.60a1.50,1.50 0 1,0 3.00,0a1.50,1.50 0 1,0 -3.00,0M642.50,100.53a1.50,1.50 0 1,0 3.00,0a1.50,1.50 0 1,0 -3.00,0M647.51,90.76a1.50,1.50 0 1,0 3.00,0a1.50,1.50 0 1,0 -3.00,0M651.22,102.15a1.50,1.50 0 1,0 3.00,0a1.50,1.50 0 1,0 -3.00,0M656.16,93.83a1.50,1.50 0 1,0 3.00,0a1.50,1.50 0 1,0 -3.00,0M653.00,101.70a1.50,1.50 0 1,0 3.00,0a1.50,1.50 0 1,0 -3.00,0M649.28,85.65a1.50,1.50 0 1,0 3.00,0a1.50,1.50 0 1,0 -3.00,0M644.50,96.39a1.50,1.50 0 1,0 3.00,0a1.50,1.50 0 1,0 -3.00,0M653.86,87.69a1.50,1.50 0 1,0 3.00,0a1.50,1.50 0 1,0 -3.00,0M649.08,91.17a1.50,1.50 0 1,0 3.00,0a1.50,1.50 0 1,0 -3.00,0M648.47,95.37a1.50,1.50 0 1,0 3.00,0a1.50,1.50 0 1,0 -3.00,0M643.74,97.15a1.50,1.50 0 1,0 3.00,0a1.50,1.50 0 1,0 -3.00,0M643.96,110.49a1.50,1.50 0 1,0 3.00,0a1.50,1.50 0 1,0 -3.00,0M647.26,88.13a1.50,1.50 0 1,0 3.00,0a1.50,1.50 0 1,0 -3.00,0M652.38,89.15a1.50,1.50 0 1,0 3.00,0a1.50,1.50 0 1,0 -3.00,0M655.65,98.84a1.50,1.50 0 1,0 3.00,0a1.50,1.50 0 1,0 -3.00,0M653.70,101.21a1.50,1.50 0 1,0 3.00,0a1.50,1.50 0 1,0 -3.00,0M645.85,94.74a1.50,1.50 0 1,0 3.00,0a1.50,1.50 0 1,0 -3.00,0M645.76,109.90a1.50,1.50 0 1,0 3.00,0a1.50,1.50 0 1,0 -3.00,0M645.06,92.18a1.50,1.50 0 1,0 3.00,0a1.50,1.50 0 1,0 -3.00,0M644.18,103.42a1.50,1.50 0 1,0 3.00,0a1.50,1.50 0 1,0 -3.00,0M647.31,90.75a1.50,1.50 0 1,0 3.00,0a1.50,1.50 0 1,0 -3.00,0M641.57,106.80a1.50,1.50 0 1,0 3.00,0a1.50,1.50 0 1,0 -3.00,0M646.26,90.21a1.50,1.50 0 1,0 3.00,0a1.50,1.50 0 1,0 -3.00,0M654.49,99.81a1.50,1.50 0 1,0 3.00,0a1.50,1.50 0 1,0 -3.00,0M647.87,97.46a1.50,1.50 0 1,0 3.00,0a1.50,1.50 0 1,0 -3.00,0M649.16,106.16a1.50,1.50 0 1,0 3.00,0a1.50,1.50 0 1,0 -3.00,0M641.58,111.85a1.50,1.50 0 1,0 3.00,0a1.50,1.50 0 1,0 -3.00,0M654.84,91.79a1.50,1.50 0 1,0 3.00,0a1.50,1.50 0 1,0 -3.00,0M651.71,97.22a1.50,1.50 0 1,0 3.00,0a1.50,1.50 0 1,0 -3.00,0M646.72,92.54a1.50,1.50 0 1,0 3.00,0a1.50,1.50 0 1,0 -3.00,0M647.79,100.28a1.50,1.50 0 1,0 3.00,0a1.50,1.50 0 1,0 -3.00,0M646.27,100.88a1.50,1.50 0 1,0 3.00,0a1.50,1.50 0 1,0 -3.00,0M646.42,98.27a1.50,1.50 0 1,0 3.00,0a1.50,1.50 0 1,0 -3.00,0M647.73,107.71a1.50,1.50 0 1,0 3.00,0a1.50,1.50 0 1,0 -3.00,0M652.67,92.91a1.50,1.50 0 1,0 3.00,0a1.50,1.50 0 1,0 -3.00,0M641.44,105.59a1.50,1.50 0 1,0 3.00,0a1.50,1.50 0 1,0 -3.00,0M652.91,100.35a1.50,1.50 0 1,0 3.00,0a1.50,1.50 0 1,0 -3.00,0M641.56,111.82a1.50,1.50 0 1,0 3.00,0a1.50,1.50 0 1,0 -3.00,0M648.66,102.10a1.50,1.50 0 1,0 3.00,0a1.50,1.50 0 1,0 -3.00,0M642.35,95.16a1.50,1.50 0 1,0 3.00,0a1.50,1.50 0 1,0 -3.00,0M654.00,87.94a1.50,1.50 0 1,0 3.00,0a1.50,1.50 0 1,0 -3.00,0M651.20,85.35a1.50,1.50 0 1,0 3.00,0a1.50,1.50 0 1,0 -3.00,0M648.19,88.10a1.50,1.50 0 1,0 3.00,0a1.50,1.50 0 1,0 -3.00,0M650.88,95.81a1.50,1.50 0 1,0 3.00,0a1.50,1.50 0 1,0 -3.00,0M653.61,93.51a1.50,1.50 0 1,0 3.00,0a1.50,1.50 0 1,0 -3.00,0M656.88,87.90a1.50,1.50 0 1,0 3.00,0a1.50,1.50 0 1,0 -3.00,0M648.03,107.76a1.50,1.50 0 1,0 3.00,0a1.50,1.50 0 1,0 -3.00,0M643.37,96.52a1.50,1.50 0 1,0 3.00,0a1.50,1.50 0 1,0 -3.00,0M653.81,102.80a1.50,1.50 0 1,0 3.00,0a1.50,1.50 0 1,0 -3.00,0M643.22,95.26a1.50,1.50 0 1,0 3.00,0a1.50,1.50 0 1,0 -3.00,0M652.83,99.86a1.50,1.50 0 1,0 3.00,0a1.50,1.50 0 1,0 -3.00,0M645.07,108.31a1.50,1.50 0 1,0 3.00,0a1.50,1.50 0 1,0 -3.00,0M641.30,96.36a1.50,1.50 0 1,0 3.00,0a1.50,1.50 0 1,0 -3.00,0M652.10,92.00a1.50,1.50 0 1,0 3.00,0a1.50,1.50 0 1,0 -3.00,0M641.30,99.64a1.50,1.50 0 1,0 3.00,0a1.50,1.50 0 1,0 -3.00,0M654.02,90.80a1.50,1.50 0 1,0 3.00,0a1.50,1.50 0 1,0 -3.00,0M652.79,94.61a1.50,1.50 0 1,0 3.00,0a1.50,1.50 0 1,0 -3.00,0M642.08,106.69a1.50,1.50 0 1,0 3.00,0a1.50,1.50 0 1,0 -3.00,0M649.63,95.25a1.50,1.50 0 1,0 3.00,0a1.50,1.50 0 1,0 -3.00,0M647.65,100.09a1.50,1.50 0 1,0 3.00,0a1.50,1.50 0 1,0 -3.00,0M652.68,87.52a1.50,1.50 0 1,0 3.00,0a1.50,1.50 0 1,0 -3.00,0M649.21,91.63a1.50,1.50 0 1,0 3.00,0a1.50,1.50 0 1,0 -3.00,0M651.34,101.76a1.50,1.50 0 1,0 3.00,0a1.50,1.50 0 1,0 -3.00,0M656.84,87.84a1.50,1.50 0 1,0 3.00,0a1.50,1.50 0 1,0 -3.00,0M643.08,97.90a1.50,1.50 0 1,0 3.00,0a1.50,1.50 0 1,0 -3.00,0M655.75,95.49a1.50,1.50 0 1,0 3.00,0a1.50,1.50 0 1,0 -3.00,0M642.68,98.99a1.50,1.50 0 1,0 3.00,0a1.50,1.50 0 1,0 -3.00,0M653.56,97.11a1.50,1.50 0 1,0 3.00,0a1.50,1.50 0 1,0 -3.00,0M654.20,87.51a1.50,1.50 0 1,0 3.00,0a1.50,1.50 0 1,0 -3.00,0M654.25,96.87a1.50,1.50 0 1,0 3.00,0a1.50,1.50 0 1,0 -3.00,0M649.90,86.04a1.50,1.50 0 1,0 3.00,0a1.50,1.50 0 1,0 -3.00,0M646.90,95.27a1.50,1.50 0 1,0 3.00,0a1.50,1.50 0 1,0 -3.00,0M651.69,91.11a1.50,1.50 0 1,0 3.00,0a1.50,1.50 0 1,0 -3.00,0M648.24,97.53a1.50,1.50 0 1,0 3.00,0a1.50,1.50 0 1,0 -3.00,0M645.12,92.37a1.50,1.50 0 1,0 3.00,0a1.50,1.50 0 1,0 -3.00,0M644.84,107.56a1.50,1.50 0 1,0 3.00,0a1.50,1.50 0 1,0 -3.00,0M653.74,94.82a1.50,1.50 0 1,0 3.00,0a1.50,1.50 0 1,0 -3.00,0M653.69,87.38a1.50,1.50 0 1,0 3.00,0a1.50,1.50 0 1,0 -3.00,0M652.01,103.59a1.50,1.50 0 1,0 3.00,0a1.50,1.50 0 1,0 -3.00,0M649.18,101.47a1.50,1.50 0 1,0 3.00,0a1.50,1.50 0 1,0 -3.00,0M647.33,96.40a1.50,1.50 0 1,0 3.00,0a1.50,1.50 0 1,0 -3.00,0M647.54,101.28a1.50,1.50 0 1,0 3.00,0a1.50,1.50 0 1,0 -3.00,0M654.27,93.84a1.50,1.50 0 1,0 3.00,0a1.50,1.50 0 1,0 -3.00,0M649.02,95.31a1.50,1.50 0 1,0 3.00,0a1.50,1.50 0 1,0 -3.00,0M642.02,103.92a1.50,1.50 0 1,0 3.00,0a1.50,1.50 0 1,0 -3.00,0M652.43,96.53a1.50,1.50 0 1,0 3.00,0a1.50,1.50 0 1,0 -3.00,0M644.34,98.01a1.50,1.50 0 1,0 3.00,0a1.50,1.50 0 1,0 -3.00,0M645.46,110.59a1.50,1.50 0 1,0 3.00,0a1.50,1.50 0 1,0 -3.00,0M653.35,95.51a1.50,1.50 0 1,0 3.00,0a1.50,1.50 0 1,0 -3.00,0M651.28,90.40a1.50,1.50 0 1,0 3.00,0a1.50,1.50 0 1,0 -3.00,0M643.77,110.42a1.50,1.50 0 1,0 3.00,0a1.50,1.50 0 1,0 -3.00,0M648.93,104.08a1.50,1.50 0 1,0 3.00,0a1.50,1.50 0 1,0 -3.00,0M645.49,95.51a1.50,1.50 0 1,0 3.00,0a1.50,1.50 0 1,0 -3.00,0M655.96,88.79a1.50,1.50 0 1,0 3.00,0a1.50,1.50 0 1,0 -3.00,0M646.41,109.75a1.50,1.50 0 1,0 3.00,0a1.50,1.50 0 1,0 -3.00,0M654.98,91.88a1.50,1.50 0 1,0 3.00,0a1.50,1.50 0 1,0 -3.00,0M651.87,87.54a1.50,1.50 0 1,0 3.00,0a1.50,1.50 0 1,0 -3.00,0M646.77,89.97a1.50,1.50 0 1,0 3.00,0a1.50,1.50 0 1,0 -3.00,0M646.34,102.99a1.50,1.50 0 1,0 3.00,0a1.50,1.50 0 1,0 -3.00,0M655.85,93.03a1.50,1.50 0 1,0 3.00,0a1.50,1.50 0 1,0 -3.00,0M644.97,96.12a1.50,1.50 0 1,0 3.00,0a1.50,1.50 0 1,0 -3.00,0M643.52,107.72a1.50,1.50 0 1,0 3.00,0a1.50,1.50 0 1,0 -3.00,0M653.30,102.80a1.50,1.50 0 1,0 3.00,0a1.50,1.50 0 1,0 -3.00,0M650.68,92.67a1.50,1.50 0 1,0 3.00,0a1.50,1.50 0 1,0 -3.00,0M643.95,105.45a1.50,1.50 0 1,0 3.00,0a1.50,1.50 0 1,0 -3.00,0M640.59,111.77a1.50,1.50 0 1,0 3.00,0a1.50,1.50 0 1,0 -3.00,0M641.75,110.34a1.50,1.50 0 1,0 3.00,0a1.50,1.50 0 1,0 -3.00,0M648.17,88.07a1.50,1.50 0 1,0 3.00,0a1.50,1.50 0 1,0 -3.00,0M648.82,90.98a1.50,1.50 0 1,0 3.00,0a1.50,1.50 0 1,0 -3.00,0M650.66,101.83a1.50,1.50 0 1,0 3.00,0a1.50,1.50 0 1,0 -3.00,0M654.10,98.21a1.50,1.50 0 1,0 3.00,0a1.50,1.50 0 1,0 -3.00,0M650.06,99.57a1.50,1.50 0 1,0 3.00,0a1.50,1.50 0 1,0 -3.00,0M646.58,98.28a1.50,1.50 0 1,0 3.00,0a1.50,1.50 0 1,0 -3.00,0M642.69,96.07a1.50,1.50 0 1,0 3.00,0a1.50,1.50 0 1,0 -3.00,0M649.68,105.24a1.50,1.50 0 1,0 3.00,0a1.50,1.50 0 1,0 -3.00,0M651.72,87.46a1.50,1.50 0 1,0 3.00,0a1.50,1.50 0 1,0 -3.00,0M642.72,97.86a1.50,1.50 0 1,0 3.00,0a1.50,1.50 0 1,0 -3.00,0M652.93,92.21a1.50,1.50 0 1,0 3.00,0a1.50,1.50 0 1,0 -3.00,0M652.31,90.92a1.50,1.50 0 1,0 3.00,0a1.50,1.50 0 1,0 -3.00,0M644.42,107.91a1.50,1.50 0 1,0 3.00,0a1.50,1.50 0 1,0 -3.00,0M642.48,107.65a1.50,1.50 0 1,0 3.00,0a1.50,1.50 0 1,0 -3.00,0M647.44,99.45a1.50,1.50 0 1,0 3.00,0a1.50,1.50 0 1,0 -3.00,0M647.72,97.60a1.50,1.50 0 1,0 3.00,0a1.50,1.50 0 1,0 -3.00,0M655.63,95.23a1.50,1.50 0 1,0 3.00,0a1.50,1.50 0 1,0 -3.00,0M655.18,92.66a1.50,1.50 0 1,0 3.00,0a1.50,1.50 0 1,0 -3.00,0M652.44,88.90a1.50,1.50 0 1,0 3.00,0a1.50,1.50 0 1,0 -3.00,0M649.51,105.08a1.50,1.50 0 1,0 3.00,0a1.50,1.50 0 1,0 -3.00,0M653.92,86.07a1.50,1.50 0 1,0 3.00,0a1.50,1.50 0 1,0 -3.00,0M652.41,88.87a1.50,1.50 0 1,0 3.00,0a1.50,1.50 0 1,0 -3.00,0M656.44,92.98a1.50,1.50 0 1,0 3.00,0a1.50,1.50 0 1,0 -3.00,0M654.40,89.15a1.50,1.50 0 1,0 3.00,0a1.50,1.50 0 1,0 -3.00,0M642.92,109.68a1.50,1.50 0 1,0 3.00,0a1.50,1.50 0 1,0 -3.00,0M646.68,90.98a1.50,1.50 0 1,0 3.00,0a1.50,1.50 0 1,0 -3.00,0M652.29,104.10a1.50,1.50 0 1,0 3.00,0a1.50,1.50 0 1,0 -3.00,0M644.19,99.26a1.50,1.50 0 1,0 3.00,0a1.50,1.50 0 1,0 -3.00,0M651.04,101.06a1.50,1.50 0 1,0 3.00,0a1.50,1.50 0 1,0 -3.00,0M644.09,96.18a1.50,1.50 0 1,0 3.00,0a1.50,1.50 0 1,0 -3.00,0M642.96,98.08a1.50,1.50 0 1,0 3.00,0a1.50,1.50 0 1,0 -3.00,0M654.92,90.58a1.50,1.50 0 1,0 3.00,0a1.50,1.50 0 1,0 -3.00,0M642.43,101.92a1.50,1.50 0 1,0 3.00,0a1.50,1.50 0 1,0 -3.00,0M643.90,102.33a1.50,1.50 0 1,0 3.00,0a1.50,1.50 0 1,0 -3.00,0M656.77,88.82a1.50,1.50 0 1,0 3.00,0a1.50,1.50 0 1,0 -3.00,0M649.39,96.70a1.50,1.50 0 1,0 3.00,0a1.50,1.50 0 1,0 -3.00,0M652.13,100.77a1.50,1.50 0 1,0 3.00,0a1.50,1.50 0 1,0 -3.00,0M652.20,87.56a1.50,1.50 0 1,0 3.00,0a1.50,1.50 0 1,0 -3.00,0M645.82,110.05a1.50,1.50 0 1,0 3.00,0a1.50,1.50 0 1,0 -3.00,0M650.38,98.66a1.50,1.50 0 1,0 3.00,0a1.50,1.50 0 1,0 -3.00,0" fill="none" stroke="#1b9e77" stroke-width="0.75" stroke-opacity="1.0"/><path d="M630.60,106.50l3.00,3.00M633.60,106.50l-3.00,3.00M636.80,95.00l3.00,3.00M639.80,95.00l-3.00,3.00" fill="none" stroke="#1b9e77" stroke-width="0.8" stroke-opacity="1.0"/><path d="M590.85,172.79h3.90M592.80,170.84v3.90M599.21,170.88h3.90M601.16,168.93v3.90M598.36,187.22h3.90M600.31,185.27v3.90M596.05,186.72h3.90M598.00,184.77v3.90M602.62,167.48h3.90M604.57,165.53v3.90M597.79,179.30h3.90M599.74,177.35v3.90M594.13,171.79h3.90M596.08,169.84v3.90M605.83,171.14h3.90M607.78,169.19v3.90M602.91,171.69h3.90M604.86,169.74v3.90M599.96,176.30h3.90M601.91,174.35v3.90M599.61,165.32h3.90M601.56,163.37v3.90M600.12,184.52h3.90M602.07,182.57v3.90M593.66,172.32h3.90M595.61,170.37v3.90M590.04,167.38h3.90M591.99,165.43v3.90M595.67,182.71h3.90M597.62,180.76v3.90M596.89,169.83h3.90M598.84,167.88v3.90M603.44,180.02h3.90M605.39,178.07v3.90M599.00,179.30h3.90M600.95,177.35v3.90M595.21,162.60h3.90M597.16,160.65v3.90M596.43,169.59h3.90M598.38,167.64v3.90M597.17,177.29h3.90M599.12,175.34v3.90M590.83,166.11h3.90M592.78,164.16v3.90M604.79,185.07h3.90M606.74,183.12v3.90M609.31,170.66h3.90M611.26,168.71v3.90M609.43,157.81h3.90M611.38,155.86v3.90M600.07,165.42h3.90M602.02,163.47v3.90M594.92,158.89h3.90M596.87,156.94v3.90M603.70,170.95h3.90M605.65,169.00v3.90M613.43,155.43h3.90M615.38,153.48v3.90M597.69,159.60h3.90M599.64,157.65v3.90M605.79,178.61h3.90M607.74,176.66v3.90M596.04,158.09h3.90M597.99,156.14v3.90M609.67,163.80h3.90M611.62,161.85v3.90M600.88,186.20h3.90M602.83,184.25v3.90M594.68,159.84h3.90M596.63,157.89v3.90M598.61,167.52h3.90M600.56,165.57v3.90M598.08,166.42h3.90M600.03,164.47v3.90M601.99,177.83h3.90M603.94,175.88v3.90M597.88,189.38h3.90M599.83,187.43v3.90M608.98,175.58h3.90M610.93,173.63v3.90M599.31,187.36h3.90M601.26,185.41v3.90M600.61,170.12h3.90M602.56,168.17v3.90M592.85,161.97h3.90M594.80,160.02v3.90M606.28,175.12h3.90M608.23,173.17v3.90M599.86,169.74h3.90M601.81,167.79v3.90M595.41,169.82h3.90M597.36,167.87v3.90M595.73,161.46h3.90M597.68,159.51v3.90M598.61,177.07h3.90M600.56,175.12v3.90M590.04,168.11h3.90M591.99,166.16v3.90M593.07,180.76h3.90M595.02,178.81v3.90M598.83,170.78h3.90M600.78,168.83v3.90M596.70,159.13h3.90M598.65,157.18v3.90M599.03,166.17h3.90M600.98,164.22v3.90M594.51,181.18h3.90M596.46,179.23v3.90M613.29,158.41h3.90M615.24,156.46v3.90M603.35,183.95h3.90M605.30,182.00v3.90M592.80,164.18h3.90M594.75,162.23v3.90M605.70,167.44h3.90M607.65,165.49v3.90M603.83,173.41h3.90M605.78,171.46v3.90M596.30,174.82h3.90M598.25,172.87v3.90M613.51,160.11h3.90M615.46,158.16v3.90M600.61,177.10h3.90M602.56,175.15v3.90M597.97,183.38h3.90M599.92,181.43v3.90M598.73,184.44h3.90M600.68,182.49v3.90M602.39,176.31h3.90M604.34,174.36v3.90M611.94,160.61h3.90M613.89,158.66v3.90M602.16,167.31h3.90M604.11,165.36v3.90M594.70,160.15h3.90M596.65,158.20v3.90M607.26,166.60h3.90M609.21,164.65v3.90M601.91,167.72h3.90M603.86,165.77v3.90M597.75,181.35h3.90M599.70,179.40v3.90M605.16,172.02h3.90M607.11,170.07v3.90M605.19,181.15h3.90M607.14,179.20v3.90M604.07,184.74h3.90M606.02,182.79v3.90M597.26,162.69h3.90M599.21,160.74v3.90M601.21,184.80h3.90M603.16,182.85v3.90M601.30,189.04h3.90M603.25,187.09v3.90M593.97,176.27h3.90M595.92,174.32v3.90M596.88,175.06h3.90M598.83,173.11v3.90M608.70,166.62h3.90M610.65,164.67v3.90M594.10,171.34h3.90M596.05,169.39v3.90M597.35,162.23h3.90M599.30,160.28v3.90M601.52,184.74h3.90M603.47,182.79v3.90M603.72,176.87h3.90M605.67,174.92v3.90M595.37,174.69h3.90M597.32,172.74v3.90M608.35,166.76h3.90M610.30,164.81v3.90M604.94,167.10h3.90M606.89,165.15v3.90M608.69,176.38h3.90M610.64,174.43v3.90M590.29,165.54h3.90M592.24,163.59v3.90M601.51,172.22h3.90M603.46,170.27v3.90M594.88,174.41h3.90M596.83,172.46v3.90M610.15,165.63h3.90M612.10,163.68v3.90M595.59,172.53h3.90M597.54,170.58v3.90M612.91,161.99h3.90M614.86,160.04v3.90M591.96,171.89h3.90M593.91,169.94v3.90M593.06,165.93h3.90M595.01,163.98v3.90M599.71,191.35h3.90M601.66,189.40v3.90M597.93,188.95h3.90M599.88,187.00v3.90M590.35,172.11h3.90M592.30,170.16v3.90M597.02,181.13h3.90M598.97,179.18v3.90M604.84,164.99h3.90M606.79,163.04v3.90M606.08,158.58h3.90M608.03,156.63v3.90M591.95,171.72h3.90M593.90,169.77v3.90M590.56,168.32h3.90M592.51,166.37v3.90M604.28,163.96h3.90M606.23,162.01v3.90M595.16,180.97h3.90M597.11,179.02v3.90M611.22,164.18h3.90M613.17,162.23v3.90M602.35,187.74h3.90M604.30,185.79v3.90M597.18,188.48h3.90M599.13,186.53v3.90M596.39,172.20h3.90M598.34,170.25v3.90M613.12,167.71h3.90M615.07,165.76v3.90M599.51,183.67h3.90M601.46,181.72v3.90M596.45,187.79h3.90M598.40,185.84v3.90M608.73,177.06h3.90M610.68,175.11v3.90M598.11,182.28h3.90M600.06,180.33v3.90M600.18,183.75h3.90M602.13,181.80v3.90M604.37,167.77h3.90M606.32,165.82v3.90M597.67,173.51h3.90M599.62,171.56v3.90M593.18,163.86h3.90M595.13,161.91v3.90M605.61,161.33h3.90M607.56,159.38v3.90M597.77,160.58h3.90M599.72,158.63v3.90M596.67,169.30h3.90M598.62,167.35v3.90M593.20,165.82h3.90M595.15,163.87v3.90M605.66,169.82h3.90M607.61,167.87v3.90M594.01,179.44h3.90M595.96,177.49v3.90M611.44,167.59h3.90M613.39,165.64v3.90M610.25,170.79h3.90M612.20,168.84v3.90M601.47,163.99h3.90M603.42,162.04v3.90M610.94,159.11h3.90M612.89,157.16v3.90M596.30,174.76h3.90M598.25,172.81v3.90M612.83,161.25h3.90M614.78,159.30v3.90M600.63,185.01h3.90M602.58,183.06v3.90M590.66,165.40h3.90M592.61,163.45v3.90M602.01,180.80h3.90M603.96,178.85v3.90M601.10,176.67h3.90M603.05,174.72v3.90M596.87,161.55h3.90M598.82,159.60v3.90M597.78,165.29h3.90M599.73,163.34v3.90M598.17,174.11h3.90M600.12,172.16v3.90M593.73,171.45h3.90M595.68,169.50v3.90M598.50,168.92h3.90M600.45,166.97v3.90M611.71,165.60h3.90M613.66,163.65v3.90M599.24,167.41h3.90M601.19,165.46v3.90M603.02,179.20h3.90M604.97,177.25v3.90M592.51,165.97h3.90M594.46,164.02v3.90M601.07,179.46h3.90M603.02,177.51v3.90M599.27,182.82h3.90M601.22,180.87v3.90M610.56,163.42h3.90M612.51,161.47v3.90M597.76,176.49h3.90M599.71,174.54v3.90M610.32,161.23h3.90M612.27,159.28v3.90M610.18,156.21h3.90M612.13,154.26v3.90M612.00,169.06h3.90M613.95,167.11v3.90M595.19,184.25h3.90M597.14,182.30v3.90M598.21,187.71h3.90M600.16,185.76v3.90M596.71,187.40h3.90M598.66,185.45v3.90M598.57,176.92h3.90M600.52,174.97v3.90M597.62,178.16h3.90M599.57,176.21v3.90M591.30,167.96h3.90M593.25,166.01v3.90M598.57,177.00h3.90M600.52,175.05v3.90M609.67,173.14h3.90M611.62,171.19v3.90M613.38,159.72h3.90M615.33,157.77v3.90M607.96,169.33h3.90M609.91,167.38v3.90M595.08,166.84h3.90M597.03,164.89v3.90M599.09,172.90h3.90M601.04,170.95v3.90M601.95,184.96h3.90M603.90,183.01v3.90M609.43,169.43h3.90M611.38,167.48v3.90M608.85,177.24h3.90M610.80,175.29v3.90M602.36,189.60h3.90M604.31,187.65v3.90M591.19,174.04h3.90M593.14,172.09v3.90M594.85,172.08h3.90M596.80,170.13v3.90M604.72,162.33h3.90M606.67,160.38v3.90M591.45,173.19h3.90M593.40,171.24v3.90M606.66,174.37h3.90M608.61,172.42v3.90M600.94,176.48h3.90M602.89,174.53v3.90M599.38,173.48h3.90M601.33,171.53v3.90M596.21,179.60h3.90M598.16,177.65v3.90M612.73,156.09h3.90M614.68,154.14v3.90M598.13,173.78h3.90M600.08,171.83v3.90M599.96,164.04h3.90M601.91,162.09v3.90M594.08,165.90h3.90M596.03,163.95v3.90M591.25,164.74h3.90M593.20,162.79v3.90M605.79,173.25h3.90M607.74,171.30v3.90M597.80,180.47h3.90M599.75,178.52v3.90M598.29,186.79h3.90M600.24,184.84v3.90M610.75,162.88h3.90M612.70,160.93v3.90M602.62,167.99h3.90M604.57,166.04v3.90M614.15,162.92h3.90M616.10,160.97v3.90M607.98,172.99h3.90M609.93,171.04v3.90M607.26,170.58h3.90M609.21,168.63v3.90M602.82,179.37h3.90M604.77,177.42v3.90M593.83,161.66h3.90M595.78,159.71v3.90M612.40,156.17h3.90M614.35,154.22v3.90M601.19,163.22h3.90M603.14,161.27v3.90M603.31,165.59h3.90M605.26,163.64v3.90M612.22,157.65h3.90M614.17,155.70v3.90M599.86,185.51h3.90M601.81,183.56v3.90M605.09,162.52h3.90M607.04,160.57v3.90M602.43,187.87h3.90M604.38,185.92v3.90M601.20,165.79h3.90M603.15,163.84v3.90M601.92,167.90h3.90M603.87,165.95v3.90M613.94,155.01h3.90M615.89,153.06v3.90M594.73,162.29h3.90M596.68,160.34v3.90M602.40,168.98h3.90M604.35,167.03v3.90M592.83,177.76h3.90M594.78,175.81v3.90M598.20,173.36h3.90M600.15,171.41v3.90M597.35,168.75h3.90M599.30,166.80v3.90M609.03,169.80h3.90M610.98,167.85v3.90M611.45,158.28h3.90M613.40,156.33v3.90M597.59,160.59h3.90M599.54,158.64v3.90M609.32,160.18h3.90M611.27,158.23v3.90M603.75,173.60h3.90M605.70,171.65v3.90M607.99,174.42h3.90M609.94,172.47v3.90M603.30,173.95h3.90M605.25,172.00v3.90M602.11,181.99h3.90M604.06,180.04v3.90M598.74,179.08h3.90M600.69,177.13v3.90M596.24,182.37h3.90M598.19,180.42v3.90M609.49,174.74h3.90M611.44,172.79v3.90M599.15,183.86h3.90M601.10,181.91v3.90M608.92,170.63h3.90M610.87,168.68v3.90M600.83,177.63h3.90M602.78,175.68v3.90M591.19,174.26h3.90M593.14,172.31v3.90M610.77,158.61h3.90M612.72,156.66v3.90M591.76,173.26h3.90M593.71,171.31v3.90M604.93,168.57h3.90M606.88,166.62v3.90M600.14,190.64h3.90M602.09,188.69v3.90M594.09,166.26h3.90M596.04,164.31v3.90M605.08,175.64h3.90M607.03,173.69v3.90M613.97,162.66h3.90M615.92,160.71v3.90M610.68,162.94h3.90M612.63,160.99v3.90M606.52,171.18h3.90M608.47,169.23v3.90M598.31,182.83h3.90M600.26,180.88v3.90M605.66,168.96h3.90M607.61,167.01v3.90M596.22,162.58h3.90M598.17,160.63v3.90M590.71,171.46h3.90M592.66,169.51v3.90M598.42,165.58h3.90M600.37,163.63v3.90M597.56,163.51h3.90M599.51,161.56v3.90M596.33,185.77h3.90M598.28,183.82v3.90M601.65,180.31h3.90M603.60,178.36v3.90M606.21,163.17h3.90M608.16,161.22v3.90M606.84,180.79h3.90M608.79,178.84v3.90M596.12,183.13h3.90M598.07,181.18v3.90M598.54,183.42h3.90M600.49,181.47v3.90M603.61,176.34h3.90M605.56,174.39v3.90M592.15,160.82h3.90M594.10,158.87v3.90M598.49,171.62h3.90M600.44,169.67v3.90M604.02,181.14h3.90M605.97,179.19v3.90M607.70,166.62h3.90M609.65,164.67v3.90M605.64,175.73h3.90M607.59,173.78v3.90M601.72,174.10h3.90M603.67,172.15v3.90M609.97,169.64h3.90M611.92,167.69v3.90M608.76,176.92h3.90M610.71,174.97v3.90M611.71,157.79h3.90M613.66,155.84v3.90M593.68,161.53h3.90M595.63,159.58v3.90M600.14,176.12h3.90M602.09,174.17v3.90M600.55,173.08h3.90M602.50,171.13v3.90M604.30,182.29h3.90M606.25,180.34v3.90M612.08,157.56h3.90M614.03,155.61v3.90M591.32,162.45h3.90M593.27,160.50v3.90M594.05,161.32h3.90M596.00,159.37v3.90M599.55,186.48h3.90M601.50,184.53v3.90M604.48,182.16h3.90M606.43,180.21v3.90M602.17,190.24h3.90M604.12,188.29v3.90M611.58,158.73h3.90M613.53,156.78v3.90M602.30,168.13h3.90M604.25,166.18v3.90M607.41,166.22h3.90M609.36,164.27v3.90M612.44,162.75h3.90M614.39,160.80v3.90M594.74,162.33h3.90M596.69,160.38v3.90M604.57,162.47h3.90M606.52,160.52v3.90M602.84,183.11h3.90M604.79,181.16v3.90M600.26,189.31h3.90M602.21,187.36v3.90M611.95,160.81h3.90M613.90,158.86v3.90M606.05,147.70h3.90M608.00,145.75v3.90M612.75,150.60h3.90M614.70,148.65v3.90M620.55,155.40h3.90M622.50,153.45v3.90M585.75,179.60h3.90M587.70,177.65v3.90M588.65,163.20h3.90M590.60,161.25v3.90M596.35,158.30h3.90M598.30,156.35v3.90M594.05,154.00h3.90M596.00,152.05v3.90M617.05,158.00h3.90M619.00,156.05v3.90M588.05,171.00h3.90M590.00,169.05v3.90M590.05,186.00h3.90M592.00,184.05v3.90M609.05,149.00h3.90M611.00,147.05v3.90M586.55,166.00h3.90M588.50,164.05v3.90M614.05,173.00h3.90M616.00,171.05v3.90M618.05,163.00h3.90M620.00,161.05v3.90" fill="none" stroke="#d95f02" stroke-width="1.0" stroke-opacity="1.0"/>
</svg>
</body></html>
